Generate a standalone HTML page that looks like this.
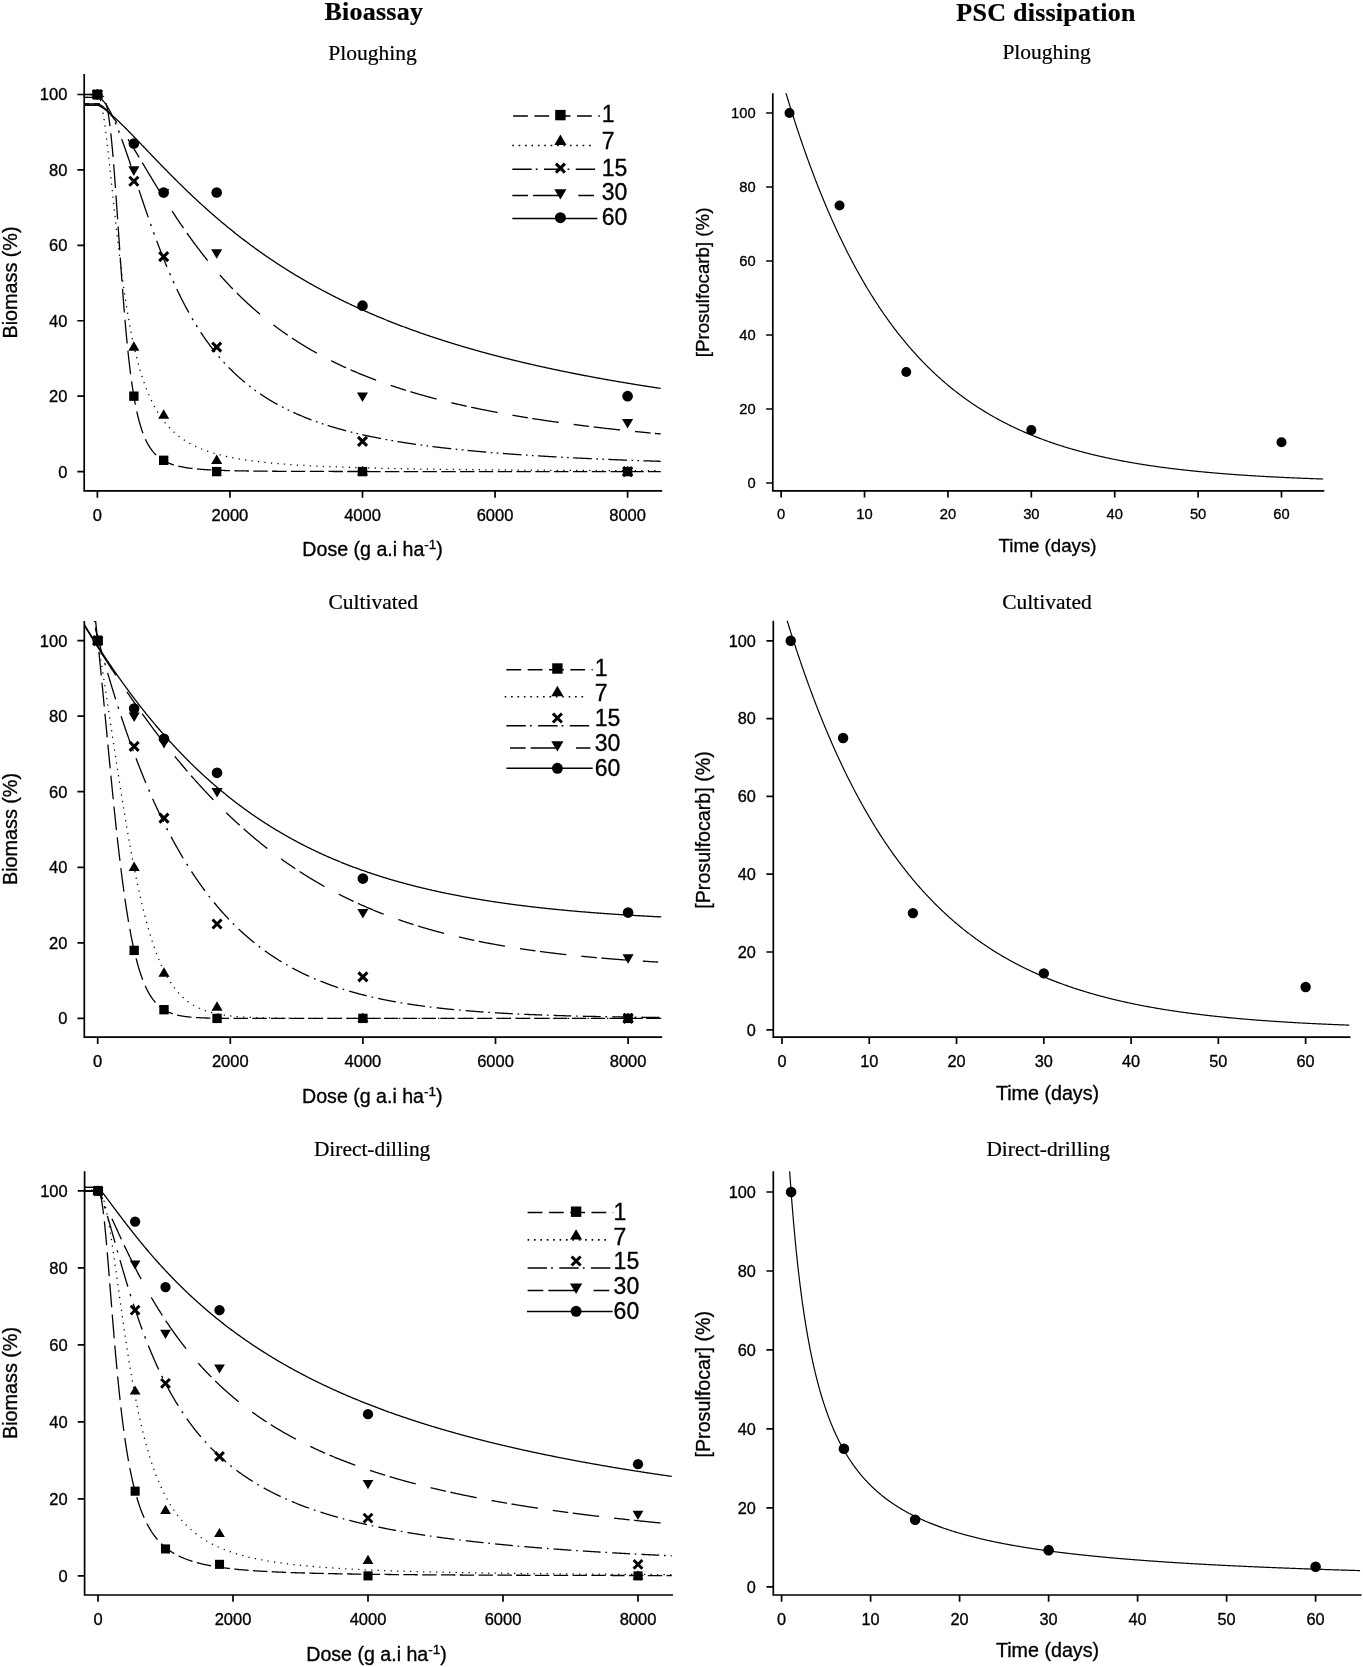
<!DOCTYPE html>
<html><head><meta charset="utf-8"><title>Figure</title>
<style>html,body{margin:0;padding:0;background:#fff}svg{display:block;will-change:transform;opacity:0.999}text{stroke:#000;stroke-width:0.33px;stroke-linejoin:round}text.t{stroke-width:0.22px}</style></head>
<body>
<svg width="1363" height="1667" viewBox="0 0 1363 1667">
<rect width="1363" height="1667" fill="#fff"/>
<text class="t" x="373.80" y="19.90" text-anchor="middle" font-family='"Liberation Serif", serif' font-size="26.00" font-weight="bold" letter-spacing="0.25" fill="#000">Bioassay</text>
<text class="t" x="1046.00" y="20.60" text-anchor="middle" font-family='"Liberation Serif", serif' font-size="26.00" font-weight="bold" letter-spacing="0.25" fill="#000">PSC dissipation</text>
<text class="t" x="372.50" y="59.70" text-anchor="middle" font-family='"Liberation Serif", serif' font-size="21.50" fill="#000">Ploughing</text>
<clipPath id="c1"><rect x="84.20" y="74.00" width="580.00" height="416.90"/></clipPath>
<g clip-path="url(#c1)">
<path d="M84.15 94.50 L84.79 94.50 L85.05 94.50 M89.45 94.50 L89.92 94.50 L90.56 94.50 L91.20 94.50 L91.84 94.50 L92.48 94.50 L93.12 94.50 L93.77 94.50 L94.41 94.50 L95.05 94.50 L95.69 94.50 L96.33 94.50 L96.97 94.50 L97.61 94.50 L98.26 94.50 L98.90 94.52 L99.54 94.56 L100.18 94.66 L100.82 94.84 L101.46 95.12 L102.10 95.54 L102.74 96.14 L103.39 96.95 L103.47 97.09 M105.96 103.08 L106.59 105.47 L107.23 108.33 L107.88 111.65 L108.52 115.46 L109.16 119.77 L109.80 124.60 L109.98 126.07 M110.81 133.28 L111.08 135.82 L111.72 142.19 L112.37 149.06 L113.01 156.39 L113.06 156.98 M113.66 164.24 L114.29 172.31 L114.93 180.80 L115.46 188.05 M115.98 195.34 L116.21 198.62 L116.85 207.83 L117.50 217.16 L117.63 219.18 M118.13 226.46 L118.14 226.58 L118.78 236.01 L119.42 245.40 L119.76 250.31 M120.26 257.60 L120.70 263.92 L121.34 272.96 L121.96 281.43 M122.50 288.71 L122.63 290.42 L123.27 298.80 L123.91 306.91 L124.37 312.50 M124.98 319.77 L125.19 322.28 L125.83 329.53 L126.48 336.47 L127.12 343.12 L127.15 343.49 M127.89 350.72 L128.40 355.51 L129.04 361.28 L129.68 366.76 L130.32 371.96 L130.62 374.28 M131.58 381.44 L131.61 381.60 L132.25 386.04 L132.89 390.25 L133.53 394.24 L134.17 398.01 L134.81 401.58 L135.38 404.58 M136.81 411.51 L137.38 414.03 L138.02 416.74 L138.66 419.30 L139.30 421.72 L139.94 424.01 L140.59 426.17 L141.23 428.22 L141.87 430.17 L142.51 432.01 L142.94 433.19 M145.43 439.23 L145.72 439.86 L146.36 441.19 L147.00 442.46 L147.64 443.66 L148.28 444.81 L148.92 445.89 L149.56 446.93 L150.21 447.91 L150.85 448.84 L151.49 449.73 L152.13 450.58 L152.77 451.39 L153.41 452.16 L154.05 452.89 L154.70 453.59 L155.34 454.25 L155.98 454.89 L156.14 455.04 M160.07 458.32 L160.47 458.61 L161.11 459.06 L161.75 459.48 L162.39 459.89 L163.03 460.28 L163.68 460.65 L164.32 461.01 L164.96 461.35 L165.60 461.68 L166.24 462.00 L166.88 462.30 L167.52 462.59 L168.16 462.87 L168.81 463.14 L169.45 463.40 L170.09 463.65 L170.73 463.89 L171.37 464.12 L172.01 464.34 L172.65 464.55 L173.30 464.76 L173.88 464.94 M178.22 466.11 L178.43 466.16 L179.07 466.30 L179.71 466.45 L180.35 466.59 L180.99 466.72 L181.63 466.85 L182.27 466.97 L182.92 467.09 L183.56 467.21 L184.20 467.32 L184.84 467.43 L185.48 467.54 L186.12 467.64 L186.76 467.74 L187.41 467.84 L188.05 467.93 L188.69 468.02 L189.33 468.11 L189.97 468.19 L190.61 468.27 L191.25 468.35 L191.90 468.43 L192.54 468.50 L192.54 468.50 M196.94 468.96 L197.03 468.97 L197.67 469.03 L198.31 469.08 L198.95 469.14 L199.59 469.19 L200.23 469.25 L200.87 469.30 L201.52 469.35 L202.16 469.40 L202.80 469.44 L203.44 469.49 L204.08 469.53 L204.72 469.58 L205.36 469.62 L206.01 469.66 L206.65 469.70 L207.29 469.74 L207.93 469.78 L208.57 469.81 L209.21 469.85 L209.85 469.88 L210.50 469.92 L211.14 469.95 L211.32 469.96 M215.72 470.17 L216.27 470.19 L216.91 470.22 L217.55 470.24 L218.19 470.27 L218.83 470.29 L219.47 470.32 L220.12 470.34 L220.76 470.36 L221.40 470.39 L222.04 470.41 L222.68 470.43 L223.32 470.45 L223.96 470.47 L224.61 470.49 L225.25 470.51 L225.89 470.53 L226.53 470.55 L227.17 470.57 L227.81 470.58 L228.45 470.60 L229.09 470.62 L229.74 470.64 L230.12 470.65 M234.52 470.75 L234.87 470.76 L235.51 470.77 L236.15 470.78 L236.79 470.80 L237.43 470.81 L238.07 470.82 L238.72 470.84 L239.36 470.85 L240.00 470.86 L240.64 470.87 L241.28 470.88 L241.92 470.89 L242.56 470.91 L243.21 470.92 L243.85 470.93 L244.49 470.94 L245.13 470.95 L245.77 470.96 L246.41 470.97 L247.05 470.98 L247.69 470.99 L248.34 471.00 L248.92 471.00 M253.32 471.06 L253.47 471.06 L254.11 471.07 L254.75 471.08 L255.39 471.09 L256.03 471.09 L256.67 471.10 L257.32 471.11 L257.96 471.11 L258.60 471.12 L259.24 471.13 L259.88 471.13 L260.52 471.14 L261.16 471.15 L261.80 471.15 L262.45 471.16 L263.09 471.17 L263.73 471.17 L264.37 471.18 L265.01 471.18 L265.65 471.19 L266.29 471.19 L266.94 471.20 L267.58 471.20 L267.72 471.21 M272.12 471.24 L272.71 471.24 L273.35 471.25 L273.99 471.25 L274.63 471.26 L275.27 471.26 L275.91 471.27 L276.56 471.27 L277.20 471.27 L277.84 471.28 L278.48 471.28 L279.12 471.29 L279.76 471.29 L280.40 471.29 L281.05 471.30 L281.69 471.30 L282.33 471.31 L282.97 471.31 L283.61 471.31 L284.25 471.32 L284.89 471.32 L285.54 471.32 L286.18 471.33 L286.52 471.33 M290.92 471.35 L291.31 471.35 L291.95 471.35 L292.59 471.36 L293.23 471.36 L293.87 471.36 L294.51 471.37 L295.16 471.37 L295.80 471.37 L296.44 471.37 L297.08 471.38 L297.72 471.38 L298.36 471.38 L299.00 471.38 L299.65 471.39 L300.29 471.39 L300.93 471.39 L301.57 471.39 L302.21 471.40 L302.85 471.40 L303.49 471.40 L304.14 471.40 L304.78 471.40 L305.32 471.41 M309.72 471.42 L309.91 471.42 L310.55 471.42 L311.19 471.42 L311.83 471.43 L312.47 471.43 L313.11 471.43 L313.76 471.43 L314.40 471.43 L315.04 471.43 L315.68 471.44 L316.32 471.44 L316.96 471.44 L317.60 471.44 L318.25 471.44 L318.89 471.44 L319.53 471.45 L320.17 471.45 L320.81 471.45 L321.45 471.45 L322.09 471.45 L322.74 471.45 L323.38 471.46 L324.02 471.46 L324.12 471.46 M328.52 471.47 L329.15 471.47 L329.79 471.47 L330.43 471.47 L331.07 471.47 L331.71 471.47 L332.36 471.47 L333.00 471.48 L333.64 471.48 L334.28 471.48 L334.92 471.48 L335.56 471.48 L336.20 471.48 L336.85 471.48 L337.49 471.48 L338.13 471.48 L338.77 471.49 L339.41 471.49 L340.05 471.49 L340.69 471.49 L341.33 471.49 L341.98 471.49 L342.62 471.49 L342.92 471.49 M347.32 471.50 L347.75 471.50 L348.39 471.50 L349.03 471.50 L349.67 471.50 L350.31 471.50 L350.96 471.50 L351.60 471.50 L352.24 471.51 L352.88 471.51 L353.52 471.51 L354.16 471.51 L354.80 471.51 L355.44 471.51 L356.09 471.51 L356.73 471.51 L357.37 471.51 L358.01 471.51 L358.65 471.51 L359.29 471.51 L359.93 471.52 L360.58 471.52 L361.22 471.52 L361.72 471.52 M366.12 471.52 L366.35 471.52 L366.99 471.52 L367.63 471.52 L368.27 471.52 L368.91 471.52 L369.56 471.53 L370.20 471.53 L370.84 471.53 L371.48 471.53 L372.12 471.53 L372.76 471.53 L373.40 471.53 L374.04 471.53 L374.69 471.53 L375.33 471.53 L375.97 471.53 L376.61 471.53 L377.25 471.53 L377.89 471.53 L378.53 471.53 L379.18 471.53 L379.82 471.53 L380.46 471.54 L380.52 471.54 M384.92 471.54 L384.95 471.54 L385.59 471.54 L386.23 471.54 L386.87 471.54 L387.51 471.54 L388.15 471.54 L388.80 471.54 L389.44 471.54 L390.08 471.54 L390.72 471.54 L391.36 471.54 L392.00 471.54 L392.64 471.54 L393.29 471.54 L393.93 471.54 L394.57 471.55 L395.21 471.55 L395.85 471.55 L396.49 471.55 L397.13 471.55 L397.78 471.55 L398.42 471.55 L399.06 471.55 L399.32 471.55 M403.72 471.55 L404.19 471.55 L404.83 471.55 L405.47 471.55 L406.11 471.55 L406.75 471.55 L407.40 471.55 L408.04 471.55 L408.68 471.55 L409.32 471.55 L409.96 471.55 L410.60 471.55 L411.24 471.56 L411.89 471.56 L412.53 471.56 L413.17 471.56 L413.81 471.56 L414.45 471.56 L415.09 471.56 L415.73 471.56 L416.38 471.56 L417.02 471.56 L417.66 471.56 L418.12 471.56 M422.52 471.56 L422.79 471.56 L423.43 471.56 L424.07 471.56 L424.71 471.56 L425.35 471.56 L426.00 471.56 L426.64 471.56 L427.28 471.56 L427.92 471.56 L428.56 471.56 L429.20 471.56 L429.84 471.56 L430.49 471.56 L431.13 471.56 L431.77 471.56 L432.41 471.56 L433.05 471.56 L433.69 471.56 L434.33 471.57 L434.97 471.57 L435.62 471.57 L436.26 471.57 L436.90 471.57 L436.92 471.57 M441.32 471.57 L441.39 471.57 L442.03 471.57 L442.67 471.57 L443.31 471.57 L443.95 471.57 L444.60 471.57 L445.24 471.57 L445.88 471.57 L446.52 471.57 L447.16 471.57 L447.80 471.57 L448.44 471.57 L449.09 471.57 L449.73 471.57 L450.37 471.57 L451.01 471.57 L451.65 471.57 L452.29 471.57 L452.93 471.57 L453.57 471.57 L454.22 471.57 L454.86 471.57 L455.50 471.57 L455.72 471.57 M460.12 471.57 L460.63 471.57 L461.27 471.57 L461.91 471.57 L462.55 471.57 L463.20 471.57 L463.84 471.57 L464.48 471.57 L465.12 471.57 L465.76 471.57 L466.40 471.57 L467.04 471.57 L467.68 471.58 L468.33 471.58 L468.97 471.58 L469.61 471.58 L470.25 471.58 L470.89 471.58 L471.53 471.58 L472.17 471.58 L472.82 471.58 L473.46 471.58 L474.10 471.58 L474.52 471.58 M478.92 471.58 L479.23 471.58 L479.87 471.58 L480.51 471.58 L481.15 471.58 L481.79 471.58 L482.44 471.58 L483.08 471.58 L483.72 471.58 L484.36 471.58 L485.00 471.58 L485.64 471.58 L486.28 471.58 L486.93 471.58 L487.57 471.58 L488.21 471.58 L488.85 471.58 L489.49 471.58 L490.13 471.58 L490.77 471.58 L491.42 471.58 L492.06 471.58 L492.70 471.58 L493.32 471.58 M497.72 471.58 L497.83 471.58 L498.47 471.58 L499.11 471.58 L499.75 471.58 L500.39 471.58 L501.04 471.58 L501.68 471.58 L502.32 471.58 L502.96 471.58 L503.60 471.58 L504.24 471.58 L504.88 471.58 L505.53 471.58 L506.17 471.58 L506.81 471.58 L507.45 471.58 L508.09 471.58 L508.73 471.58 L509.37 471.58 L510.02 471.58 L510.66 471.58 L511.30 471.58 L511.94 471.58 L512.12 471.58 M516.52 471.58 L517.07 471.58 L517.71 471.58 L518.35 471.58 L518.99 471.58 L519.64 471.58 L520.28 471.58 L520.92 471.58 L521.56 471.58 L522.20 471.58 L522.84 471.58 L523.48 471.58 L524.13 471.58 L524.77 471.58 L525.41 471.59 L526.05 471.59 L526.69 471.59 L527.33 471.59 L527.97 471.59 L528.62 471.59 L529.26 471.59 L529.90 471.59 L530.54 471.59 L530.92 471.59 M535.32 471.59 L535.67 471.59 L536.31 471.59 L536.95 471.59 L537.59 471.59 L538.24 471.59 L538.88 471.59 L539.52 471.59 L540.16 471.59 L540.80 471.59 L541.44 471.59 L542.08 471.59 L542.73 471.59 L543.37 471.59 L544.01 471.59 L544.65 471.59 L545.29 471.59 L545.93 471.59 L546.57 471.59 L547.21 471.59 L547.86 471.59 L548.50 471.59 L549.14 471.59 L549.72 471.59 M554.12 471.59 L554.27 471.59 L554.91 471.59 L555.55 471.59 L556.19 471.59 L556.84 471.59 L557.48 471.59 L558.12 471.59 L558.76 471.59 L559.40 471.59 L560.04 471.59 L560.68 471.59 L561.33 471.59 L561.97 471.59 L562.61 471.59 L563.25 471.59 L563.89 471.59 L564.53 471.59 L565.17 471.59 L565.81 471.59 L566.46 471.59 L567.10 471.59 L567.74 471.59 L568.38 471.59 L568.52 471.59 M572.92 471.59 L573.51 471.59 L574.15 471.59 L574.79 471.59 L575.44 471.59 L576.08 471.59 L576.72 471.59 L577.36 471.59 L578.00 471.59 L578.64 471.59 L579.28 471.59 L579.92 471.59 L580.57 471.59 L581.21 471.59 L581.85 471.59 L582.49 471.59 L583.13 471.59 L583.77 471.59 L584.41 471.59 L585.06 471.59 L585.70 471.59 L586.34 471.59 L586.98 471.59 L587.32 471.59 M591.72 471.59 L592.11 471.59 L592.75 471.59 L593.39 471.59 L594.03 471.59 L594.68 471.59 L595.32 471.59 L595.96 471.59 L596.60 471.59 L597.24 471.59 L597.88 471.59 L598.52 471.59 L599.17 471.59 L599.81 471.59 L600.45 471.59 L601.09 471.59 L601.73 471.59 L602.37 471.59 L603.01 471.59 L603.66 471.59 L604.30 471.59 L604.94 471.59 L605.58 471.59 L606.12 471.59 M610.52 471.59 L610.71 471.59 L611.35 471.59 L611.99 471.59 L612.63 471.59 L613.28 471.59 L613.92 471.59 L614.56 471.59 L615.20 471.59 L615.84 471.59 L616.48 471.59 L617.12 471.59 L617.77 471.59 L618.41 471.59 L619.05 471.59 L619.69 471.59 L620.33 471.59 L620.97 471.59 L621.61 471.59 L622.26 471.59 L622.90 471.59 L623.54 471.59 L624.18 471.59 L624.82 471.59 L624.92 471.59 M629.32 471.59 L629.95 471.59 L630.59 471.59 L631.23 471.59 L631.88 471.59 L632.52 471.59 L633.16 471.59 L633.80 471.59 L634.44 471.59 L635.08 471.59 L635.72 471.59 L636.37 471.59 L637.01 471.59 L637.65 471.59 L638.29 471.59 L638.93 471.59 L639.57 471.59 L640.21 471.59 L640.86 471.59 L641.50 471.59 L642.14 471.59 L642.78 471.59 L643.42 471.59 L643.72 471.59 M648.12 471.59 L648.55 471.59 L649.19 471.59 L649.83 471.59 L650.48 471.59 L651.12 471.59 L651.76 471.59 L652.40 471.59 L653.04 471.59 L653.68 471.59 L654.32 471.59 L654.97 471.59 L655.61 471.59 L656.25 471.59 L656.89 471.59 L657.53 471.59 L658.17 471.59 L658.81 471.59 L659.45 471.59 L660.10 471.59 L660.74 471.59" stroke="#000" stroke-width="1.30" fill="none" stroke-linejoin="round"/>
<path d="M84.20 94.50 H100.05" stroke="#000" stroke-width="1.3" fill="none"/>
<path d="M84.15 94.59 L84.79 94.59 L85.40 94.59 M90.65 94.59 L91.20 94.59 L91.84 94.59 L91.90 94.59 M97.14 94.60 L97.61 94.62 L98.26 95.06 L98.26 95.07 M100.33 99.85 L100.66 101.06 M101.83 106.18 L102.08 107.40 M102.99 112.57 L103.20 113.80 M104.00 118.99 L104.03 119.17 L104.18 120.23 M104.90 125.43 L105.07 126.67 M105.74 131.87 L105.90 133.11 M106.54 138.32 L106.59 138.76 L106.69 139.57 M107.30 144.78 L107.44 146.02 M108.04 151.24 L108.18 152.48 M108.76 157.70 L108.89 158.94 M109.46 164.16 L109.59 165.40 M110.16 170.62 L110.29 171.87 M110.84 177.09 L110.98 178.33 M111.53 183.55 L111.66 184.79 M112.21 190.01 L112.34 191.26 M112.90 196.48 L113.01 197.52 L113.03 197.72 M113.58 202.94 L113.65 203.55 L113.72 204.18 M114.28 209.40 L114.29 209.53 L114.41 210.65 M114.97 215.87 L115.11 217.11 M115.68 222.33 L115.82 223.57 M116.40 228.79 L116.54 230.03 M117.13 235.25 L117.27 236.49 M117.87 241.70 L118.01 242.95 M118.63 248.16 L118.77 249.40 M119.40 254.61 L119.42 254.78 L119.55 255.85 M120.20 261.07 L120.35 262.31 M121.01 267.51 L121.17 268.75 M121.85 273.96 L121.99 274.98 L122.01 275.20 M122.72 280.40 L122.89 281.64 M123.61 286.84 L123.79 288.08 M124.54 293.27 L124.55 293.36 L124.72 294.51 M125.50 299.70 L125.69 300.94 M126.51 306.12 L126.70 307.36 M127.55 312.54 L127.76 313.77 M128.65 318.95 L128.86 320.18 M129.79 325.34 L130.02 326.57 M131.00 331.73 L131.24 332.96 M132.28 338.10 L132.53 339.33 M133.63 344.46 L133.89 345.68 M135.06 350.80 L135.34 352.02 M136.58 357.12 L136.74 357.74 L136.89 358.33 M138.22 363.41 L138.54 364.62 M139.97 369.67 L140.32 370.87 M141.85 375.89 L141.87 375.94 L142.24 377.08 M143.90 382.06 L144.31 383.24 M146.12 388.17 L146.36 388.80 L146.57 389.34 M148.54 394.20 L148.92 395.10 L149.03 395.35 M151.19 400.14 L151.49 400.76 L151.73 401.26 M154.11 405.95 L154.70 407.04 L154.70 407.05 M157.31 411.60 L157.90 412.57 L157.96 412.67 M160.84 417.06 L161.11 417.45 L161.56 418.08 M164.71 422.27 L164.96 422.58 L165.50 423.25 M168.95 427.20 L169.45 427.73 L169.81 428.11 M173.56 431.78 L173.94 432.13 L174.49 432.62 M178.52 435.99 L179.07 436.41 L179.51 436.75 M183.79 439.78 L184.20 440.05 L184.84 440.47 M189.34 443.17 L189.97 443.52 L190.43 443.77 M195.11 446.16 L195.74 446.46 L196.24 446.69 M201.05 448.78 L201.52 448.97 L202.16 449.22 L202.21 449.24 M207.14 451.07 L207.29 451.12 L207.93 451.34 L208.32 451.47 M213.32 453.06 L213.70 453.18 L214.34 453.36 L214.52 453.42 M219.59 454.80 L220.12 454.94 L220.76 455.10 L220.80 455.11 M225.90 456.32 L226.53 456.46 L227.12 456.59 M232.27 457.66 L232.30 457.66 L232.94 457.79 L233.49 457.89 M238.66 458.83 L238.72 458.84 L239.36 458.95 L239.89 459.04 M245.08 459.86 L245.13 459.87 L245.77 459.97 L246.31 460.05 M251.51 460.78 L251.54 460.78 L252.18 460.87 L252.75 460.94 M257.96 461.60 L258.60 461.67 L259.20 461.74 M264.42 462.32 L265.01 462.39 L265.65 462.45 L265.66 462.45 M270.89 462.98 L271.43 463.03 L272.07 463.09 L272.13 463.09 M277.36 463.56 L277.84 463.60 L278.48 463.66 L278.61 463.67 M283.84 464.09 L284.25 464.12 L284.89 464.17 L285.08 464.19 M290.32 464.57 L290.67 464.59 L291.31 464.64 L291.57 464.66 M296.81 465.00 L297.08 465.02 L297.72 465.06 L298.05 465.08 M303.29 465.40 L303.49 465.41 L304.14 465.45 L304.54 465.47 M309.78 465.76 L309.91 465.77 L310.55 465.80 L311.03 465.83 M316.28 466.09 L316.32 466.09 L316.96 466.13 L317.52 466.15 M322.77 466.40 L323.38 466.42 L324.02 466.45 M329.26 466.67 L329.79 466.70 L330.43 466.72 L330.51 466.73 M335.76 466.93 L336.20 466.95 L336.85 466.97 L337.01 466.98 M342.25 467.17 L342.62 467.18 L343.26 467.20 L343.50 467.21 M348.75 467.39 L349.03 467.40 L349.67 467.42 L350.00 467.43 M355.25 467.59 L355.44 467.60 L356.09 467.62 L356.50 467.63 M361.74 467.78 L361.86 467.79 L362.50 467.80 L362.99 467.82 M368.24 467.96 L368.27 467.96 L368.91 467.98 L369.49 467.99 M374.74 468.12 L375.33 468.14 L375.97 468.15 L375.99 468.15 M381.24 468.28 L381.74 468.29 L382.38 468.30 L382.49 468.30 M387.74 468.42 L388.15 468.43 L388.80 468.44 L388.99 468.45 M394.23 468.55 L394.57 468.56 L395.21 468.57 L395.48 468.58 M400.73 468.68 L400.98 468.68 L401.62 468.70 L401.98 468.70 M407.23 468.80 L407.40 468.80 L408.04 468.81 L408.48 468.82 M413.73 468.91 L413.81 468.91 L414.45 468.92 L414.98 468.93 M420.23 469.01 L420.86 469.02 L421.48 469.03 M426.73 469.11 L427.28 469.12 L427.92 469.13 L427.98 469.13 M433.23 469.21 L433.69 469.21 L434.33 469.22 L434.48 469.22 M439.73 469.29 L440.11 469.30 L440.75 469.31 L440.98 469.31 M446.23 469.38 L446.52 469.38 L447.16 469.39 L447.48 469.39 M452.73 469.46 L452.93 469.46 L453.57 469.47 L453.98 469.47 M459.23 469.53 L459.35 469.53 L459.99 469.54 L460.48 469.54 M465.73 469.60 L465.76 469.60 L466.40 469.61 L466.98 469.61 M472.23 469.67 L472.82 469.67 L473.46 469.68 L473.48 469.68 M478.73 469.73 L479.23 469.74 L479.87 469.74 L479.98 469.74 M485.23 469.79 L485.64 469.80 L486.28 469.80 L486.47 469.80 M491.72 469.85 L492.06 469.85 L492.70 469.86 L492.97 469.86 M498.22 469.91 L498.47 469.91 L499.11 469.91 L499.47 469.92 M504.72 469.96 L504.88 469.96 L505.53 469.96 L505.97 469.97 M511.22 470.01 L511.30 470.01 L511.94 470.01 L512.47 470.02 M517.72 470.06 L518.35 470.06 L518.97 470.07 M524.22 470.10 L524.77 470.11 L525.41 470.11 L525.47 470.11 M530.72 470.15 L531.18 470.15 L531.82 470.15 L531.97 470.15 M537.22 470.19 L537.59 470.19 L538.24 470.19 L538.47 470.20 M543.72 470.23 L544.01 470.23 L544.65 470.23 L544.97 470.24 M550.22 470.27 L550.42 470.27 L551.06 470.27 L551.47 470.27 M556.72 470.30 L556.84 470.30 L557.48 470.31 L557.97 470.31 M563.22 470.34 L563.25 470.34 L563.89 470.34 L564.47 470.34 M569.72 470.37 L570.30 470.37 L570.95 470.38 L570.97 470.38 M576.22 470.40 L576.72 470.41 L577.36 470.41 L577.47 470.41 M582.72 470.44 L583.13 470.44 L583.77 470.44 L583.97 470.44 M589.22 470.47 L589.55 470.47 L590.19 470.47 L590.47 470.47 M595.72 470.49 L595.96 470.50 L596.60 470.50 L596.97 470.50 M602.22 470.52 L602.37 470.52 L603.01 470.53 L603.47 470.53 M608.72 470.55 L608.79 470.55 L609.43 470.55 L609.97 470.55 M615.22 470.57 L615.84 470.58 L616.47 470.58 M621.72 470.60 L622.26 470.60 L622.90 470.60 L622.97 470.60 M628.22 470.62 L628.67 470.62 L629.31 470.63 L629.47 470.63 M634.72 470.65 L635.08 470.65 L635.72 470.65 L635.97 470.65 M641.22 470.67 L641.50 470.67 L642.14 470.67 L642.47 470.67 M647.72 470.69 L647.91 470.69 L648.55 470.69 L648.97 470.69 M654.22 470.71 L654.32 470.71 L654.97 470.71 L655.47 470.71 M660.72 470.73 L660.74 470.73" stroke="#000" stroke-width="1.25" fill="none" stroke-linejoin="round"/>
<path d="M86.15 97.40 L86.71 97.40 L87.35 97.40 L87.75 97.40 M92.05 97.40 L92.48 97.40 L93.12 97.40 L93.65 97.40 M98.04 97.48 L98.26 97.52 L98.90 97.72 L99.54 98.00 L100.18 98.36 L100.82 98.79 L101.46 99.28 L102.10 99.85 L102.74 100.47 L103.39 101.15 L104.03 101.90 L104.67 102.70 L105.31 103.55 L105.95 104.46 L106.59 105.41 L107.23 106.42 L107.88 107.47 L108.52 108.57 L109.16 109.72 L109.80 110.91 L110.44 112.14 L111.08 113.41 L111.72 114.71 L112.37 116.06 L112.45 116.25 M115.19 122.41 L115.57 123.30 L116.11 124.59 M118.49 130.56 L118.78 131.29 L119.36 132.80 M121.68 139.03 L121.99 139.86 L122.63 141.63 L123.27 143.42 L123.91 145.22 L124.55 147.04 L125.19 148.87 L125.83 150.72 L126.48 152.58 L127.12 154.45 L127.76 156.32 L128.40 158.21 L129.04 160.11 L129.68 162.01 L130.32 163.92 L130.97 165.84 L131.03 166.02 M133.26 172.73 L133.53 173.55 L134.03 175.06 M136.11 181.33 L136.74 183.23 L136.88 183.67 M139.01 190.09 L139.30 190.96 L139.94 192.89 L140.59 194.81 L141.23 196.73 L141.87 198.64 L142.51 200.55 L143.15 202.46 L143.79 204.36 L144.43 206.25 L145.08 208.14 L145.72 210.02 L146.36 211.89 L147.00 213.76 L147.64 215.62 L148.20 217.23 M150.52 223.85 L150.85 224.78 L151.33 226.15 M153.54 232.30 L154.05 233.71 L154.37 234.58 M156.68 240.82 L157.26 242.39 L157.90 244.09 L158.54 245.78 L159.19 247.46 L159.83 249.13 L160.47 250.79 L161.11 252.44 L161.75 254.08 L162.39 255.70 L163.03 257.31 L163.68 258.91 L164.32 260.50 L164.96 262.08 L165.60 263.65 L166.24 265.20 L166.88 266.74 L166.94 266.88 M169.59 273.14 L170.09 274.28 L170.53 275.30 M173.09 281.06 L173.30 281.52 L173.94 282.94 L174.05 283.19 M176.74 288.99 L177.14 289.83 L177.79 291.18 L178.43 292.51 L179.07 293.83 L179.71 295.14 L180.35 296.44 L180.99 297.73 L181.63 299.00 L182.27 300.27 L182.92 301.53 L183.56 302.77 L184.20 304.00 L184.84 305.23 L185.48 306.44 L186.12 307.64 L186.76 308.83 L187.41 310.01 L188.05 311.18 L188.69 312.34 L188.88 312.68 M192.05 318.24 L192.54 319.08 L193.17 320.15 M196.22 325.20 L196.38 325.47 L197.03 326.50 L197.37 327.05 M200.59 332.06 L200.87 332.50 L201.52 333.47 L202.16 334.43 L202.80 335.38 L203.44 336.32 L204.08 337.25 L204.72 338.18 L205.36 339.10 L206.01 340.01 L206.65 340.91 L207.29 341.80 L207.93 342.68 L208.57 343.56 L209.21 344.43 L209.85 345.29 L210.50 346.14 L211.14 346.99 L211.78 347.83 L212.42 348.66 L213.06 349.48 L213.70 350.29 L214.34 351.10 L214.98 351.90 L214.99 351.91 M218.71 356.42 L218.83 356.56 L219.47 357.31 L220.02 357.95 M223.58 361.97 L223.96 362.40 L224.61 363.10 L224.92 363.44 M228.63 367.36 L229.09 367.83 L229.74 368.49 L230.38 369.13 L231.02 369.77 L231.66 370.41 L232.30 371.04 L232.94 371.67 L233.58 372.29 L234.23 372.90 L234.87 373.51 L235.51 374.11 L236.15 374.71 L236.79 375.30 L237.43 375.89 L238.07 376.48 L238.72 377.05 L239.36 377.63 L240.00 378.20 L240.64 378.76 L241.28 379.32 L241.92 379.87 L242.56 380.42 L243.21 380.97 L243.85 381.51 L244.49 382.04 L244.99 382.46 M249.13 385.79 L249.62 386.17 L250.26 386.67 L250.58 386.91 M254.50 389.85 L254.75 390.03 L255.39 390.50 L255.97 390.91 M260.03 393.75 L260.52 394.08 L261.16 394.52 L261.80 394.94 L262.45 395.37 L263.09 395.79 L263.73 396.21 L264.37 396.63 L265.01 397.04 L265.65 397.45 L266.29 397.85 L266.94 398.25 L267.58 398.65 L268.22 399.05 L268.86 399.44 L269.50 399.83 L270.14 400.22 L270.78 400.60 L271.43 400.98 L272.07 401.36 L272.71 401.73 L273.35 402.11 L273.99 402.48 L274.63 402.84 L275.27 403.20 L275.91 403.56 L276.56 403.92 L277.20 404.28 L277.58 404.49 M281.96 406.83 L282.33 407.02 L282.97 407.35 L283.49 407.62 M287.61 409.68 L288.10 409.92 L288.74 410.23 L289.14 410.42 M293.38 412.40 L293.87 412.63 L294.51 412.92 L295.16 413.21 L295.80 413.49 L296.44 413.78 L297.08 414.06 L297.72 414.34 L298.36 414.62 L299.00 414.89 L299.65 415.17 L300.29 415.44 L300.93 415.71 L301.57 415.98 L302.21 416.24 L302.85 416.51 L303.49 416.77 L304.14 417.03 L304.78 417.29 L305.42 417.54 L306.06 417.80 L306.70 418.05 L307.34 418.30 L307.98 418.55 L308.62 418.80 L309.27 419.05 L309.91 419.29 L310.55 419.54 L311.19 419.78 L311.53 419.90 M316.02 421.54 L316.32 421.65 L316.96 421.88 L317.59 422.10 M321.80 423.54 L322.09 423.64 L322.74 423.85 L323.37 424.06 M327.69 425.45 L327.87 425.51 L328.51 425.71 L329.15 425.91 L329.79 426.11 L330.43 426.31 L331.07 426.51 L331.71 426.70 L332.36 426.89 L333.00 427.09 L333.64 427.28 L334.28 427.47 L334.92 427.66 L335.56 427.84 L336.20 428.03 L336.85 428.21 L337.49 428.40 L338.13 428.58 L338.77 428.76 L339.41 428.94 L340.05 429.12 L340.69 429.30 L341.33 429.48 L341.98 429.65 L342.62 429.83 L343.26 430.00 L343.90 430.17 L344.54 430.35 L345.18 430.52 L345.82 430.69 L346.11 430.76 M350.66 431.93 L350.96 432.00 L351.60 432.17 L352.24 432.32 L352.24 432.33 M356.50 433.36 L356.73 433.41 L357.37 433.57 L358.01 433.72 L358.08 433.73 M362.44 434.73 L362.50 434.75 L363.14 434.89 L363.78 435.03 L364.42 435.18 L365.07 435.32 L365.71 435.46 L366.35 435.60 L366.99 435.74 L367.63 435.88 L368.27 436.01 L368.91 436.15 L369.56 436.29 L370.20 436.42 L370.84 436.55 L371.48 436.69 L372.12 436.82 L372.76 436.95 L373.40 437.08 L374.04 437.21 L374.69 437.34 L375.33 437.47 L375.97 437.60 L376.61 437.73 L377.25 437.85 L377.89 437.98 L378.53 438.11 L379.18 438.23 L379.82 438.35 L380.46 438.48 L381.00 438.58 M385.57 439.43 L385.59 439.44 L386.23 439.56 L386.87 439.67 L387.16 439.72 M391.43 440.48 L392.00 440.58 L392.64 440.69 L393.03 440.76 M397.40 441.50 L397.78 441.56 L398.42 441.66 L399.06 441.77 L399.70 441.87 L400.34 441.98 L400.98 442.08 L401.62 442.18 L402.26 442.29 L402.91 442.39 L403.55 442.49 L404.19 442.59 L404.83 442.69 L405.47 442.79 L406.11 442.89 L406.75 442.99 L407.40 443.09 L408.04 443.18 L408.68 443.28 L409.32 443.38 L409.96 443.47 L410.60 443.57 L411.24 443.66 L411.89 443.76 L412.53 443.85 L413.17 443.95 L413.81 444.04 L414.45 444.13 L415.09 444.23 L415.73 444.32 L416.02 444.36 M420.61 445.00 L420.86 445.03 L421.51 445.12 L422.15 445.21 L422.20 445.22 M426.49 445.79 L426.64 445.81 L427.28 445.89 L427.92 445.97 L428.08 446.00 M432.47 446.55 L433.05 446.63 L433.69 446.71 L434.33 446.79 L434.97 446.87 L435.62 446.94 L436.26 447.02 L436.90 447.10 L437.54 447.18 L438.18 447.25 L438.82 447.33 L439.46 447.41 L440.11 447.48 L440.75 447.56 L441.39 447.63 L442.03 447.71 L442.67 447.78 L443.31 447.86 L443.95 447.93 L444.60 448.01 L445.24 448.08 L445.88 448.15 L446.52 448.22 L447.16 448.30 L447.80 448.37 L448.44 448.44 L449.09 448.51 L449.73 448.58 L450.37 448.65 L451.01 448.72 L451.13 448.73 M455.72 449.23 L456.14 449.27 L456.78 449.34 L457.31 449.39 M461.60 449.83 L461.91 449.87 L462.55 449.93 L463.20 449.99 L463.20 450.00 M467.59 450.43 L467.68 450.44 L468.33 450.50 L468.97 450.56 L469.61 450.62 L470.25 450.68 L470.89 450.74 L471.53 450.80 L472.17 450.86 L472.82 450.92 L473.46 450.98 L474.10 451.04 L474.74 451.10 L475.38 451.16 L476.02 451.22 L476.66 451.28 L477.31 451.34 L477.95 451.40 L478.59 451.45 L479.23 451.51 L479.87 451.57 L480.51 451.62 L481.15 451.68 L481.79 451.74 L482.44 451.79 L483.08 451.85 L483.72 451.91 L484.36 451.96 L485.00 452.02 L485.64 452.07 L486.27 452.12 M490.86 452.51 L491.42 452.56 L492.06 452.61 L492.46 452.64 M496.75 452.99 L497.19 453.02 L497.83 453.07 L498.35 453.11 M502.75 453.46 L502.96 453.47 L503.60 453.52 L504.24 453.57 L504.88 453.62 L505.53 453.67 L506.17 453.71 L506.81 453.76 L507.45 453.81 L508.09 453.86 L508.73 453.90 L509.37 453.95 L510.02 454.00 L510.66 454.05 L511.30 454.09 L511.94 454.14 L512.58 454.18 L513.22 454.23 L513.86 454.28 L514.50 454.32 L515.15 454.37 L515.79 454.41 L516.43 454.46 L517.07 454.50 L517.71 454.55 L518.35 454.59 L518.99 454.64 L519.64 454.68 L520.28 454.72 L520.92 454.77 L521.43 454.80 M526.03 455.11 L526.05 455.11 L526.69 455.15 L527.33 455.20 L527.62 455.22 M531.92 455.49 L532.46 455.53 L533.10 455.57 L533.52 455.59 M537.92 455.87 L538.24 455.89 L538.88 455.93 L539.52 455.97 L540.16 456.01 L540.80 456.04 L541.44 456.08 L542.08 456.12 L542.73 456.16 L543.37 456.20 L544.01 456.24 L544.65 456.27 L545.29 456.31 L545.93 456.35 L546.57 456.39 L547.21 456.42 L547.86 456.46 L548.50 456.50 L549.14 456.54 L549.78 456.57 L550.42 456.61 L551.06 456.65 L551.70 456.68 L552.35 456.72 L552.99 456.75 L553.63 456.79 L554.27 456.83 L554.91 456.86 L555.55 456.90 L556.19 456.93 L556.61 456.96 M561.20 457.20 L561.33 457.21 L561.97 457.25 L562.61 457.28 L562.80 457.29 M567.10 457.52 L567.74 457.55 L568.38 457.58 L568.70 457.60 M573.10 457.82 L573.51 457.84 L574.15 457.87 L574.79 457.91 L575.44 457.94 L576.08 457.97 L576.72 458.00 L577.36 458.03 L578.00 458.06 L578.64 458.09 L579.28 458.13 L579.92 458.16 L580.57 458.19 L581.21 458.22 L581.85 458.25 L582.49 458.28 L583.13 458.31 L583.77 458.34 L584.41 458.37 L585.06 458.40 L585.70 458.43 L586.34 458.46 L586.98 458.49 L587.62 458.52 L588.26 458.55 L588.90 458.58 L589.55 458.61 L590.19 458.64 L590.83 458.67 L591.47 458.70 L591.79 458.71 M596.39 458.92 L596.60 458.93 L597.24 458.95 L597.88 458.98 L597.99 458.99 M602.29 459.17 L602.37 459.18 L603.01 459.20 L603.66 459.23 L603.89 459.24 M608.28 459.42 L608.79 459.45 L609.43 459.47 L610.07 459.50 L610.71 459.52 L611.35 459.55 L611.99 459.58 L612.63 459.60 L613.28 459.63 L613.92 459.65 L614.56 459.68 L615.20 459.71 L615.84 459.73 L616.48 459.76 L617.12 459.78 L617.77 459.81 L618.41 459.83 L619.05 459.86 L619.69 459.88 L620.33 459.91 L620.97 459.93 L621.61 459.96 L622.26 459.98 L622.90 460.01 L623.54 460.03 L624.18 460.06 L624.82 460.08 L625.46 460.10 L626.10 460.13 L626.74 460.15 L626.98 460.16 M631.58 460.33 L631.88 460.34 L632.52 460.37 L633.16 460.39 L633.18 460.39 M637.48 460.55 L637.65 460.55 L638.29 460.58 L638.93 460.60 L639.08 460.60 M643.47 460.76 L644.06 460.78 L644.70 460.80 L645.34 460.82 L645.99 460.84 L646.63 460.87 L647.27 460.89 L647.91 460.91 L648.55 460.93 L649.19 460.95 L649.83 460.97 L650.48 461.00 L651.12 461.02 L651.76 461.04 L652.40 461.06 L653.04 461.08 L653.68 461.10 L654.32 461.12 L654.97 461.14 L655.61 461.17 L656.25 461.19 L656.89 461.21 L657.53 461.23 L658.17 461.25 L658.81 461.27 L659.45 461.29 L660.10 461.31 L660.74 461.33" stroke="#000" stroke-width="1.30" fill="none" stroke-linejoin="round"/>
<path d="M84.20 97.40 H100.05" stroke="#000" stroke-width="1.3" fill="none"/>
<path d="M84.15 103.78 L84.79 103.78 L85.43 103.78 L86.07 103.78 L86.71 103.78 L87.35 103.78 L87.99 103.78 L88.63 103.78 L89.15 103.78 M93.65 103.78 L93.77 103.78 L94.41 103.78 L95.05 103.78 L95.69 103.78 L96.33 103.78 L96.97 103.78 L97.61 103.81 L98.26 103.96 L98.90 104.19 L99.54 104.48 L100.18 104.82 L100.82 105.20 L101.46 105.62 L102.10 106.08 L102.74 106.56 L103.39 107.08 L104.03 107.62 L104.67 108.19 L105.31 108.78 L105.95 109.40 L106.59 110.04 L107.23 110.70 L107.88 111.38 L108.52 112.08 L109.16 112.79 L109.80 113.53 L110.44 114.28 L111.08 115.04 L111.72 115.83 L112.37 116.62 L113.01 117.43 L113.65 118.26 L114.29 119.09 L114.93 119.94 L115.57 120.80 L116.21 121.68 L116.85 122.56 L116.86 122.57 M128.01 139.29 L128.40 139.90 L129.04 140.92 L129.68 141.95 L130.32 142.98 L130.97 144.01 L131.61 145.05 L132.25 146.09 L132.89 147.13 L133.53 148.18 L134.17 149.23 L134.81 150.29 L135.45 151.34 L136.10 152.40 L136.74 153.46 L137.38 154.52 L138.02 155.58 L138.66 156.64 L139.09 157.36 M142.27 162.66 L142.51 163.05 L143.15 164.12 L143.79 165.19 L144.43 166.26 L145.08 167.33 L145.72 168.40 L146.36 169.47 L147.00 170.54 L147.64 171.61 L148.28 172.68 L148.92 173.75 L149.56 174.81 L150.21 175.88 L150.85 176.94 L151.49 178.01 L152.13 179.07 L152.77 180.13 L153.41 181.19 L154.05 182.25 L154.70 183.31 L155.34 184.36 L155.98 185.41 L156.62 186.47 L157.26 187.52 L157.90 188.56 L158.54 189.61 L159.19 190.65 L159.83 191.69 L160.47 192.73 L161.09 193.75 M171.98 210.94 L172.01 210.99 L172.65 211.98 L173.30 212.96 L173.94 213.94 L174.58 214.92 L175.22 215.89 L175.86 216.86 L176.50 217.83 L177.14 218.79 L177.79 219.75 L178.43 220.71 L179.07 221.66 L179.71 222.61 L180.35 223.56 L180.99 224.50 L181.63 225.44 L182.27 226.38 L182.92 227.31 L183.52 228.19 M186.93 233.08 L187.41 233.75 L188.05 234.65 L188.69 235.55 L189.33 236.45 L189.97 237.34 L190.61 238.23 L191.25 239.12 L191.90 240.00 L192.54 240.88 L193.18 241.76 L193.82 242.63 L194.46 243.50 L195.10 244.36 L195.74 245.22 L196.38 246.08 L197.03 246.93 L197.67 247.78 L198.31 248.63 L198.95 249.47 L199.59 250.31 L200.23 251.15 L200.87 251.98 L201.52 252.81 L202.16 253.63 L202.80 254.45 L203.44 255.27 L204.08 256.08 L204.72 256.89 L205.36 257.70 L206.01 258.50 L206.65 259.30 L207.29 260.10 L207.67 260.57 M219.90 275.03 L220.12 275.27 L220.76 275.99 L221.40 276.71 L222.04 277.43 L222.68 278.14 L223.32 278.85 L223.96 279.56 L224.61 280.26 L225.25 280.96 L225.89 281.65 L226.53 282.34 L227.17 283.03 L227.81 283.72 L228.45 284.40 L229.09 285.08 L229.74 285.76 L230.38 286.43 L231.02 287.10 L231.66 287.77 L232.30 288.43 L232.92 289.06 M236.76 292.95 L236.79 292.98 L237.43 293.62 L238.07 294.26 L238.72 294.89 L239.36 295.52 L240.00 296.14 L240.64 296.77 L241.28 297.39 L241.92 298.00 L242.56 298.62 L243.21 299.23 L243.85 299.84 L244.49 300.44 L245.13 301.05 L245.77 301.64 L246.41 302.24 L247.05 302.84 L247.69 303.43 L248.34 304.01 L248.98 304.60 L249.62 305.18 L250.26 305.76 L250.90 306.34 L251.54 306.91 L252.18 307.48 L252.83 308.05 L253.47 308.62 L254.11 309.18 L254.75 309.74 L255.39 310.30 L256.03 310.85 L256.67 311.41 L257.32 311.96 L257.96 312.50 L258.60 313.05 L259.24 313.59 L259.88 314.13 L259.98 314.22 M273.51 325.00 L273.99 325.36 L274.63 325.85 L275.27 326.33 L275.91 326.81 L276.56 327.28 L277.20 327.76 L277.84 328.23 L278.48 328.70 L279.12 329.16 L279.76 329.63 L280.40 330.09 L281.05 330.55 L281.69 331.01 L282.33 331.47 L282.97 331.92 L283.61 332.37 L284.25 332.82 L284.89 333.27 L285.54 333.72 L286.18 334.16 L286.82 334.60 L287.46 335.04 L287.74 335.24 M291.92 338.04 L291.95 338.06 L292.59 338.49 L293.23 338.91 L293.87 339.33 L294.51 339.74 L295.16 340.16 L295.80 340.57 L296.44 340.98 L297.08 341.39 L297.72 341.80 L298.36 342.21 L299.00 342.61 L299.65 343.01 L300.29 343.42 L300.93 343.81 L301.57 344.21 L302.21 344.61 L302.85 345.00 L303.49 345.39 L304.14 345.78 L304.78 346.17 L305.42 346.55 L306.06 346.94 L306.70 347.32 L307.34 347.70 L307.98 348.08 L308.62 348.46 L309.27 348.83 L309.91 349.21 L310.55 349.58 L311.19 349.95 L311.83 350.32 L312.47 350.69 L313.11 351.05 L313.76 351.41 L314.40 351.78 L315.04 352.14 L315.68 352.50 L316.32 352.85 L316.82 353.13 M331.12 360.67 L331.71 360.97 L332.36 361.29 L333.00 361.61 L333.64 361.92 L334.28 362.24 L334.92 362.55 L335.56 362.87 L336.20 363.18 L336.85 363.49 L337.49 363.80 L338.13 364.10 L338.77 364.41 L339.41 364.71 L340.05 365.02 L340.69 365.32 L341.33 365.62 L341.98 365.92 L342.62 366.22 L343.26 366.52 L343.90 366.81 L344.54 367.11 L345.18 367.40 L345.82 367.69 L346.02 367.78 M350.37 369.72 L350.96 369.98 L351.60 370.26 L352.24 370.54 L352.88 370.82 L353.52 371.10 L354.16 371.37 L354.80 371.65 L355.44 371.92 L356.09 372.20 L356.73 372.47 L357.37 372.74 L358.01 373.01 L358.65 373.28 L359.29 373.54 L359.93 373.81 L360.58 374.07 L361.22 374.34 L361.86 374.60 L362.50 374.86 L363.14 375.12 L363.78 375.38 L364.42 375.64 L365.07 375.90 L365.71 376.15 L366.35 376.41 L366.99 376.66 L367.63 376.92 L368.27 377.17 L368.91 377.42 L369.56 377.67 L370.20 377.92 L370.84 378.17 L371.48 378.41 L372.12 378.66 L372.76 378.90 L373.40 379.15 L374.04 379.39 L374.69 379.63 L375.33 379.87 L375.97 380.11 L376.11 380.17 M390.78 385.40 L391.36 385.59 L392.00 385.81 L392.64 386.03 L393.29 386.24 L393.93 386.46 L394.57 386.67 L395.21 386.88 L395.85 387.09 L396.49 387.31 L397.13 387.52 L397.78 387.73 L398.42 387.94 L399.06 388.14 L399.70 388.35 L400.34 388.56 L400.98 388.76 L401.62 388.97 L402.26 389.17 L402.91 389.37 L403.55 389.58 L404.19 389.78 L404.83 389.98 L405.47 390.18 L406.00 390.34 M410.42 391.70 L410.60 391.75 L411.24 391.95 L411.89 392.14 L412.53 392.33 L413.17 392.52 L413.81 392.71 L414.45 392.90 L415.09 393.09 L415.73 393.28 L416.38 393.47 L417.02 393.65 L417.66 393.84 L418.30 394.03 L418.94 394.21 L419.58 394.40 L420.22 394.58 L420.86 394.76 L421.51 394.94 L422.15 395.12 L422.79 395.31 L423.43 395.49 L424.07 395.66 L424.71 395.84 L425.35 396.02 L426.00 396.20 L426.64 396.38 L427.28 396.55 L427.92 396.73 L428.56 396.90 L429.20 397.08 L429.84 397.25 L430.49 397.42 L431.13 397.59 L431.77 397.77 L432.41 397.94 L433.05 398.11 L433.69 398.28 L434.33 398.45 L434.97 398.62 L435.62 398.78 L436.26 398.95 L436.55 399.03 M451.39 402.73 L451.65 402.79 L452.29 402.94 L452.93 403.10 L453.57 403.25 L454.22 403.40 L454.86 403.55 L455.50 403.70 L456.14 403.85 L456.78 404.00 L457.42 404.15 L458.06 404.30 L458.71 404.44 L459.35 404.59 L459.99 404.74 L460.63 404.88 L461.27 405.03 L461.91 405.18 L462.55 405.32 L463.20 405.46 L463.84 405.61 L464.48 405.75 L465.12 405.89 L465.76 406.04 L466.40 406.18 L466.74 406.25 M471.20 407.22 L471.53 407.29 L472.17 407.43 L472.82 407.57 L473.46 407.71 L474.10 407.84 L474.74 407.98 L475.38 408.11 L476.02 408.25 L476.66 408.38 L477.31 408.51 L477.95 408.65 L478.59 408.78 L479.23 408.91 L479.87 409.05 L480.51 409.18 L481.15 409.31 L481.79 409.44 L482.44 409.57 L483.08 409.70 L483.72 409.83 L484.36 409.96 L485.00 410.09 L485.64 410.21 L486.28 410.34 L486.93 410.47 L487.57 410.59 L488.21 410.72 L488.85 410.85 L489.49 410.97 L490.13 411.10 L490.77 411.22 L491.42 411.35 L492.06 411.47 L492.70 411.59 L493.34 411.72 L493.98 411.84 L494.62 411.96 L495.26 412.08 L495.91 412.21 L496.55 412.33 L497.19 412.45 L497.51 412.51 M512.43 415.20 L512.58 415.23 L513.22 415.34 L513.86 415.45 L514.50 415.56 L515.15 415.67 L515.79 415.78 L516.43 415.89 L517.07 416.00 L517.71 416.11 L518.35 416.22 L518.99 416.33 L519.64 416.44 L520.28 416.55 L520.92 416.65 L521.56 416.76 L522.20 416.87 L522.84 416.97 L523.48 417.08 L524.13 417.18 L524.77 417.29 L525.41 417.39 L526.05 417.50 L526.69 417.60 L527.33 417.71 L527.85 417.79 M532.33 418.51 L532.46 418.53 L533.10 418.63 L533.75 418.73 L534.39 418.83 L535.03 418.93 L535.67 419.03 L536.31 419.13 L536.95 419.23 L537.59 419.33 L538.24 419.43 L538.88 419.53 L539.52 419.62 L540.16 419.72 L540.80 419.82 L541.44 419.92 L542.08 420.01 L542.73 420.11 L543.37 420.21 L544.01 420.30 L544.65 420.40 L545.29 420.49 L545.93 420.59 L546.57 420.68 L547.21 420.78 L547.86 420.87 L548.50 420.97 L549.14 421.06 L549.78 421.15 L550.42 421.25 L551.06 421.34 L551.70 421.43 L552.35 421.53 L552.99 421.62 L553.63 421.71 L554.27 421.80 L554.91 421.89 L555.55 421.98 L556.19 422.07 L556.84 422.17 L557.48 422.26 L558.12 422.35 L558.72 422.43 M573.67 424.45 L574.15 424.51 L574.79 424.60 L575.44 424.68 L576.08 424.76 L576.72 424.85 L577.36 424.93 L578.00 425.01 L578.64 425.09 L579.28 425.17 L579.92 425.26 L580.57 425.34 L581.21 425.42 L581.85 425.50 L582.49 425.58 L583.13 425.66 L583.77 425.74 L584.41 425.82 L585.06 425.90 L585.70 425.98 L586.34 426.06 L586.98 426.14 L587.62 426.22 L588.26 426.30 L588.90 426.37 L589.13 426.40 M593.62 426.94 L594.03 426.99 L594.68 427.07 L595.32 427.15 L595.96 427.22 L596.60 427.30 L597.24 427.37 L597.88 427.45 L598.52 427.52 L599.17 427.60 L599.81 427.67 L600.45 427.75 L601.09 427.82 L601.73 427.90 L602.37 427.97 L603.01 428.05 L603.66 428.12 L604.30 428.19 L604.94 428.27 L605.58 428.34 L606.22 428.41 L606.86 428.48 L607.50 428.56 L608.15 428.63 L608.79 428.70 L609.43 428.77 L610.07 428.84 L610.71 428.92 L611.35 428.99 L611.99 429.06 L612.63 429.13 L613.28 429.20 L613.92 429.27 L614.56 429.34 L615.20 429.41 L615.84 429.48 L616.48 429.55 L617.12 429.62 L617.77 429.69 L618.41 429.76 L619.05 429.83 L619.69 429.90 L620.06 429.94 M635.03 431.49 L635.08 431.49 L635.72 431.56 L636.37 431.62 L637.01 431.69 L637.65 431.75 L638.29 431.81 L638.93 431.88 L639.57 431.94 L640.21 432.00 L640.86 432.07 L641.50 432.13 L642.14 432.19 L642.78 432.26 L643.42 432.32 L644.06 432.38 L644.70 432.44 L645.34 432.51 L645.99 432.57 L646.63 432.63 L647.27 432.69 L647.91 432.75 L648.55 432.81 L649.19 432.87 L649.83 432.93 L650.48 433.00 L650.50 433.00 M654.99 433.42 L655.61 433.48 L656.25 433.53 L656.89 433.59 L657.53 433.65 L658.17 433.71 L658.81 433.77 L659.45 433.83 L660.10 433.89 L660.74 433.95" stroke="#000" stroke-width="1.30" fill="none" stroke-linejoin="round"/>
<path d="M84.20 103.78 H100.05" stroke="#000" stroke-width="1.3" fill="none"/>
<path d="M84.15 105.21 L84.79 105.21 L85.43 105.21 L86.07 105.21 L86.71 105.21 L87.35 105.21 L87.99 105.21 L88.63 105.21 L89.28 105.21 L89.92 105.21 L90.56 105.21 L91.20 105.21 L91.84 105.21 L92.48 105.21 L93.12 105.21 L93.77 105.21 L94.41 105.21 L95.05 105.21 L95.69 105.21 L96.33 105.21 L96.97 105.21 L97.61 105.25 L98.26 105.46 L98.90 105.73 L99.54 106.04 L100.18 106.38 L100.82 106.74 L101.46 107.13 L102.10 107.53 L102.74 107.96 L103.39 108.39 L104.03 108.84 L104.67 109.30 L105.31 109.78 L105.95 110.26 L106.59 110.76 L107.23 111.26 L107.88 111.78 L108.52 112.30 L109.16 112.83 L109.80 113.37 L110.44 113.91 L111.08 114.46 L111.72 115.02 L112.37 115.59 L113.01 116.16 L113.65 116.73 L114.29 117.31 L114.93 117.90 L115.57 118.49 L116.21 119.08 L116.85 119.68 L117.50 120.28 L118.14 120.89 L118.78 121.50 L119.42 122.12 L120.06 122.73 L120.70 123.36 L121.34 123.98 L121.99 124.61 L122.63 125.24 L123.27 125.87 L123.91 126.51 L124.55 127.14 L125.19 127.78 L125.83 128.43 L126.48 129.07 L127.12 129.72 L127.76 130.37 L128.40 131.02 L129.04 131.67 L129.68 132.32 L130.32 132.98 L130.97 133.64 L131.61 134.29 L132.25 134.95 L132.89 135.61 L133.53 136.27 L134.17 136.94 L134.81 137.60 L135.45 138.27 L136.10 138.93 L136.74 139.60 L137.38 140.26 L138.02 140.93 L138.66 141.60 L139.30 142.27 L139.94 142.94 L140.59 143.61 L141.23 144.28 L141.87 144.95 L142.51 145.62 L143.15 146.29 L143.79 146.96 L144.43 147.63 L145.08 148.30 L145.72 148.97 L146.36 149.65 L147.00 150.32 L147.64 150.99 L148.28 151.66 L148.92 152.33 L149.56 153.00 L150.21 153.67 L150.85 154.34 L151.49 155.01 L152.13 155.68 L152.77 156.35 L153.41 157.02 L154.05 157.68 L154.70 158.35 L155.34 159.02 L155.98 159.69 L156.62 160.35 L157.26 161.02 L157.90 161.68 L158.54 162.35 L159.19 163.01 L159.83 163.67 L160.47 164.33 L161.11 165.00 L161.75 165.66 L162.39 166.32 L163.03 166.97 L163.68 167.63 L164.32 168.29 L164.96 168.95 L165.60 169.60 L166.24 170.26 L166.88 170.91 L167.52 171.56 L168.16 172.21 L168.81 172.86 L169.45 173.51 L170.09 174.16 L170.73 174.81 L171.37 175.46 L172.01 176.10 L172.65 176.75 L173.30 177.39 L173.94 178.03 L174.58 178.67 L175.22 179.31 L175.86 179.95 L176.50 180.59 L177.14 181.22 L177.79 181.86 L178.43 182.49 L179.07 183.13 L179.71 183.76 L180.35 184.39 L180.99 185.02 L181.63 185.65 L182.27 186.27 L182.92 186.90 L183.56 187.52 L184.20 188.14 L184.84 188.77 L185.48 189.39 L186.12 190.00 L186.76 190.62 L187.41 191.24 L188.05 191.85 L188.69 192.47 L189.33 193.08 L189.97 193.69 L190.61 194.30 L191.25 194.91 L191.90 195.51 L192.54 196.12 L193.18 196.72 L193.82 197.33 L194.46 197.93 L195.10 198.53 L195.74 199.12 L196.38 199.72 L197.03 200.32 L197.67 200.91 L198.31 201.50 L198.95 202.10 L199.59 202.69 L200.23 203.27 L200.87 203.86 L201.52 204.45 L202.16 205.03 L202.80 205.61 L203.44 206.19 L204.08 206.77 L204.72 207.35 L205.36 207.93 L206.01 208.50 L206.65 209.08 L207.29 209.65 L207.93 210.22 L208.57 210.79 L209.21 211.36 L209.85 211.93 L210.50 212.49 L211.14 213.06 L211.78 213.62 L212.42 214.18 L213.06 214.74 L213.70 215.30 L214.34 215.85 L214.98 216.41 L215.63 216.96 L216.27 217.51 L216.91 218.06 L217.55 218.61 L218.19 219.16 L218.83 219.71 L219.47 220.25 L220.12 220.80 L220.76 221.34 L221.40 221.88 L222.04 222.42 L222.68 222.96 L223.32 223.49 L223.96 224.03 L224.61 224.56 L225.25 225.09 L225.89 225.62 L226.53 226.15 L227.17 226.68 L227.81 227.20 L228.45 227.73 L229.09 228.25 L229.74 228.77 L230.38 229.29 L231.02 229.81 L231.66 230.33 L232.30 230.84 L232.94 231.36 L233.58 231.87 L234.23 232.38 L234.87 232.89 L235.51 233.40 L236.15 233.91 L236.79 234.41 L237.43 234.92 L238.07 235.42 L238.72 235.92 L239.36 236.42 L240.00 236.92 L240.64 237.42 L241.28 237.91 L241.92 238.41 L242.56 238.90 L243.21 239.39 L243.85 239.88 L244.49 240.37 L245.13 240.86 L245.77 241.34 L246.41 241.83 L247.05 242.31 L247.69 242.79 L248.34 243.27 L248.98 243.75 L249.62 244.23 L250.26 244.71 L250.90 245.18 L251.54 245.66 L252.18 246.13 L252.83 246.60 L253.47 247.07 L254.11 247.54 L254.75 248.00 L255.39 248.47 L256.03 248.93 L256.67 249.39 L257.32 249.86 L257.96 250.32 L258.60 250.77 L259.24 251.23 L259.88 251.69 L260.52 252.14 L261.16 252.60 L261.80 253.05 L262.45 253.50 L263.09 253.95 L263.73 254.40 L264.37 254.84 L265.01 255.29 L265.65 255.73 L266.29 256.18 L266.94 256.62 L267.58 257.06 L268.22 257.50 L268.86 257.93 L269.50 258.37 L270.14 258.81 L270.78 259.24 L271.43 259.67 L272.07 260.10 L272.71 260.53 L273.35 260.96 L273.99 261.39 L274.63 261.82 L275.27 262.24 L275.91 262.67 L276.56 263.09 L277.20 263.51 L277.84 263.93 L278.48 264.35 L279.12 264.77 L279.76 265.18 L280.40 265.60 L281.05 266.01 L281.69 266.43 L282.33 266.84 L282.97 267.25 L283.61 267.66 L284.25 268.07 L284.89 268.47 L285.54 268.88 L286.18 269.28 L286.82 269.69 L287.46 270.09 L288.10 270.49 L288.74 270.89 L289.38 271.29 L290.03 271.69 L290.67 272.08 L291.31 272.48 L291.95 272.87 L292.59 273.26 L293.23 273.66 L293.87 274.05 L294.51 274.44 L295.16 274.82 L295.80 275.21 L296.44 275.60 L297.08 275.98 L297.72 276.36 L298.36 276.75 L299.00 277.13 L299.65 277.51 L300.29 277.89 L300.93 278.27 L301.57 278.64 L302.21 279.02 L302.85 279.39 L303.49 279.77 L304.14 280.14 L304.78 280.51 L305.42 280.88 L306.06 281.25 L306.70 281.62 L307.34 281.99 L307.98 282.35 L308.62 282.72 L309.27 283.08 L309.91 283.45 L310.55 283.81 L311.19 284.17 L311.83 284.53 L312.47 284.89 L313.11 285.25 L313.76 285.60 L314.40 285.96 L315.04 286.31 L315.68 286.67 L316.32 287.02 L316.96 287.37 L317.60 287.72 L318.25 288.07 L318.89 288.42 L319.53 288.77 L320.17 289.11 L320.81 289.46 L321.45 289.80 L322.09 290.15 L322.74 290.49 L323.38 290.83 L324.02 291.17 L324.66 291.51 L325.30 291.85 L325.94 292.19 L326.58 292.52 L327.22 292.86 L327.87 293.19 L328.51 293.53 L329.15 293.86 L329.79 294.19 L330.43 294.52 L331.07 294.85 L331.71 295.18 L332.36 295.51 L333.00 295.84 L333.64 296.16 L334.28 296.49 L334.92 296.81 L335.56 297.14 L336.20 297.46 L336.85 297.78 L337.49 298.10 L338.13 298.42 L338.77 298.74 L339.41 299.06 L340.05 299.38 L340.69 299.69 L341.33 300.01 L341.98 300.32 L342.62 300.63 L343.26 300.95 L343.90 301.26 L344.54 301.57 L345.18 301.88 L345.82 302.19 L346.47 302.50 L347.11 302.80 L347.75 303.11 L348.39 303.42 L349.03 303.72 L349.67 304.02 L350.31 304.33 L350.96 304.63 L351.60 304.93 L352.24 305.23 L352.88 305.53 L353.52 305.83 L354.16 306.13 L354.80 306.42 L355.44 306.72 L356.09 307.01 L356.73 307.31 L357.37 307.60 L358.01 307.90 L358.65 308.19 L359.29 308.48 L359.93 308.77 L360.58 309.06 L361.22 309.35 L361.86 309.64 L362.50 309.92 L363.14 310.21 L363.78 310.49 L364.42 310.78 L365.07 311.06 L365.71 311.35 L366.35 311.63 L366.99 311.91 L367.63 312.19 L368.27 312.47 L368.91 312.75 L369.56 313.03 L370.20 313.31 L370.84 313.58 L371.48 313.86 L372.12 314.14 L372.76 314.41 L373.40 314.68 L374.04 314.96 L374.69 315.23 L375.33 315.50 L375.97 315.77 L376.61 316.04 L377.25 316.31 L377.89 316.58 L378.53 316.85 L379.18 317.12 L379.82 317.38 L380.46 317.65 L381.10 317.91 L381.74 318.18 L382.38 318.44 L383.02 318.70 L383.67 318.97 L384.31 319.23 L384.95 319.49 L385.59 319.75 L386.23 320.01 L386.87 320.27 L387.51 320.52 L388.15 320.78 L388.80 321.04 L389.44 321.29 L390.08 321.55 L390.72 321.80 L391.36 322.06 L392.00 322.31 L392.64 322.56 L393.29 322.81 L393.93 323.06 L394.57 323.32 L395.21 323.56 L395.85 323.81 L396.49 324.06 L397.13 324.31 L397.78 324.56 L398.42 324.80 L399.06 325.05 L399.70 325.29 L400.34 325.54 L400.98 325.78 L401.62 326.02 L402.26 326.27 L402.91 326.51 L403.55 326.75 L404.19 326.99 L404.83 327.23 L405.47 327.47 L406.11 327.71 L406.75 327.95 L407.40 328.18 L408.04 328.42 L408.68 328.66 L409.32 328.89 L409.96 329.13 L410.60 329.36 L411.24 329.59 L411.89 329.83 L412.53 330.06 L413.17 330.29 L413.81 330.52 L414.45 330.75 L415.09 330.98 L415.73 331.21 L416.38 331.44 L417.02 331.67 L417.66 331.89 L418.30 332.12 L418.94 332.35 L419.58 332.57 L420.22 332.80 L420.86 333.02 L421.51 333.25 L422.15 333.47 L422.79 333.69 L423.43 333.91 L424.07 334.14 L424.71 334.36 L425.35 334.58 L426.00 334.80 L426.64 335.02 L427.28 335.24 L427.92 335.45 L428.56 335.67 L429.20 335.89 L429.84 336.10 L430.49 336.32 L431.13 336.54 L431.77 336.75 L432.41 336.96 L433.05 337.18 L433.69 337.39 L434.33 337.60 L434.97 337.82 L435.62 338.03 L436.26 338.24 L436.90 338.45 L437.54 338.66 L438.18 338.87 L438.82 339.08 L439.46 339.29 L440.11 339.49 L440.75 339.70 L441.39 339.91 L442.03 340.11 L442.67 340.32 L443.31 340.52 L443.95 340.73 L444.60 340.93 L445.24 341.14 L445.88 341.34 L446.52 341.54 L447.16 341.74 L447.80 341.94 L448.44 342.15 L449.09 342.35 L449.73 342.55 L450.37 342.75 L451.01 342.94 L451.65 343.14 L452.29 343.34 L452.93 343.54 L453.57 343.73 L454.22 343.93 L454.86 344.13 L455.50 344.32 L456.14 344.52 L456.78 344.71 L457.42 344.91 L458.06 345.10 L458.71 345.29 L459.35 345.49 L459.99 345.68 L460.63 345.87 L461.27 346.06 L461.91 346.25 L462.55 346.44 L463.20 346.63 L463.84 346.82 L464.48 347.01 L465.12 347.20 L465.76 347.38 L466.40 347.57 L467.04 347.76 L467.68 347.95 L468.33 348.13 L468.97 348.32 L469.61 348.50 L470.25 348.69 L470.89 348.87 L471.53 349.05 L472.17 349.24 L472.82 349.42 L473.46 349.60 L474.10 349.78 L474.74 349.97 L475.38 350.15 L476.02 350.33 L476.66 350.51 L477.31 350.69 L477.95 350.87 L478.59 351.05 L479.23 351.22 L479.87 351.40 L480.51 351.58 L481.15 351.76 L481.79 351.93 L482.44 352.11 L483.08 352.28 L483.72 352.46 L484.36 352.63 L485.00 352.81 L485.64 352.98 L486.28 353.16 L486.93 353.33 L487.57 353.50 L488.21 353.68 L488.85 353.85 L489.49 354.02 L490.13 354.19 L490.77 354.36 L491.42 354.53 L492.06 354.70 L492.70 354.87 L493.34 355.04 L493.98 355.21 L494.62 355.38 L495.26 355.55 L495.91 355.71 L496.55 355.88 L497.19 356.05 L497.83 356.21 L498.47 356.38 L499.11 356.54 L499.75 356.71 L500.39 356.87 L501.04 357.04 L501.68 357.20 L502.32 357.37 L502.96 357.53 L503.60 357.69 L504.24 357.85 L504.88 358.02 L505.53 358.18 L506.17 358.34 L506.81 358.50 L507.45 358.66 L508.09 358.82 L508.73 358.98 L509.37 359.14 L510.02 359.30 L510.66 359.46 L511.30 359.62 L511.94 359.77 L512.58 359.93 L513.22 360.09 L513.86 360.25 L514.50 360.40 L515.15 360.56 L515.79 360.71 L516.43 360.87 L517.07 361.02 L517.71 361.18 L518.35 361.33 L518.99 361.49 L519.64 361.64 L520.28 361.79 L520.92 361.95 L521.56 362.10 L522.20 362.25 L522.84 362.40 L523.48 362.55 L524.13 362.71 L524.77 362.86 L525.41 363.01 L526.05 363.16 L526.69 363.31 L527.33 363.46 L527.97 363.61 L528.62 363.75 L529.26 363.90 L529.90 364.05 L530.54 364.20 L531.18 364.35 L531.82 364.49 L532.46 364.64 L533.10 364.79 L533.75 364.93 L534.39 365.08 L535.03 365.22 L535.67 365.37 L536.31 365.51 L536.95 365.66 L537.59 365.80 L538.24 365.94 L538.88 366.09 L539.52 366.23 L540.16 366.37 L540.80 366.52 L541.44 366.66 L542.08 366.80 L542.73 366.94 L543.37 367.08 L544.01 367.22 L544.65 367.36 L545.29 367.50 L545.93 367.64 L546.57 367.78 L547.21 367.92 L547.86 368.06 L548.50 368.20 L549.14 368.34 L549.78 368.48 L550.42 368.61 L551.06 368.75 L551.70 368.89 L552.35 369.02 L552.99 369.16 L553.63 369.30 L554.27 369.43 L554.91 369.57 L555.55 369.70 L556.19 369.84 L556.84 369.97 L557.48 370.11 L558.12 370.24 L558.76 370.38 L559.40 370.51 L560.04 370.64 L560.68 370.78 L561.33 370.91 L561.97 371.04 L562.61 371.17 L563.25 371.30 L563.89 371.44 L564.53 371.57 L565.17 371.70 L565.81 371.83 L566.46 371.96 L567.10 372.09 L567.74 372.22 L568.38 372.35 L569.02 372.48 L569.66 372.61 L570.30 372.73 L570.95 372.86 L571.59 372.99 L572.23 373.12 L572.87 373.25 L573.51 373.37 L574.15 373.50 L574.79 373.63 L575.44 373.75 L576.08 373.88 L576.72 374.01 L577.36 374.13 L578.00 374.26 L578.64 374.38 L579.28 374.51 L579.92 374.63 L580.57 374.75 L581.21 374.88 L581.85 375.00 L582.49 375.13 L583.13 375.25 L583.77 375.37 L584.41 375.49 L585.06 375.62 L585.70 375.74 L586.34 375.86 L586.98 375.98 L587.62 376.10 L588.26 376.22 L588.90 376.35 L589.55 376.47 L590.19 376.59 L590.83 376.71 L591.47 376.83 L592.11 376.95 L592.75 377.07 L593.39 377.18 L594.03 377.30 L594.68 377.42 L595.32 377.54 L595.96 377.66 L596.60 377.78 L597.24 377.89 L597.88 378.01 L598.52 378.13 L599.17 378.24 L599.81 378.36 L600.45 378.48 L601.09 378.59 L601.73 378.71 L602.37 378.82 L603.01 378.94 L603.66 379.06 L604.30 379.17 L604.94 379.28 L605.58 379.40 L606.22 379.51 L606.86 379.63 L607.50 379.74 L608.15 379.85 L608.79 379.97 L609.43 380.08 L610.07 380.19 L610.71 380.31 L611.35 380.42 L611.99 380.53 L612.63 380.64 L613.28 380.75 L613.92 380.86 L614.56 380.98 L615.20 381.09 L615.84 381.20 L616.48 381.31 L617.12 381.42 L617.77 381.53 L618.41 381.64 L619.05 381.75 L619.69 381.86 L620.33 381.97 L620.97 382.07 L621.61 382.18 L622.26 382.29 L622.90 382.40 L623.54 382.51 L624.18 382.62 L624.82 382.72 L625.46 382.83 L626.10 382.94 L626.74 383.04 L627.39 383.15 L628.03 383.26 L628.67 383.36 L629.31 383.47 L629.95 383.58 L630.59 383.68 L631.23 383.79 L631.88 383.89 L632.52 384.00 L633.16 384.10 L633.80 384.21 L634.44 384.31 L635.08 384.41 L635.72 384.52 L636.37 384.62 L637.01 384.73 L637.65 384.83 L638.29 384.93 L638.93 385.03 L639.57 385.14 L640.21 385.24 L640.86 385.34 L641.50 385.44 L642.14 385.55 L642.78 385.65 L643.42 385.75 L644.06 385.85 L644.70 385.95 L645.34 386.05 L645.99 386.15 L646.63 386.25 L647.27 386.35 L647.91 386.45 L648.55 386.55 L649.19 386.65 L649.83 386.75 L650.48 386.85 L651.12 386.95 L651.76 387.05 L652.40 387.15 L653.04 387.25 L653.68 387.34 L654.32 387.44 L654.97 387.54 L655.61 387.64 L656.25 387.74 L656.89 387.83 L657.53 387.93 L658.17 388.03 L658.81 388.12 L659.45 388.22 L660.10 388.32 L660.74 388.41" stroke="#000" stroke-width="1.30" fill="none" stroke-linejoin="round"/>
<path d="M84.20 105.21 H100.05" stroke="#000" stroke-width="1.3" fill="none"/>
</g>
<rect x="92.72" y="89.82" width="9.36" height="9.36"/>
<rect x="129.17" y="391.50" width="9.36" height="9.36"/>
<rect x="159.00" y="455.61" width="9.36" height="9.36"/>
<rect x="212.01" y="466.92" width="9.36" height="9.36"/>
<rect x="357.82" y="466.92" width="9.36" height="9.36"/>
<rect x="622.92" y="466.92" width="9.36" height="9.36"/>
<path d="M97.40 88.68 L102.95 98.14 L91.85 98.14 Z"/>
<path d="M133.85 341.33 L139.40 350.80 L128.30 350.80 Z"/>
<path d="M163.68 409.21 L169.23 418.68 L158.12 418.68 Z"/>
<path d="M216.69 454.46 L222.25 463.93 L211.14 463.93 Z"/>
<path d="M362.50 465.78 L368.05 475.24 L356.95 475.24 Z"/>
<path d="M627.60 465.78 L633.15 475.24 L622.05 475.24 Z"/>
<path d="M92.90 90.00 L101.90 99.00 M92.90 99.00 L101.90 90.00" stroke="#000" stroke-width="3.00" fill="none"/>
<path d="M129.35 176.73 L138.35 185.73 M129.35 185.73 L138.35 176.73" stroke="#000" stroke-width="3.00" fill="none"/>
<path d="M159.18 252.15 L168.18 261.15 M159.18 261.15 L168.18 252.15" stroke="#000" stroke-width="3.00" fill="none"/>
<path d="M212.19 342.66 L221.19 351.66 M212.19 351.66 L221.19 342.66" stroke="#000" stroke-width="3.00" fill="none"/>
<path d="M358.00 436.93 L367.00 445.93 M358.00 445.93 L367.00 436.93" stroke="#000" stroke-width="3.00" fill="none"/>
<path d="M623.10 467.10 L632.10 476.10 M623.10 476.10 L632.10 467.10" stroke="#000" stroke-width="3.00" fill="none"/>
<path d="M97.40 100.32 L102.95 90.86 L91.85 90.86 Z"/>
<path d="M133.85 175.74 L139.40 166.28 L128.30 166.28 Z"/>
<path d="M163.68 198.37 L169.23 188.91 L158.12 188.91 Z"/>
<path d="M216.69 258.71 L222.25 249.24 L211.14 249.24 Z"/>
<path d="M362.50 402.00 L368.05 392.54 L356.95 392.54 Z"/>
<path d="M627.60 428.40 L633.15 418.94 L622.05 418.94 Z"/>
<circle cx="97.40" cy="94.50" r="5.31"/>
<circle cx="133.85" cy="143.52" r="5.31"/>
<circle cx="163.68" cy="192.55" r="5.31"/>
<circle cx="216.69" cy="192.55" r="5.31"/>
<circle cx="362.50" cy="305.68" r="5.31"/>
<circle cx="627.60" cy="396.18" r="5.31"/>
<path d="M84.20 74.85 L84.20 490.90 L661.35 490.90" fill="none" stroke="#000" stroke-width="1.70" stroke-linecap="square" stroke-linejoin="miter"/>
<path d="M84.20 471.60 H77.35 M84.20 396.18 H77.35 M84.20 320.76 H77.35 M84.20 245.34 H77.35 M84.20 169.92 H77.35 M84.20 94.50 H77.35 M97.40 490.90 V497.75 M229.95 490.90 V497.75 M362.50 490.90 V497.75 M495.05 490.90 V497.75 M627.60 490.90 V497.75" stroke="#000" stroke-width="1.70" fill="none"/>
<g font-family='"Liberation Sans", sans-serif' font-size="16.50" fill="#000">
<text x="67.40" y="477.51" text-anchor="end" font-size="16.50">0</text>
<text x="67.40" y="402.09" text-anchor="end" font-size="16.50">20</text>
<text x="67.40" y="326.67" text-anchor="end" font-size="16.50">40</text>
<text x="67.40" y="251.25" text-anchor="end" font-size="16.50">60</text>
<text x="67.40" y="175.83" text-anchor="end" font-size="16.50">80</text>
<text x="67.40" y="100.41" text-anchor="end" font-size="16.50">100</text>
<text x="97.40" y="520.61" text-anchor="middle">0</text>
<text x="229.95" y="520.61" text-anchor="middle">2000</text>
<text x="362.50" y="520.61" text-anchor="middle">4000</text>
<text x="495.05" y="520.61" text-anchor="middle">6000</text>
<text x="627.60" y="520.61" text-anchor="middle">8000</text>
</g>
<path d="M513.10 116.10 L527.90 116.10 M534.40 116.10 L549.20 116.10 M555.70 116.10 L570.50 116.10 M577.00 116.10 L591.80 116.10 M598.30 116.10 L599.80 116.10" stroke="#000" stroke-width="1.50" fill="none"/>
<rect x="555.20" y="109.90" width="10.40" height="10.40"/>
<text x="601.80" y="122.33" font-family='"Liberation Sans", sans-serif' font-size="23.00" fill="#000">1</text>
<path d="M512.30 145.50 L513.90 145.50 M518.70 145.50 L520.30 145.50 M525.10 145.50 L526.70 145.50 M531.50 145.50 L533.10 145.50 M537.90 145.50 L539.50 145.50 M544.30 145.50 L545.90 145.50 M550.70 145.50 L552.30 145.50 M557.10 145.50 L558.70 145.50 M563.50 145.50 L565.10 145.50 M569.90 145.50 L571.50 145.50 M576.30 145.50 L577.90 145.50 M582.70 145.50 L584.30 145.50 M589.10 145.50 L590.70 145.50" stroke="#000" stroke-width="1.60" fill="none"/>
<path d="M560.40 134.50 L566.50 144.90 L554.30 144.90 Z"/>
<text x="601.80" y="149.03" font-family='"Liberation Sans", sans-serif' font-size="23.00" fill="#000">7</text>
<path d="M512.30 169.20 L531.70 169.20 M535.80 169.20 L537.60 169.20 M544.00 169.20 L563.40 169.20 M567.50 169.20 L569.30 169.20 M575.70 169.20 L595.10 169.20" stroke="#000" stroke-width="1.50" fill="none"/>
<path d="M555.90 163.60 L564.90 172.60 M555.90 172.60 L564.90 163.60" stroke="#000" stroke-width="3.00" fill="none"/>
<text x="601.80" y="175.73" font-family='"Liberation Sans", sans-serif' font-size="23.00" fill="#000">15</text>
<path d="M512.30 195.40 L528.00 195.40 M533.00 195.40 L560.00 195.40 M578.30 195.40 L594.00 195.40" stroke="#000" stroke-width="1.50" fill="none"/>
<path d="M560.40 199.60 L566.50 189.20 L554.30 189.20 Z"/>
<text x="601.80" y="200.13" font-family='"Liberation Sans", sans-serif' font-size="23.00" fill="#000">30</text>
<path d="M512.30 218.50 L597.40 218.50" stroke="#000" stroke-width="1.50" fill="none"/>
<circle cx="560.40" cy="217.70" r="5.50"/>
<text x="601.80" y="224.73" font-family='"Liberation Sans", sans-serif' font-size="23.00" fill="#000">60</text>
<text x="372.60" y="556.30" text-anchor="middle" font-family='"Liberation Sans", sans-serif' font-size="19.60" fill="#000">Dose (g a.i ha<tspan dy="-7.5" font-size="13.5">-1</tspan><tspan dy="7.5">)</tspan></text>
<text transform="translate(17.10 282.50) rotate(-90)" text-anchor="middle" font-family='"Liberation Sans", sans-serif' font-size="19.80" fill="#000">Biomass (%)</text>
<text class="t" x="373.20" y="609.40" text-anchor="middle" font-family='"Liberation Serif", serif' font-size="21.50" fill="#000">Cultivated</text>
<clipPath id="c2"><rect x="84.30" y="621.00" width="579.90" height="416.20"/></clipPath>
<g clip-path="url(#c2)">
<path d="M95.58 621.00 L95.99 624.67 L96.63 630.56 L97.27 636.56 L97.91 642.64 L98.12 644.62 M98.87 651.85 L99.20 655.05 L99.84 661.38 L100.48 667.77 L101.12 674.23 L101.25 675.52 M101.96 682.76 L102.41 687.32 L103.05 693.93 L103.69 700.58 L104.25 706.45 M104.95 713.69 L104.97 713.97 L105.61 720.69 L106.25 727.43 L106.90 734.16 L107.20 737.40 M107.90 744.64 L108.18 747.61 L108.82 754.31 L109.46 760.98 L110.10 767.62 L110.17 768.34 M110.88 775.57 L111.39 780.77 L112.03 787.26 L112.67 793.70 L113.23 799.25 M113.97 806.48 L114.60 812.59 L115.24 818.72 L115.88 824.77 L116.46 830.12 M117.25 837.34 L117.80 842.35 L118.45 848.01 L119.09 853.56 L119.73 859.00 L119.96 860.91 M120.83 868.09 L121.01 869.54 L121.65 874.63 L122.30 879.61 L122.94 884.47 L123.58 889.21 L123.90 891.54 M124.91 898.68 L125.50 902.70 L126.14 906.95 L126.79 911.09 L127.43 915.10 L128.07 919.00 L128.56 921.89 M129.80 928.93 L129.99 930.00 L130.64 933.43 L131.28 936.76 L131.92 939.97 L132.56 943.08 L133.20 946.08 L133.84 948.98 L134.45 951.64 M136.11 958.43 L136.41 959.60 L137.05 962.01 L137.69 964.34 L138.34 966.59 L138.98 968.74 L139.62 970.82 L140.26 972.82 L140.90 974.74 L141.54 976.58 L142.19 978.36 L142.70 979.74 M145.20 985.78 L145.39 986.22 L146.03 987.61 L146.68 988.94 L147.32 990.22 L147.96 991.44 L148.60 992.62 L149.24 993.74 L149.88 994.82 L150.53 995.85 L151.17 996.84 L151.81 997.79 L152.45 998.70 L153.09 999.57 L153.73 1000.40 L154.38 1001.19 L155.02 1001.96 L155.46 1002.45 M159.23 1006.20 L159.51 1006.44 L160.15 1006.98 L160.79 1007.49 L161.43 1007.97 L162.08 1008.44 L162.72 1008.89 L163.36 1009.31 L164.00 1009.72 L164.64 1010.11 L165.28 1010.48 L165.92 1010.84 L166.57 1011.18 L167.21 1011.51 L167.85 1011.82 L168.49 1012.11 L169.13 1012.40 L169.77 1012.67 L170.42 1012.93 L171.06 1013.17 L171.70 1013.41 L172.34 1013.64 L172.84 1013.80 M177.18 1015.04 L177.47 1015.11 L178.12 1015.26 L178.76 1015.40 L179.40 1015.54 L180.04 1015.67 L180.68 1015.79 L181.32 1015.91 L181.97 1016.02 L182.61 1016.13 L183.25 1016.23 L183.89 1016.33 L184.53 1016.43 L185.17 1016.52 L185.81 1016.60 L186.46 1016.68 L187.10 1016.76 L187.74 1016.84 L188.38 1016.91 L189.02 1016.97 L189.66 1017.04 L190.31 1017.10 L190.95 1017.16 L191.51 1017.21 M195.91 1017.54 L196.08 1017.55 L196.72 1017.58 L197.36 1017.62 L198.01 1017.66 L198.65 1017.69 L199.29 1017.72 L199.93 1017.75 L200.57 1017.78 L201.21 1017.81 L201.86 1017.84 L202.50 1017.86 L203.14 1017.89 L203.78 1017.91 L204.42 1017.93 L205.06 1017.96 L205.70 1017.98 L206.35 1017.99 L206.99 1018.01 L207.63 1018.03 L208.27 1018.05 L208.91 1018.06 L209.55 1018.08 L210.20 1018.09 L210.30 1018.10 M214.70 1018.18 L215.33 1018.19 L215.97 1018.20 L216.61 1018.21 L217.25 1018.22 L217.90 1018.22 L218.54 1018.23 L219.18 1018.24 L219.82 1018.25 L220.46 1018.25 L221.10 1018.26 L221.75 1018.27 L222.39 1018.27 L223.03 1018.28 L223.67 1018.28 L224.31 1018.29 L224.95 1018.30 L225.59 1018.30 L226.24 1018.30 L226.88 1018.31 L227.52 1018.31 L228.16 1018.32 L228.80 1018.32 L229.10 1018.32 M233.50 1018.34 L233.94 1018.35 L234.58 1018.35 L235.22 1018.35 L235.86 1018.35 L236.50 1018.35 L237.14 1018.36 L237.79 1018.36 L238.43 1018.36 L239.07 1018.36 L239.71 1018.36 L240.35 1018.37 L240.99 1018.37 L241.64 1018.37 L242.28 1018.37 L242.92 1018.37 L243.56 1018.37 L244.20 1018.37 L244.84 1018.38 L245.48 1018.38 L246.13 1018.38 L246.77 1018.38 L247.41 1018.38 L247.90 1018.38 M252.30 1018.39 L252.54 1018.39 L253.18 1018.39 L253.83 1018.39 L254.47 1018.39 L255.11 1018.39 L255.75 1018.39 L256.39 1018.39 L257.03 1018.39 L257.68 1018.39 L258.32 1018.39 L258.96 1018.39 L259.60 1018.39 L260.24 1018.39 L260.88 1018.39 L261.53 1018.39 L262.17 1018.39 L262.81 1018.39 L263.45 1018.39 L264.09 1018.39 L264.73 1018.39 L265.37 1018.39 L266.02 1018.39 L266.66 1018.39 L266.70 1018.39 M271.10 1018.40 L271.15 1018.40 L271.79 1018.40 L272.43 1018.40 L273.07 1018.40 L273.72 1018.40 L274.36 1018.40 L275.00 1018.40 L275.64 1018.40 L276.28 1018.40 L276.92 1018.40 L277.57 1018.40 L278.21 1018.40 L278.85 1018.40 L279.49 1018.40 L280.13 1018.40 L280.77 1018.40 L281.42 1018.40 L282.06 1018.40 L282.70 1018.40 L283.34 1018.40 L283.98 1018.40 L284.62 1018.40 L285.26 1018.40 L285.50 1018.40 M289.90 1018.40 L290.40 1018.40 L291.04 1018.40 L291.68 1018.40 L292.32 1018.40 L292.96 1018.40 L293.61 1018.40 L294.25 1018.40 L294.89 1018.40 L295.53 1018.40 L296.17 1018.40 L296.81 1018.40 L297.46 1018.40 L298.10 1018.40 L298.74 1018.40 L299.38 1018.40 L300.02 1018.40 L300.66 1018.40 L301.31 1018.40 L301.95 1018.40 L302.59 1018.40 L303.23 1018.40 L303.87 1018.40 L304.30 1018.40 M308.70 1018.40 L309.00 1018.40 L309.65 1018.40 L310.29 1018.40 L310.93 1018.40 L311.57 1018.40 L312.21 1018.40 L312.85 1018.40 L313.50 1018.40 L314.14 1018.40 L314.78 1018.40 L315.42 1018.40 L316.06 1018.40 L316.70 1018.40 L317.35 1018.40 L317.99 1018.40 L318.63 1018.40 L319.27 1018.40 L319.91 1018.40 L320.55 1018.40 L321.20 1018.40 L321.84 1018.40 L322.48 1018.40 L323.10 1018.40 M327.50 1018.40 L327.61 1018.40 L328.25 1018.40 L328.89 1018.40 L329.54 1018.40 L330.18 1018.40 L330.82 1018.40 L331.46 1018.40 L332.10 1018.40 L332.74 1018.40 L333.39 1018.40 L334.03 1018.40 L334.67 1018.40 L335.31 1018.40 L335.95 1018.40 L336.59 1018.40 L337.24 1018.40 L337.88 1018.40 L338.52 1018.40 L339.16 1018.40 L339.80 1018.40 L340.44 1018.40 L341.09 1018.40 L341.73 1018.40 L341.90 1018.40 M346.30 1018.40 L346.86 1018.40 L347.50 1018.40 L348.14 1018.40 L348.78 1018.40 L349.43 1018.40 L350.07 1018.40 L350.71 1018.40 L351.35 1018.40 L351.99 1018.40 L352.63 1018.40 L353.28 1018.40 L353.92 1018.40 L354.56 1018.40 L355.20 1018.40 L355.84 1018.40 L356.48 1018.40 L357.13 1018.40 L357.77 1018.40 L358.41 1018.40 L359.05 1018.40 L359.69 1018.40 L360.33 1018.40 L360.70 1018.40 M365.10 1018.40 L365.47 1018.40 L366.11 1018.40 L366.75 1018.40 L367.39 1018.40 L368.03 1018.40 L368.67 1018.40 L369.32 1018.40 L369.96 1018.40 L370.60 1018.40 L371.24 1018.40 L371.88 1018.40 L372.52 1018.40 L373.17 1018.40 L373.81 1018.40 L374.45 1018.40 L375.09 1018.40 L375.73 1018.40 L376.37 1018.40 L377.02 1018.40 L377.66 1018.40 L378.30 1018.40 L378.94 1018.40 L379.50 1018.40 M383.90 1018.40 L384.07 1018.40 L384.71 1018.40 L385.36 1018.40 L386.00 1018.40 L386.64 1018.40 L387.28 1018.40 L387.92 1018.40 L388.56 1018.40 L389.21 1018.40 L389.85 1018.40 L390.49 1018.40 L391.13 1018.40 L391.77 1018.40 L392.41 1018.40 L393.06 1018.40 L393.70 1018.40 L394.34 1018.40 L394.98 1018.40 L395.62 1018.40 L396.26 1018.40 L396.91 1018.40 L397.55 1018.40 L398.19 1018.40 L398.30 1018.40 M402.70 1018.40 L403.32 1018.40 L403.96 1018.40 L404.60 1018.40 L405.25 1018.40 L405.89 1018.40 L406.53 1018.40 L407.17 1018.40 L407.81 1018.40 L408.45 1018.40 L409.10 1018.40 L409.74 1018.40 L410.38 1018.40 L411.02 1018.40 L411.66 1018.40 L412.30 1018.40 L412.95 1018.40 L413.59 1018.40 L414.23 1018.40 L414.87 1018.40 L415.51 1018.40 L416.15 1018.40 L416.80 1018.40 L417.10 1018.40 M421.50 1018.40 L421.93 1018.40 L422.57 1018.40 L423.21 1018.40 L423.85 1018.40 L424.49 1018.40 L425.14 1018.40 L425.78 1018.40 L426.42 1018.40 L427.06 1018.40 L427.70 1018.40 L428.34 1018.40 L428.99 1018.40 L429.63 1018.40 L430.27 1018.40 L430.91 1018.40 L431.55 1018.40 L432.19 1018.40 L432.84 1018.40 L433.48 1018.40 L434.12 1018.40 L434.76 1018.40 L435.40 1018.40 L435.90 1018.40 M440.30 1018.40 L440.54 1018.40 L441.18 1018.40 L441.82 1018.40 L442.46 1018.40 L443.10 1018.40 L443.74 1018.40 L444.38 1018.40 L445.03 1018.40 L445.67 1018.40 L446.31 1018.40 L446.95 1018.40 L447.59 1018.40 L448.23 1018.40 L448.88 1018.40 L449.52 1018.40 L450.16 1018.40 L450.80 1018.40 L451.44 1018.40 L452.08 1018.40 L452.73 1018.40 L453.37 1018.40 L454.01 1018.40 L454.65 1018.40 L454.70 1018.40 M459.10 1018.40 L459.14 1018.40 L459.78 1018.40 L460.43 1018.40 L461.07 1018.40 L461.71 1018.40 L462.35 1018.40 L462.99 1018.40 L463.63 1018.40 L464.27 1018.40 L464.92 1018.40 L465.56 1018.40 L466.20 1018.40 L466.84 1018.40 L467.48 1018.40 L468.12 1018.40 L468.77 1018.40 L469.41 1018.40 L470.05 1018.40 L470.69 1018.40 L471.33 1018.40 L471.97 1018.40 L472.62 1018.40 L473.26 1018.40 L473.50 1018.40 M477.90 1018.40 L478.39 1018.40 L479.03 1018.40 L479.67 1018.40 L480.32 1018.40 L480.96 1018.40 L481.60 1018.40 L482.24 1018.40 L482.88 1018.40 L483.52 1018.40 L484.16 1018.40 L484.81 1018.40 L485.45 1018.40 L486.09 1018.40 L486.73 1018.40 L487.37 1018.40 L488.01 1018.40 L488.66 1018.40 L489.30 1018.40 L489.94 1018.40 L490.58 1018.40 L491.22 1018.40 L491.86 1018.40 L492.30 1018.40 M496.70 1018.40 L497.00 1018.40 L497.64 1018.40 L498.28 1018.40 L498.92 1018.40 L499.56 1018.40 L500.21 1018.40 L500.85 1018.40 L501.49 1018.40 L502.13 1018.40 L502.77 1018.40 L503.41 1018.40 L504.05 1018.40 L504.70 1018.40 L505.34 1018.40 L505.98 1018.40 L506.62 1018.40 L507.26 1018.40 L507.90 1018.40 L508.55 1018.40 L509.19 1018.40 L509.83 1018.40 L510.47 1018.40 L511.10 1018.40 M515.50 1018.40 L515.60 1018.40 L516.25 1018.40 L516.89 1018.40 L517.53 1018.40 L518.17 1018.40 L518.81 1018.40 L519.45 1018.40 L520.10 1018.40 L520.74 1018.40 L521.38 1018.40 L522.02 1018.40 L522.66 1018.40 L523.30 1018.40 L523.94 1018.40 L524.59 1018.40 L525.23 1018.40 L525.87 1018.40 L526.51 1018.40 L527.15 1018.40 L527.79 1018.40 L528.44 1018.40 L529.08 1018.40 L529.72 1018.40 L529.90 1018.40 M534.30 1018.40 L534.85 1018.40 L535.49 1018.40 L536.14 1018.40 L536.78 1018.40 L537.42 1018.40 L538.06 1018.40 L538.70 1018.40 L539.34 1018.40 L539.99 1018.40 L540.63 1018.40 L541.27 1018.40 L541.91 1018.40 L542.55 1018.40 L543.19 1018.40 L543.83 1018.40 L544.48 1018.40 L545.12 1018.40 L545.76 1018.40 L546.40 1018.40 L547.04 1018.40 L547.68 1018.40 L548.33 1018.40 L548.70 1018.40 M553.10 1018.40 L553.46 1018.40 L554.10 1018.40 L554.74 1018.40 L555.38 1018.40 L556.03 1018.40 L556.67 1018.40 L557.31 1018.40 L557.95 1018.40 L558.59 1018.40 L559.23 1018.40 L559.88 1018.40 L560.52 1018.40 L561.16 1018.40 L561.80 1018.40 L562.44 1018.40 L563.08 1018.40 L563.72 1018.40 L564.37 1018.40 L565.01 1018.40 L565.65 1018.40 L566.29 1018.40 L566.93 1018.40 L567.50 1018.40 M571.90 1018.40 L572.07 1018.40 L572.71 1018.40 L573.35 1018.40 L573.99 1018.40 L574.63 1018.40 L575.27 1018.40 L575.92 1018.40 L576.56 1018.40 L577.20 1018.40 L577.84 1018.40 L578.48 1018.40 L579.12 1018.40 L579.77 1018.40 L580.41 1018.40 L581.05 1018.40 L581.69 1018.40 L582.33 1018.40 L582.97 1018.40 L583.61 1018.40 L584.26 1018.40 L584.90 1018.40 L585.54 1018.40 L586.18 1018.40 L586.30 1018.40 M590.70 1018.40 L591.31 1018.40 L591.96 1018.40 L592.60 1018.40 L593.24 1018.40 L593.88 1018.40 L594.52 1018.40 L595.16 1018.40 L595.81 1018.40 L596.45 1018.40 L597.09 1018.40 L597.73 1018.40 L598.37 1018.40 L599.01 1018.40 L599.66 1018.40 L600.30 1018.40 L600.94 1018.40 L601.58 1018.40 L602.22 1018.40 L602.86 1018.40 L603.50 1018.40 L604.15 1018.40 L604.79 1018.40 L605.10 1018.40 M609.50 1018.40 L609.92 1018.40 L610.56 1018.40 L611.20 1018.40 L611.85 1018.40 L612.49 1018.40 L613.13 1018.40 L613.77 1018.40 L614.41 1018.40 L615.05 1018.40 L615.70 1018.40 L616.34 1018.40 L616.98 1018.40 L617.62 1018.40 L618.26 1018.40 L618.90 1018.40 L619.55 1018.40 L620.19 1018.40 L620.83 1018.40 L621.47 1018.40 L622.11 1018.40 L622.75 1018.40 L623.39 1018.40 L623.90 1018.40 M628.30 1018.40 L628.53 1018.40 L629.17 1018.40 L629.81 1018.40 L630.45 1018.40 L631.09 1018.40 L631.74 1018.40 L632.38 1018.40 L633.02 1018.40 L633.66 1018.40 L634.30 1018.40 L634.94 1018.40 L635.59 1018.40 L636.23 1018.40 L636.87 1018.40 L637.51 1018.40 L638.15 1018.40 L638.79 1018.40 L639.44 1018.40 L640.08 1018.40 L640.72 1018.40 L641.36 1018.40 L642.00 1018.40 L642.64 1018.40 L642.70 1018.40 M647.10 1018.40 L647.13 1018.40 L647.78 1018.40 L648.42 1018.40 L649.06 1018.40 L649.70 1018.40 L650.34 1018.40 L650.98 1018.40 L651.63 1018.40 L652.27 1018.40 L652.91 1018.40 L653.55 1018.40 L654.19 1018.40 L654.83 1018.40 L655.48 1018.40 L656.12 1018.40 L656.76 1018.40 L657.40 1018.40 L658.04 1018.40 L658.68 1018.40 L659.33 1018.40 L659.97 1018.40 L660.61 1018.40 L661.25 1018.40" stroke="#000" stroke-width="1.30" fill="none" stroke-linejoin="round"/>
<path d="M94.41 621.00 L94.62 622.23 M95.50 627.41 L95.71 628.64 M96.59 633.82 L96.63 634.08 L96.79 635.05 M97.65 640.23 L97.85 641.46 M98.70 646.64 L98.90 647.88 M99.74 653.06 L99.84 653.69 L99.93 654.29 M100.76 659.48 L100.96 660.71 M101.77 665.90 L101.97 667.13 M102.78 672.32 L102.97 673.56 M103.77 678.74 L103.96 679.98 M104.76 685.17 L104.95 686.40 M105.74 691.59 L105.93 692.83 M106.72 698.02 L106.90 699.18 L106.91 699.26 M107.69 704.45 L107.88 705.68 M108.66 710.87 L108.82 711.93 L108.85 712.11 M109.63 717.30 L109.81 718.54 M110.59 723.73 L110.75 724.75 L110.78 724.97 M111.56 730.16 L111.74 731.39 M112.52 736.59 L112.67 737.57 L112.71 737.82 M113.49 743.01 L113.68 744.25 M114.46 749.44 L114.60 750.35 L114.65 750.68 M115.43 755.87 L115.62 757.10 M116.41 762.29 L116.52 763.04 L116.60 763.53 M117.39 768.72 L117.58 769.96 M118.38 775.14 L118.45 775.59 L118.57 776.38 M119.37 781.57 L119.56 782.80 M120.37 787.99 L120.57 789.22 M121.39 794.41 L121.58 795.65 M122.41 800.83 L122.61 802.06 M123.45 807.25 L123.58 808.06 L123.65 808.48 M124.49 813.66 L124.70 814.89 M125.56 820.07 L125.76 821.31 M126.64 826.48 L126.79 827.36 L126.85 827.72 M127.74 832.89 L127.95 834.12 M128.85 839.29 L129.07 840.52 M129.99 845.69 L129.99 845.71 L130.21 846.92 M131.15 852.09 L131.28 852.76 L131.38 853.32 M132.34 858.48 L132.56 859.63 L132.58 859.71 M133.56 864.86 L133.80 866.09 M134.81 871.24 L135.06 872.47 M136.10 877.61 L136.35 878.84 M137.42 883.98 L137.68 885.20 M138.79 890.33 L138.98 891.20 L139.05 891.55 M140.20 896.68 L140.26 896.94 L140.48 897.90 M141.67 903.01 L141.96 904.23 M143.19 909.33 L143.47 910.45 L143.49 910.54 M144.78 915.63 L145.10 916.84 M146.44 921.91 L146.68 922.77 L146.77 923.12 M148.19 928.17 L148.54 929.38 M150.03 934.41 L150.40 935.60 M151.98 940.61 L152.36 941.80 M154.05 946.77 L154.38 947.72 L154.46 947.95 M156.25 952.89 L156.30 953.01 L156.70 954.05 M158.63 958.94 L158.87 959.52 L159.10 960.09 M161.19 964.91 L161.43 965.46 L161.71 966.05 M163.97 970.78 L164.00 970.84 L164.54 971.90 M167.01 976.53 L167.21 976.87 L167.63 977.61 M170.36 982.10 L170.42 982.19 L171.04 983.15 M174.05 987.44 L174.27 987.73 L174.81 988.44 M178.14 992.49 L178.76 993.18 L178.98 993.42 M182.67 997.16 L183.25 997.70 L183.59 998.01 M187.63 1001.35 L187.74 1001.43 L188.38 1001.91 L188.64 1002.09 M193.01 1004.99 L193.51 1005.28 L194.09 1005.62 M198.75 1008.03 L199.29 1008.28 L199.89 1008.55 M204.77 1010.49 L205.06 1010.60 L205.70 1010.82 L205.95 1010.90 M210.97 1012.43 L211.48 1012.56 L212.12 1012.73 L212.18 1012.74 M217.30 1013.92 L217.90 1014.04 L218.52 1014.16 M223.70 1015.05 L224.31 1015.14 L224.93 1015.23 M230.14 1015.90 L230.73 1015.97 L231.37 1016.04 L231.38 1016.04 M236.61 1016.54 L237.14 1016.58 L237.79 1016.64 L237.86 1016.64 M243.09 1017.02 L243.56 1017.04 L244.20 1017.08 L244.34 1017.09 M249.58 1017.37 L249.98 1017.39 L250.62 1017.42 L250.83 1017.43 M256.08 1017.63 L256.39 1017.65 L257.03 1017.67 L257.33 1017.68 M262.57 1017.83 L262.81 1017.84 L263.45 1017.85 L263.82 1017.86 M269.07 1017.98 L269.22 1017.98 L269.87 1017.99 L270.32 1018.00 M275.57 1018.09 L275.64 1018.09 L276.28 1018.10 L276.82 1018.10 M282.07 1018.17 L282.70 1018.17 L283.32 1018.18 M288.57 1018.23 L289.11 1018.23 L289.76 1018.24 L289.82 1018.24 M295.07 1018.27 L295.53 1018.27 L296.17 1018.28 L296.32 1018.28 M301.57 1018.30 L301.95 1018.31 L302.59 1018.31 L302.82 1018.31 M308.07 1018.33 L308.36 1018.33 L309.00 1018.33 L309.32 1018.33 M314.57 1018.35 L314.78 1018.35 L315.42 1018.35 L315.82 1018.35 M321.07 1018.36 L321.20 1018.36 L321.84 1018.36 L322.32 1018.36 M327.57 1018.37 L327.61 1018.37 L328.25 1018.37 L328.82 1018.37 M334.07 1018.38 L334.67 1018.38 L335.31 1018.38 L335.32 1018.38 M340.57 1018.38 L341.09 1018.38 L341.73 1018.38 L341.82 1018.38 M347.07 1018.39 L347.50 1018.39 L348.14 1018.39 L348.32 1018.39 M353.57 1018.39 L353.92 1018.39 L354.56 1018.39 L354.82 1018.39 M360.07 1018.39 L360.33 1018.39 L360.98 1018.39 L361.32 1018.39 M366.57 1018.40 L366.75 1018.40 L367.39 1018.40 L367.82 1018.40 M373.07 1018.40 L373.17 1018.40 L373.81 1018.40 L374.32 1018.40 M379.57 1018.40 L379.58 1018.40 L380.22 1018.40 L380.82 1018.40 M386.07 1018.40 L386.64 1018.40 L387.28 1018.40 L387.32 1018.40 M392.57 1018.40 L393.06 1018.40 L393.70 1018.40 L393.82 1018.40 M399.07 1018.40 L399.47 1018.40 L400.11 1018.40 L400.32 1018.40 M405.57 1018.40 L405.89 1018.40 L406.53 1018.40 L406.82 1018.40 M412.07 1018.40 L412.30 1018.40 L412.95 1018.40 L413.32 1018.40 M418.57 1018.40 L418.72 1018.40 L419.36 1018.40 L419.82 1018.40 M425.07 1018.40 L425.14 1018.40 L425.78 1018.40 L426.32 1018.40 M431.57 1018.40 L432.19 1018.40 L432.82 1018.40 M438.07 1018.40 L438.61 1018.40 L439.25 1018.40 L439.32 1018.40 M444.57 1018.40 L445.03 1018.40 L445.67 1018.40 L445.82 1018.40 M451.07 1018.40 L451.44 1018.40 L452.08 1018.40 L452.32 1018.40 M457.57 1018.40 L457.86 1018.40 L458.50 1018.40 L458.82 1018.40 M464.07 1018.40 L464.27 1018.40 L464.92 1018.40 L465.32 1018.40 M470.57 1018.40 L470.69 1018.40 L471.33 1018.40 L471.82 1018.40 M477.07 1018.40 L477.11 1018.40 L477.75 1018.40 L478.32 1018.40 M483.57 1018.40 L484.16 1018.40 L484.81 1018.40 L484.82 1018.40 M490.07 1018.40 L490.58 1018.40 L491.22 1018.40 L491.32 1018.40 M496.57 1018.40 L497.00 1018.40 L497.64 1018.40 L497.82 1018.40 M503.07 1018.40 L503.41 1018.40 L504.05 1018.40 L504.32 1018.40 M509.57 1018.40 L509.83 1018.40 L510.47 1018.40 L510.82 1018.40 M516.07 1018.40 L516.25 1018.40 L516.89 1018.40 L517.32 1018.40 M522.57 1018.40 L522.66 1018.40 L523.30 1018.40 L523.82 1018.40 M529.07 1018.40 L529.08 1018.40 L529.72 1018.40 L530.32 1018.40 M535.57 1018.40 L536.14 1018.40 L536.78 1018.40 L536.82 1018.40 M542.07 1018.40 L542.55 1018.40 L543.19 1018.40 L543.32 1018.40 M548.57 1018.40 L548.97 1018.40 L549.61 1018.40 L549.82 1018.40 M555.07 1018.40 L555.38 1018.40 L556.03 1018.40 L556.32 1018.40 M561.57 1018.40 L561.80 1018.40 L562.44 1018.40 L562.82 1018.40 M568.07 1018.40 L568.22 1018.40 L568.86 1018.40 L569.32 1018.40 M574.57 1018.40 L574.63 1018.40 L575.27 1018.40 L575.82 1018.40 M581.07 1018.40 L581.69 1018.40 L582.32 1018.40 M587.57 1018.40 L588.11 1018.40 L588.75 1018.40 L588.82 1018.40 M594.07 1018.40 L594.52 1018.40 L595.16 1018.40 L595.32 1018.40 M600.57 1018.40 L600.94 1018.40 L601.58 1018.40 L601.82 1018.40 M607.07 1018.40 L607.35 1018.40 L608.00 1018.40 L608.32 1018.40 M613.57 1018.40 L613.77 1018.40 L614.41 1018.40 L614.82 1018.40 M620.07 1018.40 L620.19 1018.40 L620.83 1018.40 L621.32 1018.40 M626.57 1018.40 L626.60 1018.40 L627.24 1018.40 L627.82 1018.40 M633.07 1018.40 L633.66 1018.40 L634.30 1018.40 L634.32 1018.40 M639.57 1018.40 L640.08 1018.40 L640.72 1018.40 L640.82 1018.40 M646.07 1018.40 L646.49 1018.40 L647.13 1018.40 L647.32 1018.40 M652.57 1018.40 L652.91 1018.40 L653.55 1018.40 L653.82 1018.40 M659.07 1018.40 L659.33 1018.40 L659.97 1018.40 L660.32 1018.40" stroke="#000" stroke-width="1.25" fill="none" stroke-linejoin="round"/>
<path d="M95.36 628.64 L95.99 631.03 L96.63 633.44 L97.27 635.85 L97.91 638.24 L98.56 640.62 L99.20 642.98 L99.84 645.33 L100.48 647.67 L101.12 650.00 L101.76 652.31 L102.41 654.61 L102.70 655.67 M104.75 662.90 L104.97 663.68 L105.44 665.31 M107.66 672.96 L108.18 674.73 L108.82 676.90 L109.46 679.06 L110.10 681.21 L110.75 683.34 L111.39 685.47 L112.03 687.58 L112.67 689.68 L113.31 691.76 L113.95 693.84 L114.60 695.90 L115.24 697.95 L115.70 699.43 M117.95 706.49 L118.45 708.03 L118.71 708.84 M121.15 716.30 L121.65 717.82 L122.30 719.75 L122.94 721.66 L123.58 723.56 L124.22 725.45 L124.86 727.33 L125.50 729.20 L126.14 731.05 L126.79 732.90 L127.43 734.74 L128.07 736.56 L128.71 738.37 L129.35 740.18 L129.99 741.97 L130.02 742.03 M132.50 748.87 L132.56 749.03 L133.20 750.77 L133.34 751.14 M136.04 758.35 L136.41 759.31 L137.05 760.99 L137.69 762.66 L138.34 764.32 L138.98 765.97 L139.62 767.60 L140.26 769.23 L140.90 770.85 L141.54 772.46 L142.19 774.06 L142.83 775.65 L143.47 777.23 L144.11 778.80 L144.75 780.36 L145.39 781.91 L145.88 783.07 M148.64 789.62 L149.24 791.02 L149.57 791.78 M152.58 798.65 L153.09 799.80 L153.73 801.23 L154.38 802.65 L155.02 804.07 L155.66 805.47 L156.30 806.87 L156.94 808.26 L157.58 809.64 L158.23 811.01 L158.87 812.37 L159.51 813.73 L160.15 815.07 L160.79 816.41 L161.43 817.74 L162.08 819.06 L162.72 820.37 L163.36 821.68 L163.53 822.03 M166.61 828.17 L167.21 829.34 L167.65 830.20 M171.00 836.61 L171.06 836.72 L171.70 837.92 L172.34 839.11 L172.98 840.30 L173.62 841.48 L174.27 842.65 L174.91 843.82 L175.55 844.98 L176.19 846.13 L176.83 847.27 L177.47 848.41 L178.12 849.53 L178.76 850.66 L179.40 851.77 L180.04 852.88 L180.68 853.98 L181.32 855.07 L181.97 856.16 L182.61 857.24 L183.19 858.22 M186.61 863.83 L187.10 864.61 L187.74 865.63 L187.77 865.67 M191.49 871.49 L191.59 871.65 L192.23 872.63 L192.87 873.60 L193.51 874.57 L194.16 875.53 L194.80 876.49 L195.44 877.44 L196.08 878.38 L196.72 879.32 L197.36 880.25 L198.01 881.18 L198.65 882.10 L199.29 883.01 L199.93 883.92 L200.57 884.82 L201.21 885.72 L201.86 886.61 L202.50 887.49 L203.14 888.37 L203.78 889.24 L204.42 890.11 L204.97 890.85 M208.74 895.80 L208.91 896.03 L209.55 896.85 L210.01 897.43 M214.09 902.52 L214.69 903.24 L215.33 904.02 L215.97 904.79 L216.61 905.56 L217.25 906.32 L217.90 907.08 L218.54 907.83 L219.18 908.57 L219.82 909.31 L220.46 910.05 L221.10 910.78 L221.75 911.51 L222.39 912.23 L223.03 912.95 L223.67 913.66 L224.31 914.37 L224.95 915.07 L225.59 915.77 L226.24 916.47 L226.88 917.16 L227.52 917.84 L228.16 918.52 L228.80 919.20 L228.81 919.20 M232.89 923.40 L233.29 923.81 L233.94 924.45 L234.26 924.77 M238.67 929.05 L239.07 929.43 L239.71 930.03 L240.35 930.63 L240.99 931.23 L241.64 931.82 L242.28 932.41 L242.92 932.99 L243.56 933.57 L244.20 934.15 L244.84 934.72 L245.48 935.29 L246.13 935.86 L246.77 936.42 L247.41 936.97 L248.05 937.53 L248.69 938.08 L249.33 938.62 L249.98 939.17 L250.62 939.71 L251.26 940.24 L251.90 940.78 L252.54 941.30 L253.18 941.83 L253.83 942.35 L254.43 942.84 M258.77 946.25 L258.96 946.40 L259.60 946.89 L260.22 947.36 M264.88 950.81 L265.37 951.16 L266.02 951.62 L266.66 952.08 L267.30 952.53 L267.94 952.98 L268.58 953.43 L269.22 953.87 L269.87 954.31 L270.51 954.75 L271.15 955.19 L271.79 955.62 L272.43 956.05 L273.07 956.48 L273.72 956.90 L274.36 957.32 L275.00 957.74 L275.64 958.15 L276.28 958.56 L276.92 958.97 L277.57 959.38 L278.21 959.78 L278.85 960.19 L279.49 960.58 L280.13 960.98 L280.77 961.37 L281.42 961.76 L281.42 961.77 M285.95 964.45 L286.55 964.79 L287.19 965.16 L287.46 965.31 M292.30 968.00 L292.32 968.01 L292.96 968.36 L293.61 968.70 L294.25 969.04 L294.89 969.38 L295.53 969.72 L296.17 970.05 L296.81 970.38 L297.46 970.71 L298.10 971.04 L298.74 971.37 L299.38 971.69 L300.02 972.01 L300.66 972.33 L301.31 972.64 L301.95 972.96 L302.59 973.27 L303.23 973.58 L303.87 973.89 L304.51 974.19 L305.15 974.50 L305.80 974.80 L306.44 975.10 L307.08 975.40 L307.72 975.69 L308.36 975.99 L309.00 976.28 L309.36 976.44 M314.00 978.48 L314.14 978.54 L314.78 978.81 L315.42 979.09 L315.55 979.14 M320.50 981.18 L320.55 981.20 L321.20 981.46 L321.84 981.71 L322.48 981.96 L323.12 982.21 L323.76 982.46 L324.40 982.71 L325.04 982.96 L325.69 983.20 L326.33 983.44 L326.97 983.68 L327.61 983.92 L328.25 984.16 L328.89 984.40 L329.54 984.63 L330.18 984.86 L330.82 985.09 L331.46 985.32 L332.10 985.55 L332.74 985.78 L333.39 986.00 L334.03 986.23 L334.67 986.45 L335.31 986.67 L335.95 986.89 L336.59 987.10 L337.24 987.32 L337.88 987.53 L337.89 987.54 M342.60 989.07 L343.01 989.20 L343.65 989.40 L344.17 989.56 M349.19 991.08 L349.43 991.15 L350.07 991.34 L350.71 991.52 L351.35 991.71 L351.99 991.89 L352.63 992.08 L353.28 992.26 L353.92 992.44 L354.56 992.62 L355.20 992.80 L355.84 992.97 L356.48 993.15 L357.13 993.32 L357.77 993.50 L358.41 993.67 L359.05 993.84 L359.69 994.01 L360.33 994.18 L360.98 994.34 L361.62 994.51 L362.26 994.68 L362.90 994.84 L363.54 995.00 L364.18 995.16 L364.82 995.32 L365.47 995.48 L366.11 995.64 L366.75 995.80 L366.76 995.80 M371.51 996.93 L371.88 997.02 L372.52 997.17 L373.10 997.30 M378.15 998.42 L378.30 998.45 L378.94 998.59 L379.58 998.73 L380.22 998.86 L380.87 999.00 L381.51 999.13 L382.15 999.27 L382.79 999.40 L383.43 999.53 L384.07 999.66 L384.71 999.79 L385.36 999.92 L386.00 1000.05 L386.64 1000.17 L387.28 1000.30 L387.92 1000.43 L388.56 1000.55 L389.21 1000.67 L389.85 1000.80 L390.49 1000.92 L391.13 1001.04 L391.77 1001.16 L392.41 1001.28 L393.06 1001.40 L393.70 1001.51 L394.34 1001.63 L394.98 1001.75 L395.62 1001.86 L395.83 1001.90 M400.60 1002.73 L400.76 1002.76 L401.40 1002.86 L402.04 1002.97 L402.20 1003.00 M407.27 1003.82 L407.81 1003.91 L408.45 1004.01 L409.10 1004.11 L409.74 1004.21 L410.38 1004.30 L411.02 1004.40 L411.66 1004.50 L412.30 1004.60 L412.95 1004.69 L413.59 1004.79 L414.23 1004.88 L414.87 1004.97 L415.51 1005.07 L416.15 1005.16 L416.80 1005.25 L417.44 1005.34 L418.08 1005.43 L418.72 1005.52 L419.36 1005.61 L420.00 1005.70 L420.65 1005.79 L421.29 1005.88 L421.93 1005.96 L422.57 1006.05 L423.21 1006.13 L423.85 1006.22 L424.49 1006.30 L425.01 1006.37 M429.79 1006.98 L430.27 1007.04 L430.91 1007.12 L431.39 1007.17 M436.48 1007.78 L436.69 1007.80 L437.33 1007.87 L437.97 1007.95 L438.61 1008.02 L439.25 1008.09 L439.89 1008.16 L440.54 1008.23 L441.18 1008.30 L441.82 1008.37 L442.46 1008.44 L443.10 1008.51 L443.74 1008.58 L444.38 1008.65 L445.03 1008.72 L445.67 1008.78 L446.31 1008.85 L446.95 1008.92 L447.59 1008.98 L448.23 1009.05 L448.88 1009.11 L449.52 1009.18 L450.16 1009.24 L450.80 1009.31 L451.44 1009.37 L452.08 1009.43 L452.73 1009.49 L453.37 1009.56 L454.01 1009.62 L454.24 1009.64 M459.03 1010.08 L459.14 1010.09 L459.78 1010.15 L460.43 1010.21 L460.63 1010.23 M465.72 1010.66 L466.20 1010.70 L466.84 1010.76 L467.48 1010.81 L468.12 1010.86 L468.77 1010.92 L469.41 1010.97 L470.05 1011.02 L470.69 1011.07 L471.33 1011.12 L471.97 1011.17 L472.62 1011.22 L473.26 1011.27 L473.90 1011.32 L474.54 1011.37 L475.18 1011.42 L475.82 1011.47 L476.47 1011.52 L477.11 1011.56 L477.75 1011.61 L478.39 1011.66 L479.03 1011.71 L479.67 1011.75 L480.32 1011.80 L480.96 1011.84 L481.60 1011.89 L482.24 1011.93 L482.88 1011.98 L483.50 1012.02 M488.30 1012.35 L488.66 1012.37 L489.30 1012.41 L489.90 1012.45 M495.00 1012.77 L495.07 1012.77 L495.71 1012.81 L496.36 1012.85 L497.00 1012.89 L497.64 1012.93 L498.28 1012.97 L498.92 1013.01 L499.56 1013.04 L500.21 1013.08 L500.85 1013.12 L501.49 1013.15 L502.13 1013.19 L502.77 1013.23 L503.41 1013.26 L504.05 1013.30 L504.70 1013.33 L505.34 1013.37 L505.98 1013.40 L506.62 1013.44 L507.26 1013.47 L507.90 1013.51 L508.55 1013.54 L509.19 1013.57 L509.83 1013.61 L510.47 1013.64 L511.11 1013.67 L511.75 1013.71 L512.40 1013.74 L512.79 1013.76 M517.58 1013.99 L518.17 1014.02 L518.81 1014.05 L519.18 1014.07 M524.28 1014.30 L524.59 1014.32 L525.23 1014.35 L525.87 1014.37 L526.51 1014.40 L527.15 1014.43 L527.79 1014.46 L528.44 1014.48 L529.08 1014.51 L529.72 1014.54 L530.36 1014.57 L531.00 1014.59 L531.64 1014.62 L532.29 1014.64 L532.93 1014.67 L533.57 1014.70 L534.21 1014.72 L534.85 1014.75 L535.49 1014.77 L536.14 1014.80 L536.78 1014.82 L537.42 1014.85 L538.06 1014.87 L538.70 1014.90 L539.34 1014.92 L539.99 1014.95 L540.63 1014.97 L541.27 1014.99 L541.91 1015.02 L542.08 1015.02 M546.87 1015.20 L547.04 1015.20 L547.68 1015.22 L548.33 1015.25 L548.47 1015.25 M553.57 1015.42 L554.10 1015.44 L554.74 1015.46 L555.38 1015.48 L556.03 1015.50 L556.67 1015.52 L557.31 1015.54 L557.95 1015.56 L558.59 1015.58 L559.23 1015.60 L559.88 1015.62 L560.52 1015.64 L561.16 1015.66 L561.80 1015.67 L562.44 1015.69 L563.08 1015.71 L563.72 1015.73 L564.37 1015.75 L565.01 1015.77 L565.65 1015.79 L566.29 1015.80 L566.93 1015.82 L567.57 1015.84 L568.22 1015.86 L568.86 1015.88 L569.50 1015.89 L570.14 1015.91 L570.78 1015.93 L571.37 1015.94 M576.17 1016.07 L576.56 1016.08 L577.20 1016.09 L577.77 1016.11 M582.87 1016.23 L582.97 1016.24 L583.61 1016.25 L584.26 1016.26 L584.90 1016.28 L585.54 1016.29 L586.18 1016.31 L586.82 1016.32 L587.46 1016.34 L588.11 1016.35 L588.75 1016.37 L589.39 1016.38 L590.03 1016.39 L590.67 1016.41 L591.31 1016.42 L591.96 1016.44 L592.60 1016.45 L593.24 1016.46 L593.88 1016.48 L594.52 1016.49 L595.16 1016.50 L595.81 1016.52 L596.45 1016.53 L597.09 1016.54 L597.73 1016.56 L598.37 1016.57 L599.01 1016.58 L599.66 1016.59 L600.30 1016.61 L600.67 1016.61 M605.47 1016.70 L606.07 1016.72 L606.71 1016.73 L607.07 1016.73 M612.17 1016.82 L612.49 1016.83 L613.13 1016.84 L613.77 1016.85 L614.41 1016.86 L615.05 1016.87 L615.70 1016.88 L616.34 1016.89 L616.98 1016.90 L617.62 1016.91 L618.26 1016.92 L618.90 1016.93 L619.55 1016.95 L620.19 1016.96 L620.83 1016.97 L621.47 1016.98 L622.11 1016.99 L622.75 1016.99 L623.39 1017.00 L624.04 1017.01 L624.68 1017.02 L625.32 1017.03 L625.96 1017.04 L626.60 1017.05 L627.24 1017.06 L627.89 1017.07 L628.53 1017.08 L629.17 1017.09 L629.81 1017.10 L629.97 1017.10 M634.77 1017.17 L634.94 1017.17 L635.59 1017.18 L636.23 1017.19 L636.37 1017.19 M641.47 1017.25 L642.00 1017.26 L642.64 1017.27 L643.28 1017.28 L643.93 1017.28 L644.57 1017.29 L645.21 1017.30 L645.85 1017.31 L646.49 1017.31 L647.13 1017.32 L647.78 1017.33 L648.42 1017.34 L649.06 1017.34 L649.70 1017.35 L650.34 1017.36 L650.98 1017.37 L651.63 1017.37 L652.27 1017.38 L652.91 1017.39 L653.55 1017.39 L654.19 1017.40 L654.83 1017.41 L655.48 1017.42 L656.12 1017.42 L656.76 1017.43 L657.40 1017.44 L658.04 1017.44 L658.68 1017.45 L659.27 1017.46" stroke="#000" stroke-width="1.30" fill="none" stroke-linejoin="round"/>
<path d="M84.44 625.62 L85.08 626.68 L85.72 627.73 L86.36 628.78 L87.01 629.83 L87.65 630.88 L88.29 631.93 L88.93 632.98 L89.57 634.02 L90.21 635.07 L90.86 636.11 L91.50 637.15 L92.14 638.19 L92.78 639.22 L93.23 639.95 M96.47 645.16 L96.63 645.41 L97.27 646.43 L97.91 647.46 L98.56 648.48 L99.20 649.50 L99.84 650.51 L100.48 651.53 L101.12 652.55 L101.76 653.56 L102.41 654.57 L103.05 655.58 L103.69 656.59 L104.33 657.59 L104.97 658.60 L105.61 659.60 L106.25 660.60 L106.90 661.60 L107.54 662.60 L108.18 663.59 L108.82 664.59 L109.46 665.58 L110.10 666.57 L110.75 667.56 L111.39 668.54 L112.03 669.53 L112.67 670.51 L113.31 671.49 L113.95 672.47 L114.60 673.45 L115.24 674.42 L115.83 675.32 M127.01 691.99 L127.43 692.60 L128.07 693.54 L128.71 694.47 L129.35 695.40 L129.99 696.34 L130.64 697.27 L131.28 698.19 L131.92 699.12 L132.56 700.04 L133.20 700.96 L133.84 701.88 L134.49 702.80 L135.13 703.72 L135.77 704.63 L136.41 705.54 L137.05 706.45 L137.69 707.36 L138.34 708.26 L138.75 708.85 M142.20 713.67 L142.83 714.55 L143.47 715.44 L144.11 716.32 L144.75 717.21 L145.39 718.09 L146.03 718.97 L146.68 719.85 L147.32 720.73 L147.96 721.61 L148.60 722.48 L149.24 723.35 L149.88 724.22 L150.53 725.09 L151.17 725.95 L151.81 726.81 L152.45 727.67 L153.09 728.53 L153.73 729.39 L154.38 730.24 L155.02 731.10 L155.66 731.95 L156.30 732.79 L156.94 733.64 L157.58 734.48 L158.23 735.33 L158.87 736.17 L159.51 737.00 L160.15 737.84 L160.79 738.67 L161.43 739.50 L162.08 740.33 L162.72 741.16 L162.85 741.34 M174.83 756.39 L174.91 756.48 L175.55 757.27 L176.19 758.05 L176.83 758.83 L177.47 759.61 L178.12 760.39 L178.76 761.16 L179.40 761.93 L180.04 762.71 L180.68 763.47 L181.32 764.24 L181.97 765.00 L182.61 765.77 L183.25 766.53 L183.89 767.28 L184.53 768.04 L185.17 768.79 L185.81 769.55 L186.46 770.30 L187.10 771.04 L187.43 771.43 M191.13 775.70 L191.59 776.22 L192.23 776.95 L192.87 777.68 L193.51 778.40 L194.16 779.13 L194.80 779.85 L195.44 780.57 L196.08 781.29 L196.72 782.00 L197.36 782.72 L198.01 783.43 L198.65 784.14 L199.29 784.85 L199.93 785.55 L200.57 786.25 L201.21 786.96 L201.86 787.66 L202.50 788.35 L203.14 789.05 L203.78 789.74 L204.42 790.43 L205.06 791.12 L205.70 791.81 L206.35 792.49 L206.99 793.18 L207.63 793.86 L208.27 794.53 L208.91 795.21 L209.55 795.89 L210.20 796.56 L210.84 797.23 L211.48 797.90 L212.12 798.56 L212.76 799.23 L213.33 799.81 M226.20 812.67 L226.24 812.71 L226.88 813.33 L227.52 813.95 L228.16 814.56 L228.80 815.18 L229.44 815.79 L230.09 816.40 L230.73 817.01 L231.37 817.61 L232.01 818.22 L232.65 818.82 L233.29 819.42 L233.94 820.02 L234.58 820.61 L235.22 821.21 L235.86 821.80 L236.50 822.39 L237.14 822.98 L237.79 823.57 L238.43 824.15 L239.07 824.73 L239.71 825.31 L239.71 825.31 M243.68 828.86 L244.20 829.32 L244.84 829.89 L245.48 830.45 L246.13 831.01 L246.77 831.57 L247.41 832.13 L248.05 832.69 L248.69 833.24 L249.33 833.79 L249.98 834.34 L250.62 834.89 L251.26 835.44 L251.90 835.98 L252.54 836.53 L253.18 837.07 L253.83 837.61 L254.47 838.14 L255.11 838.68 L255.75 839.21 L256.39 839.74 L257.03 840.27 L257.68 840.80 L258.32 841.33 L258.96 841.85 L259.60 842.37 L260.24 842.89 L260.88 843.41 L261.53 843.93 L262.17 844.45 L262.81 844.96 L263.45 845.47 L264.09 845.98 L264.73 846.49 L265.37 846.99 L266.02 847.50 L266.66 848.00 L267.30 848.50 L267.39 848.57 M281.07 858.83 L281.42 859.08 L282.06 859.54 L282.70 860.00 L283.34 860.46 L283.98 860.92 L284.62 861.37 L285.26 861.82 L285.91 862.27 L286.55 862.72 L287.19 863.17 L287.83 863.62 L288.47 864.06 L289.11 864.51 L289.76 864.95 L290.40 865.39 L291.04 865.82 L291.68 866.26 L292.32 866.70 L292.96 867.13 L293.61 867.56 L294.25 867.99 L294.89 868.42 L295.38 868.74 M299.57 871.49 L300.02 871.79 L300.66 872.20 L301.31 872.62 L301.95 873.03 L302.59 873.44 L303.23 873.84 L303.87 874.25 L304.51 874.66 L305.15 875.06 L305.80 875.46 L306.44 875.86 L307.08 876.26 L307.72 876.66 L308.36 877.05 L309.00 877.45 L309.65 877.84 L310.29 878.23 L310.93 878.62 L311.57 879.01 L312.21 879.40 L312.85 879.78 L313.50 880.16 L314.14 880.55 L314.78 880.93 L315.42 881.31 L316.06 881.68 L316.70 882.06 L317.35 882.44 L317.99 882.81 L318.63 883.18 L319.27 883.55 L319.91 883.92 L320.55 884.29 L321.20 884.66 L321.84 885.02 L322.48 885.39 L323.12 885.75 L323.76 886.11 L324.40 886.47 L324.48 886.51 M338.77 894.15 L339.16 894.36 L339.80 894.68 L340.44 895.01 L341.09 895.33 L341.73 895.66 L342.37 895.98 L343.01 896.30 L343.65 896.62 L344.29 896.93 L344.93 897.25 L345.58 897.57 L346.22 897.88 L346.86 898.19 L347.50 898.51 L348.14 898.82 L348.78 899.12 L349.43 899.43 L350.07 899.74 L350.71 900.04 L351.35 900.35 L351.99 900.65 L352.63 900.95 L353.28 901.25 L353.64 901.42 M357.98 903.42 L358.41 903.62 L359.05 903.91 L359.69 904.19 L360.33 904.48 L360.98 904.77 L361.62 905.05 L362.26 905.34 L362.90 905.62 L363.54 905.90 L364.18 906.18 L364.82 906.46 L365.47 906.74 L366.11 907.02 L366.75 907.29 L367.39 907.57 L368.03 907.84 L368.67 908.11 L369.32 908.38 L369.96 908.65 L370.60 908.92 L371.24 909.19 L371.88 909.46 L372.52 909.73 L373.17 909.99 L373.81 910.25 L374.45 910.52 L375.09 910.78 L375.73 911.04 L376.37 911.30 L377.02 911.56 L377.66 911.81 L378.30 912.07 L378.94 912.32 L379.58 912.58 L380.22 912.83 L380.87 913.08 L381.51 913.34 L382.15 913.58 L382.79 913.83 L383.43 914.08 L383.68 914.18 M398.33 919.55 L398.83 919.73 L399.47 919.95 L400.11 920.18 L400.76 920.40 L401.40 920.62 L402.04 920.84 L402.68 921.05 L403.32 921.27 L403.96 921.49 L404.60 921.70 L405.25 921.92 L405.89 922.13 L406.53 922.35 L407.17 922.56 L407.81 922.77 L408.45 922.98 L409.10 923.19 L409.74 923.40 L410.38 923.61 L411.02 923.81 L411.66 924.02 L412.30 924.22 L412.95 924.43 L413.52 924.61 M417.95 925.99 L418.08 926.03 L418.72 926.23 L419.36 926.42 L420.00 926.62 L420.65 926.81 L421.29 927.01 L421.93 927.20 L422.57 927.39 L423.21 927.58 L423.85 927.77 L424.49 927.96 L425.14 928.15 L425.78 928.33 L426.42 928.52 L427.06 928.71 L427.70 928.89 L428.34 929.08 L428.99 929.26 L429.63 929.44 L430.27 929.62 L430.91 929.81 L431.55 929.99 L432.19 930.17 L432.84 930.34 L433.48 930.52 L434.12 930.70 L434.76 930.88 L435.40 931.05 L436.04 931.23 L436.69 931.40 L437.33 931.57 L437.97 931.75 L438.61 931.92 L439.25 932.09 L439.89 932.26 L440.54 932.43 L441.18 932.60 L441.82 932.77 L442.46 932.94 L443.10 933.10 L443.74 933.27 L444.08 933.35 M458.92 936.99 L459.14 937.05 L459.78 937.19 L460.43 937.34 L461.07 937.49 L461.71 937.64 L462.35 937.78 L462.99 937.93 L463.63 938.07 L464.27 938.22 L464.92 938.36 L465.56 938.51 L466.20 938.65 L466.84 938.79 L467.48 938.93 L468.12 939.07 L468.77 939.21 L469.41 939.35 L470.05 939.49 L470.69 939.63 L471.33 939.77 L471.97 939.90 L472.62 940.04 L473.26 940.18 L473.90 940.31 L474.28 940.39 M478.75 941.31 L479.03 941.37 L479.67 941.50 L480.32 941.63 L480.96 941.76 L481.60 941.89 L482.24 942.02 L482.88 942.14 L483.52 942.27 L484.16 942.40 L484.81 942.52 L485.45 942.65 L486.09 942.77 L486.73 942.89 L487.37 943.02 L488.01 943.14 L488.66 943.26 L489.30 943.38 L489.94 943.50 L490.58 943.63 L491.22 943.75 L491.86 943.86 L492.51 943.98 L493.15 944.10 L493.79 944.22 L494.43 944.34 L495.07 944.45 L495.71 944.57 L496.36 944.69 L497.00 944.80 L497.64 944.92 L498.28 945.03 L498.92 945.14 L499.56 945.26 L500.21 945.37 L500.85 945.48 L501.49 945.59 L502.13 945.71 L502.77 945.82 L503.41 945.93 L504.05 946.04 L504.70 946.15 L505.08 946.21 M520.01 948.61 L520.10 948.63 L520.74 948.72 L521.38 948.82 L522.02 948.92 L522.66 949.02 L523.30 949.11 L523.94 949.21 L524.59 949.30 L525.23 949.40 L525.87 949.49 L526.51 949.58 L527.15 949.68 L527.79 949.77 L528.44 949.86 L529.08 949.96 L529.72 950.05 L530.36 950.14 L531.00 950.23 L531.64 950.32 L532.29 950.41 L532.93 950.50 L533.57 950.59 L534.21 950.68 L534.85 950.77 L535.46 950.85 M539.94 951.46 L539.99 951.46 L540.63 951.55 L541.27 951.63 L541.91 951.72 L542.55 951.80 L543.19 951.88 L543.83 951.97 L544.48 952.05 L545.12 952.13 L545.76 952.21 L546.40 952.29 L547.04 952.38 L547.68 952.46 L548.33 952.54 L548.97 952.62 L549.61 952.70 L550.25 952.78 L550.89 952.86 L551.53 952.93 L552.18 953.01 L552.82 953.09 L553.46 953.17 L554.10 953.25 L554.74 953.32 L555.38 953.40 L556.03 953.47 L556.67 953.55 L557.31 953.63 L557.95 953.70 L558.59 953.78 L559.23 953.85 L559.88 953.93 L560.52 954.00 L561.16 954.07 L561.80 954.15 L562.44 954.22 L563.08 954.29 L563.72 954.36 L564.37 954.44 L565.01 954.51 L565.65 954.58 L566.29 954.65 L566.37 954.66 M581.34 956.22 L581.69 956.26 L582.33 956.32 L582.97 956.38 L583.61 956.45 L584.26 956.51 L584.90 956.57 L585.54 956.63 L586.18 956.69 L586.82 956.76 L587.46 956.82 L588.11 956.88 L588.75 956.94 L589.39 957.00 L590.03 957.06 L590.67 957.12 L591.31 957.18 L591.96 957.24 L592.60 957.30 L593.24 957.35 L593.88 957.41 L594.52 957.47 L595.16 957.53 L595.81 957.59 L596.45 957.64 L596.82 957.68 M601.31 958.07 L601.58 958.09 L602.22 958.15 L602.86 958.20 L603.50 958.26 L604.15 958.31 L604.79 958.36 L605.43 958.42 L606.07 958.47 L606.71 958.52 L607.35 958.58 L608.00 958.63 L608.64 958.68 L609.28 958.73 L609.92 958.79 L610.56 958.84 L611.20 958.89 L611.85 958.94 L612.49 958.99 L613.13 959.04 L613.77 959.09 L614.41 959.14 L615.05 959.19 L615.70 959.24 L616.34 959.29 L616.98 959.34 L617.62 959.39 L618.26 959.44 L618.90 959.49 L619.55 959.54 L620.19 959.59 L620.83 959.63 L621.47 959.68 L622.11 959.73 L622.75 959.78 L623.39 959.82 L624.04 959.87 L624.68 959.92 L625.32 959.96 L625.96 960.01 L626.60 960.06 L627.24 960.10 L627.78 960.14 M642.77 961.15 L643.28 961.19 L643.93 961.23 L644.57 961.27 L645.21 961.31 L645.85 961.35 L646.49 961.39 L647.13 961.43 L647.78 961.47 L648.42 961.51 L649.06 961.55 L649.70 961.58 L650.34 961.62 L650.98 961.66 L651.63 961.70 L652.27 961.74 L652.91 961.78 L653.55 961.82 L654.19 961.85 L654.83 961.89 L655.48 961.93 L656.12 961.97 L656.76 962.00 L657.40 962.04 L658.04 962.08 L658.26 962.09" stroke="#000" stroke-width="1.30" fill="none" stroke-linejoin="round"/>
<path d="M84.44 624.70 L85.08 625.76 L85.72 626.82 L86.36 627.87 L87.01 628.92 L87.65 629.96 L88.29 631.01 L88.93 632.05 L89.57 633.08 L90.21 634.12 L90.86 635.15 L91.50 636.18 L92.14 637.21 L92.78 638.23 L93.42 639.25 L94.06 640.27 L94.71 641.28 L95.35 642.30 L95.99 643.30 L96.63 644.31 L97.27 645.31 L97.91 646.32 L98.56 647.31 L99.20 648.31 L99.84 649.30 L100.48 650.29 L101.12 651.28 L101.76 652.26 L102.41 653.24 L103.05 654.22 L103.69 655.20 L104.33 656.17 L104.97 657.14 L105.61 658.10 L106.25 659.07 L106.90 660.03 L107.54 660.99 L108.18 661.94 L108.82 662.90 L109.46 663.85 L110.10 664.80 L110.75 665.74 L111.39 666.68 L112.03 667.62 L112.67 668.56 L113.31 669.49 L113.95 670.42 L114.60 671.35 L115.24 672.28 L115.88 673.20 L116.52 674.12 L117.16 675.04 L117.80 675.95 L118.45 676.86 L119.09 677.77 L119.73 678.68 L120.37 679.58 L121.01 680.48 L121.65 681.38 L122.30 682.28 L122.94 683.17 L123.58 684.06 L124.22 684.95 L124.86 685.83 L125.50 686.71 L126.14 687.59 L126.79 688.47 L127.43 689.34 L128.07 690.22 L128.71 691.08 L129.35 691.95 L129.99 692.81 L130.64 693.67 L131.28 694.53 L131.92 695.39 L132.56 696.24 L133.20 697.09 L133.84 697.94 L134.49 698.78 L135.13 699.63 L135.77 700.46 L136.41 701.30 L137.05 702.14 L137.69 702.97 L138.34 703.80 L138.98 704.62 L139.62 705.45 L140.26 706.27 L140.90 707.09 L141.54 707.90 L142.19 708.72 L142.83 709.53 L143.47 710.34 L144.11 711.14 L144.75 711.95 L145.39 712.75 L146.03 713.54 L146.68 714.34 L147.32 715.13 L147.96 715.92 L148.60 716.71 L149.24 717.50 L149.88 718.28 L150.53 719.06 L151.17 719.84 L151.81 720.61 L152.45 721.39 L153.09 722.16 L153.73 722.93 L154.38 723.69 L155.02 724.45 L155.66 725.21 L156.30 725.97 L156.94 726.73 L157.58 727.48 L158.23 728.23 L158.87 728.98 L159.51 729.72 L160.15 730.47 L160.79 731.21 L161.43 731.95 L162.08 732.68 L162.72 733.42 L163.36 734.15 L164.00 734.88 L164.64 735.60 L165.28 736.33 L165.92 737.05 L166.57 737.77 L167.21 738.48 L167.85 739.20 L168.49 739.91 L169.13 740.62 L169.77 741.33 L170.42 742.03 L171.06 742.73 L171.70 743.43 L172.34 744.13 L172.98 744.83 L173.62 745.52 L174.27 746.21 L174.91 746.90 L175.55 747.58 L176.19 748.27 L176.83 748.95 L177.47 749.63 L178.12 750.30 L178.76 750.98 L179.40 751.65 L180.04 752.32 L180.68 752.99 L181.32 753.65 L181.97 754.32 L182.61 754.98 L183.25 755.64 L183.89 756.29 L184.53 756.95 L185.17 757.60 L185.81 758.25 L186.46 758.89 L187.10 759.54 L187.74 760.18 L188.38 760.82 L189.02 761.46 L189.66 762.10 L190.31 762.73 L190.95 763.36 L191.59 763.99 L192.23 764.62 L192.87 765.25 L193.51 765.87 L194.16 766.49 L194.80 767.11 L195.44 767.73 L196.08 768.34 L196.72 768.95 L197.36 769.56 L198.01 770.17 L198.65 770.78 L199.29 771.38 L199.93 771.98 L200.57 772.58 L201.21 773.18 L201.86 773.77 L202.50 774.37 L203.14 774.96 L203.78 775.55 L204.42 776.13 L205.06 776.72 L205.70 777.30 L206.35 777.88 L206.99 778.46 L207.63 779.04 L208.27 779.61 L208.91 780.18 L209.55 780.75 L210.20 781.32 L210.84 781.89 L211.48 782.45 L212.12 783.02 L212.76 783.58 L213.40 784.13 L214.05 784.69 L214.69 785.24 L215.33 785.80 L215.97 786.35 L216.61 786.90 L217.25 787.44 L217.90 787.99 L218.54 788.53 L219.18 789.07 L219.82 789.61 L220.46 790.14 L221.10 790.68 L221.75 791.21 L222.39 791.74 L223.03 792.27 L223.67 792.80 L224.31 793.32 L224.95 793.85 L225.59 794.37 L226.24 794.89 L226.88 795.40 L227.52 795.92 L228.16 796.43 L228.80 796.95 L229.44 797.46 L230.09 797.96 L230.73 798.47 L231.37 798.97 L232.01 799.48 L232.65 799.98 L233.29 800.48 L233.94 800.97 L234.58 801.47 L235.22 801.96 L235.86 802.45 L236.50 802.94 L237.14 803.43 L237.79 803.92 L238.43 804.40 L239.07 804.88 L239.71 805.36 L240.35 805.84 L240.99 806.32 L241.64 806.80 L242.28 807.27 L242.92 807.74 L243.56 808.21 L244.20 808.68 L244.84 809.15 L245.48 809.61 L246.13 810.07 L246.77 810.54 L247.41 811.00 L248.05 811.45 L248.69 811.91 L249.33 812.36 L249.98 812.82 L250.62 813.27 L251.26 813.72 L251.90 814.17 L252.54 814.61 L253.18 815.06 L253.83 815.50 L254.47 815.94 L255.11 816.38 L255.75 816.82 L256.39 817.25 L257.03 817.69 L257.68 818.12 L258.32 818.55 L258.96 818.98 L259.60 819.41 L260.24 819.84 L260.88 820.26 L261.53 820.68 L262.17 821.11 L262.81 821.53 L263.45 821.94 L264.09 822.36 L264.73 822.78 L265.37 823.19 L266.02 823.60 L266.66 824.01 L267.30 824.42 L267.94 824.83 L268.58 825.23 L269.22 825.64 L269.87 826.04 L270.51 826.44 L271.15 826.84 L271.79 827.24 L272.43 827.64 L273.07 828.03 L273.72 828.43 L274.36 828.82 L275.00 829.21 L275.64 829.60 L276.28 829.99 L276.92 830.37 L277.57 830.76 L278.21 831.14 L278.85 831.52 L279.49 831.90 L280.13 832.28 L280.77 832.66 L281.42 833.03 L282.06 833.41 L282.70 833.78 L283.34 834.15 L283.98 834.52 L284.62 834.89 L285.26 835.26 L285.91 835.62 L286.55 835.99 L287.19 836.35 L287.83 836.71 L288.47 837.07 L289.11 837.43 L289.76 837.79 L290.40 838.14 L291.04 838.50 L291.68 838.85 L292.32 839.20 L292.96 839.55 L293.61 839.90 L294.25 840.25 L294.89 840.60 L295.53 840.94 L296.17 841.29 L296.81 841.63 L297.46 841.97 L298.10 842.31 L298.74 842.65 L299.38 842.99 L300.02 843.32 L300.66 843.66 L301.31 843.99 L301.95 844.32 L302.59 844.65 L303.23 844.98 L303.87 845.31 L304.51 845.63 L305.15 845.96 L305.80 846.28 L306.44 846.61 L307.08 846.93 L307.72 847.25 L308.36 847.57 L309.00 847.89 L309.65 848.20 L310.29 848.52 L310.93 848.83 L311.57 849.14 L312.21 849.46 L312.85 849.77 L313.50 850.07 L314.14 850.38 L314.78 850.69 L315.42 850.99 L316.06 851.30 L316.70 851.60 L317.35 851.90 L317.99 852.20 L318.63 852.50 L319.27 852.80 L319.91 853.10 L320.55 853.39 L321.20 853.69 L321.84 853.98 L322.48 854.28 L323.12 854.57 L323.76 854.86 L324.40 855.15 L325.04 855.43 L325.69 855.72 L326.33 856.01 L326.97 856.29 L327.61 856.57 L328.25 856.85 L328.89 857.14 L329.54 857.42 L330.18 857.69 L330.82 857.97 L331.46 858.25 L332.10 858.52 L332.74 858.80 L333.39 859.07 L334.03 859.34 L334.67 859.61 L335.31 859.88 L335.95 860.15 L336.59 860.42 L337.24 860.69 L337.88 860.95 L338.52 861.22 L339.16 861.48 L339.80 861.74 L340.44 862.01 L341.09 862.27 L341.73 862.52 L342.37 862.78 L343.01 863.04 L343.65 863.30 L344.29 863.55 L344.93 863.81 L345.58 864.06 L346.22 864.31 L346.86 864.56 L347.50 864.81 L348.14 865.06 L348.78 865.31 L349.43 865.56 L350.07 865.80 L350.71 866.05 L351.35 866.29 L351.99 866.53 L352.63 866.78 L353.28 867.02 L353.92 867.26 L354.56 867.50 L355.20 867.73 L355.84 867.97 L356.48 868.21 L357.13 868.44 L357.77 868.68 L358.41 868.91 L359.05 869.14 L359.69 869.38 L360.33 869.61 L360.98 869.84 L361.62 870.06 L362.26 870.29 L362.90 870.52 L363.54 870.75 L364.18 870.97 L364.82 871.19 L365.47 871.42 L366.11 871.64 L366.75 871.86 L367.39 872.08 L368.03 872.30 L368.67 872.52 L369.32 872.74 L369.96 872.95 L370.60 873.17 L371.24 873.39 L371.88 873.60 L372.52 873.81 L373.17 874.03 L373.81 874.24 L374.45 874.45 L375.09 874.66 L375.73 874.87 L376.37 875.08 L377.02 875.28 L377.66 875.49 L378.30 875.70 L378.94 875.90 L379.58 876.10 L380.22 876.31 L380.87 876.51 L381.51 876.71 L382.15 876.91 L382.79 877.11 L383.43 877.31 L384.07 877.51 L384.71 877.71 L385.36 877.90 L386.00 878.10 L386.64 878.29 L387.28 878.49 L387.92 878.68 L388.56 878.87 L389.21 879.07 L389.85 879.26 L390.49 879.45 L391.13 879.64 L391.77 879.82 L392.41 880.01 L393.06 880.20 L393.70 880.39 L394.34 880.57 L394.98 880.76 L395.62 880.94 L396.26 881.12 L396.91 881.31 L397.55 881.49 L398.19 881.67 L398.83 881.85 L399.47 882.03 L400.11 882.21 L400.76 882.39 L401.40 882.56 L402.04 882.74 L402.68 882.92 L403.32 883.09 L403.96 883.27 L404.60 883.44 L405.25 883.61 L405.89 883.78 L406.53 883.96 L407.17 884.13 L407.81 884.30 L408.45 884.47 L409.10 884.64 L409.74 884.80 L410.38 884.97 L411.02 885.14 L411.66 885.30 L412.30 885.47 L412.95 885.63 L413.59 885.80 L414.23 885.96 L414.87 886.12 L415.51 886.28 L416.15 886.45 L416.80 886.61 L417.44 886.77 L418.08 886.93 L418.72 887.08 L419.36 887.24 L420.00 887.40 L420.65 887.56 L421.29 887.71 L421.93 887.87 L422.57 888.02 L423.21 888.18 L423.85 888.33 L424.49 888.48 L425.14 888.63 L425.78 888.78 L426.42 888.94 L427.06 889.09 L427.70 889.24 L428.34 889.38 L428.99 889.53 L429.63 889.68 L430.27 889.83 L430.91 889.97 L431.55 890.12 L432.19 890.26 L432.84 890.41 L433.48 890.55 L434.12 890.70 L434.76 890.84 L435.40 890.98 L436.04 891.12 L436.69 891.26 L437.33 891.41 L437.97 891.54 L438.61 891.68 L439.25 891.82 L439.89 891.96 L440.54 892.10 L441.18 892.24 L441.82 892.37 L442.46 892.51 L443.10 892.64 L443.74 892.78 L444.38 892.91 L445.03 893.05 L445.67 893.18 L446.31 893.31 L446.95 893.44 L447.59 893.57 L448.23 893.70 L448.88 893.84 L449.52 893.96 L450.16 894.09 L450.80 894.22 L451.44 894.35 L452.08 894.48 L452.73 894.61 L453.37 894.73 L454.01 894.86 L454.65 894.98 L455.29 895.11 L455.93 895.23 L456.58 895.36 L457.22 895.48 L457.86 895.60 L458.50 895.72 L459.14 895.85 L459.78 895.97 L460.43 896.09 L461.07 896.21 L461.71 896.33 L462.35 896.45 L462.99 896.57 L463.63 896.68 L464.27 896.80 L464.92 896.92 L465.56 897.04 L466.20 897.15 L466.84 897.27 L467.48 897.38 L468.12 897.50 L468.77 897.61 L469.41 897.73 L470.05 897.84 L470.69 897.95 L471.33 898.06 L471.97 898.18 L472.62 898.29 L473.26 898.40 L473.90 898.51 L474.54 898.62 L475.18 898.73 L475.82 898.84 L476.47 898.95 L477.11 899.06 L477.75 899.16 L478.39 899.27 L479.03 899.38 L479.67 899.48 L480.32 899.59 L480.96 899.70 L481.60 899.80 L482.24 899.90 L482.88 900.01 L483.52 900.11 L484.16 900.22 L484.81 900.32 L485.45 900.42 L486.09 900.52 L486.73 900.62 L487.37 900.73 L488.01 900.83 L488.66 900.93 L489.30 901.03 L489.94 901.13 L490.58 901.22 L491.22 901.32 L491.86 901.42 L492.51 901.52 L493.15 901.62 L493.79 901.71 L494.43 901.81 L495.07 901.91 L495.71 902.00 L496.36 902.10 L497.00 902.19 L497.64 902.29 L498.28 902.38 L498.92 902.47 L499.56 902.57 L500.21 902.66 L500.85 902.75 L501.49 902.85 L502.13 902.94 L502.77 903.03 L503.41 903.12 L504.05 903.21 L504.70 903.30 L505.34 903.39 L505.98 903.48 L506.62 903.57 L507.26 903.66 L507.90 903.74 L508.55 903.83 L509.19 903.92 L509.83 904.01 L510.47 904.09 L511.11 904.18 L511.75 904.27 L512.40 904.35 L513.04 904.44 L513.68 904.52 L514.32 904.61 L514.96 904.69 L515.60 904.78 L516.25 904.86 L516.89 904.94 L517.53 905.02 L518.17 905.11 L518.81 905.19 L519.45 905.27 L520.10 905.35 L520.74 905.43 L521.38 905.51 L522.02 905.59 L522.66 905.67 L523.30 905.75 L523.94 905.83 L524.59 905.91 L525.23 905.99 L525.87 906.07 L526.51 906.15 L527.15 906.23 L527.79 906.30 L528.44 906.38 L529.08 906.46 L529.72 906.53 L530.36 906.61 L531.00 906.68 L531.64 906.76 L532.29 906.83 L532.93 906.91 L533.57 906.98 L534.21 907.06 L534.85 907.13 L535.49 907.21 L536.14 907.28 L536.78 907.35 L537.42 907.42 L538.06 907.50 L538.70 907.57 L539.34 907.64 L539.99 907.71 L540.63 907.78 L541.27 907.85 L541.91 907.92 L542.55 907.99 L543.19 908.06 L543.83 908.13 L544.48 908.20 L545.12 908.27 L545.76 908.34 L546.40 908.41 L547.04 908.48 L547.68 908.54 L548.33 908.61 L548.97 908.68 L549.61 908.74 L550.25 908.81 L550.89 908.88 L551.53 908.94 L552.18 909.01 L552.82 909.07 L553.46 909.14 L554.10 909.20 L554.74 909.27 L555.38 909.33 L556.03 909.40 L556.67 909.46 L557.31 909.52 L557.95 909.59 L558.59 909.65 L559.23 909.71 L559.88 909.78 L560.52 909.84 L561.16 909.90 L561.80 909.96 L562.44 910.02 L563.08 910.08 L563.72 910.15 L564.37 910.21 L565.01 910.27 L565.65 910.33 L566.29 910.39 L566.93 910.45 L567.57 910.51 L568.22 910.56 L568.86 910.62 L569.50 910.68 L570.14 910.74 L570.78 910.80 L571.42 910.86 L572.07 910.91 L572.71 910.97 L573.35 911.03 L573.99 911.08 L574.63 911.14 L575.27 911.20 L575.92 911.25 L576.56 911.31 L577.20 911.36 L577.84 911.42 L578.48 911.48 L579.12 911.53 L579.77 911.58 L580.41 911.64 L581.05 911.69 L581.69 911.75 L582.33 911.80 L582.97 911.85 L583.61 911.91 L584.26 911.96 L584.90 912.01 L585.54 912.07 L586.18 912.12 L586.82 912.17 L587.46 912.22 L588.11 912.27 L588.75 912.33 L589.39 912.38 L590.03 912.43 L590.67 912.48 L591.31 912.53 L591.96 912.58 L592.60 912.63 L593.24 912.68 L593.88 912.73 L594.52 912.78 L595.16 912.83 L595.81 912.88 L596.45 912.93 L597.09 912.98 L597.73 913.02 L598.37 913.07 L599.01 913.12 L599.66 913.17 L600.30 913.22 L600.94 913.26 L601.58 913.31 L602.22 913.36 L602.86 913.40 L603.50 913.45 L604.15 913.50 L604.79 913.54 L605.43 913.59 L606.07 913.63 L606.71 913.68 L607.35 913.73 L608.00 913.77 L608.64 913.82 L609.28 913.86 L609.92 913.91 L610.56 913.95 L611.20 913.99 L611.85 914.04 L612.49 914.08 L613.13 914.13 L613.77 914.17 L614.41 914.21 L615.05 914.26 L615.70 914.30 L616.34 914.34 L616.98 914.38 L617.62 914.43 L618.26 914.47 L618.90 914.51 L619.55 914.55 L620.19 914.59 L620.83 914.64 L621.47 914.68 L622.11 914.72 L622.75 914.76 L623.39 914.80 L624.04 914.84 L624.68 914.88 L625.32 914.92 L625.96 914.96 L626.60 915.00 L627.24 915.04 L627.89 915.08 L628.53 915.12 L629.17 915.16 L629.81 915.20 L630.45 915.24 L631.09 915.28 L631.74 915.31 L632.38 915.35 L633.02 915.39 L633.66 915.43 L634.30 915.47 L634.94 915.50 L635.59 915.54 L636.23 915.58 L636.87 915.62 L637.51 915.65 L638.15 915.69 L638.79 915.73 L639.44 915.76 L640.08 915.80 L640.72 915.84 L641.36 915.87 L642.00 915.91 L642.64 915.94 L643.28 915.98 L643.93 916.02 L644.57 916.05 L645.21 916.09 L645.85 916.12 L646.49 916.16 L647.13 916.19 L647.78 916.23 L648.42 916.26 L649.06 916.29 L649.70 916.33 L650.34 916.36 L650.98 916.40 L651.63 916.43 L652.27 916.46 L652.91 916.50 L653.55 916.53 L654.19 916.56 L654.83 916.60 L655.48 916.63 L656.12 916.66 L656.76 916.69 L657.40 916.73 L658.04 916.76 L658.68 916.79 L659.33 916.82 L659.97 916.86 L660.61 916.89 L661.25 916.92" stroke="#000" stroke-width="1.30" fill="none" stroke-linejoin="round"/>
</g>
<rect x="93.02" y="635.92" width="9.36" height="9.36"/>
<rect x="129.48" y="945.72" width="9.36" height="9.36"/>
<rect x="159.32" y="1005.03" width="9.36" height="9.36"/>
<rect x="212.36" y="1013.72" width="9.36" height="9.36"/>
<rect x="358.22" y="1013.72" width="9.36" height="9.36"/>
<rect x="623.42" y="1013.72" width="9.36" height="9.36"/>
<path d="M97.70 634.78 L103.25 644.24 L92.15 644.24 Z"/>
<path d="M134.16 861.46 L139.72 870.92 L128.61 870.92 Z"/>
<path d="M164.00 967.24 L169.55 976.70 L158.45 976.70 Z"/>
<path d="M217.04 1001.24 L222.59 1010.71 L211.49 1010.71 Z"/>
<path d="M362.90 1012.58 L368.45 1022.04 L357.35 1022.04 Z"/>
<path d="M628.10 1012.58 L633.65 1022.04 L622.55 1022.04 Z"/>
<path d="M93.20 636.10 L102.20 645.10 M93.20 645.10 L102.20 636.10" stroke="#000" stroke-width="3.00" fill="none"/>
<path d="M129.66 741.88 L138.66 750.88 M129.66 750.88 L138.66 741.88" stroke="#000" stroke-width="3.00" fill="none"/>
<path d="M159.50 813.67 L168.50 822.67 M159.50 822.67 L168.50 813.67" stroke="#000" stroke-width="3.00" fill="none"/>
<path d="M212.54 919.45 L221.54 928.45 M212.54 928.45 L221.54 919.45" stroke="#000" stroke-width="3.00" fill="none"/>
<path d="M358.40 972.34 L367.40 981.34 M358.40 981.34 L367.40 972.34" stroke="#000" stroke-width="3.00" fill="none"/>
<path d="M623.60 1013.90 L632.60 1022.90 M623.60 1022.90 L632.60 1013.90" stroke="#000" stroke-width="3.00" fill="none"/>
<path d="M97.70 646.42 L103.25 636.96 L92.15 636.96 Z"/>
<path d="M134.16 721.98 L139.72 712.52 L128.61 712.52 Z"/>
<path d="M164.00 748.43 L169.55 738.97 L158.45 738.97 Z"/>
<path d="M217.04 797.54 L222.59 788.08 L211.49 788.08 Z"/>
<path d="M362.90 918.44 L368.45 908.98 L357.35 908.98 Z"/>
<path d="M628.10 963.78 L633.65 954.31 L622.55 954.31 Z"/>
<circle cx="97.70" cy="640.60" r="5.31"/>
<circle cx="134.16" cy="708.60" r="5.31"/>
<circle cx="164.00" cy="738.83" r="5.31"/>
<circle cx="217.04" cy="772.83" r="5.31"/>
<circle cx="362.90" cy="878.61" r="5.31"/>
<circle cx="628.10" cy="912.62" r="5.31"/>
<path d="M84.30 621.85 L84.30 1037.20 L661.35 1037.20" fill="none" stroke="#000" stroke-width="1.70" stroke-linecap="square" stroke-linejoin="miter"/>
<path d="M84.30 1018.40 H77.45 M84.30 942.84 H77.45 M84.30 867.28 H77.45 M84.30 791.72 H77.45 M84.30 716.16 H77.45 M84.30 640.60 H77.45 M97.70 1037.20 V1044.05 M230.30 1037.20 V1044.05 M362.90 1037.20 V1044.05 M495.50 1037.20 V1044.05 M628.10 1037.20 V1044.05" stroke="#000" stroke-width="1.70" fill="none"/>
<g font-family='"Liberation Sans", sans-serif' font-size="16.50" fill="#000">
<text x="67.40" y="1024.31" text-anchor="end" font-size="16.50">0</text>
<text x="67.40" y="948.75" text-anchor="end" font-size="16.50">20</text>
<text x="67.40" y="873.19" text-anchor="end" font-size="16.50">40</text>
<text x="67.40" y="797.63" text-anchor="end" font-size="16.50">60</text>
<text x="67.40" y="722.07" text-anchor="end" font-size="16.50">80</text>
<text x="67.40" y="646.51" text-anchor="end" font-size="16.50">100</text>
<text x="97.70" y="1067.31" text-anchor="middle">0</text>
<text x="230.30" y="1067.31" text-anchor="middle">2000</text>
<text x="362.90" y="1067.31" text-anchor="middle">4000</text>
<text x="495.50" y="1067.31" text-anchor="middle">6000</text>
<text x="628.10" y="1067.31" text-anchor="middle">8000</text>
</g>
<path d="M506.40 669.65 L521.20 669.65 M527.70 669.65 L542.50 669.65 M549.00 669.65 L563.80 669.65 M570.30 669.65 L585.10 669.65 M591.60 669.65 L592.70 669.65" stroke="#000" stroke-width="1.50" fill="none"/>
<rect x="552.20" y="663.30" width="10.40" height="10.40"/>
<text x="594.80" y="676.43" font-family='"Liberation Sans", sans-serif' font-size="23.00" fill="#000">1</text>
<path d="M504.70 696.70 L506.30 696.70 M511.10 696.70 L512.70 696.70 M517.50 696.70 L519.10 696.70 M523.90 696.70 L525.50 696.70 M530.30 696.70 L531.90 696.70 M536.70 696.70 L538.30 696.70 M543.10 696.70 L544.70 696.70 M549.50 696.70 L551.10 696.70 M555.90 696.70 L557.50 696.70 M562.30 696.70 L563.90 696.70 M568.70 696.70 L570.30 696.70 M575.10 696.70 L576.70 696.70 M581.50 696.70 L583.10 696.70" stroke="#000" stroke-width="1.60" fill="none"/>
<path d="M557.40 685.80 L563.50 696.20 L551.30 696.20 Z"/>
<text x="594.80" y="700.73" font-family='"Liberation Sans", sans-serif' font-size="23.00" fill="#000">7</text>
<path d="M506.40 725.80 L525.80 725.80 M529.90 725.80 L531.70 725.80 M538.10 725.80 L557.50 725.80 M561.60 725.80 L563.40 725.80 M569.80 725.80 L589.20 725.80" stroke="#000" stroke-width="1.50" fill="none"/>
<path d="M552.90 713.50 L561.90 722.50 M552.90 722.50 L561.90 713.50" stroke="#000" stroke-width="3.00" fill="none"/>
<text x="594.80" y="726.33" font-family='"Liberation Sans", sans-serif' font-size="23.00" fill="#000">15</text>
<path d="M510.00 748.10 L525.70 748.10 M530.70 748.10 L557.70 748.10 M576.00 748.10 L590.40 748.10" stroke="#000" stroke-width="1.50" fill="none"/>
<path d="M557.40 751.60 L563.50 741.20 L551.30 741.20 Z"/>
<text x="594.80" y="750.93" font-family='"Liberation Sans", sans-serif' font-size="23.00" fill="#000">30</text>
<path d="M506.40 768.30 L592.70 768.30" stroke="#000" stroke-width="1.50" fill="none"/>
<circle cx="557.40" cy="768.30" r="5.50"/>
<text x="594.80" y="775.63" font-family='"Liberation Sans", sans-serif' font-size="23.00" fill="#000">60</text>
<text x="372.30" y="1103.00" text-anchor="middle" font-family='"Liberation Sans", sans-serif' font-size="19.60" fill="#000">Dose (g a.i ha<tspan dy="-7.5" font-size="13.5">-1</tspan><tspan dy="7.5">)</tspan></text>
<text transform="translate(17.10 829.00) rotate(-90)" text-anchor="middle" font-family='"Liberation Sans", sans-serif' font-size="19.80" fill="#000">Biomass (%)</text>
<text class="t" x="372.10" y="1155.90" text-anchor="middle" font-family='"Liberation Serif", serif' font-size="21.40" fill="#000">Direct-dilling</text>
<clipPath id="c3"><rect x="84.60" y="1171.30" width="590.40" height="423.70"/></clipPath>
<g clip-path="url(#c3)">
<path d="M84.50 1190.79 L85.15 1190.79 L85.81 1190.79 L86.46 1190.79 L87.11 1190.79 L87.77 1190.79 L88.42 1190.79 L89.07 1190.79 L89.73 1190.79 L90.38 1190.79 L91.03 1190.79 L91.69 1190.79 L92.34 1190.79 L92.99 1190.79 L93.65 1190.79 L94.30 1190.79 L94.80 1190.79 M99.06 1191.62 L99.52 1192.43 L100.18 1194.24 L100.83 1196.74 L101.48 1199.93 L102.14 1203.78 L102.79 1208.27 L103.44 1213.36 L103.54 1214.19 M104.35 1221.39 L104.75 1225.15 L105.40 1231.75 L106.06 1238.74 L106.62 1245.09 M107.25 1252.35 L107.36 1253.69 L108.02 1261.54 L108.67 1269.55 L109.20 1276.13 M109.78 1283.40 L109.98 1285.90 L110.63 1294.14 L111.28 1302.37 L111.67 1307.19 M112.25 1314.46 L112.59 1318.67 L113.24 1326.67 L113.90 1334.55 L114.21 1338.24 M114.83 1345.50 L115.20 1349.83 L115.85 1357.21 L116.51 1364.40 L116.96 1369.23 M117.65 1376.47 L117.81 1378.18 L118.47 1384.76 L119.12 1391.13 L119.77 1397.29 L120.09 1400.13 M120.89 1407.34 L121.08 1408.99 L121.73 1414.53 L122.39 1419.86 L123.04 1425.01 L123.69 1429.96 L123.81 1430.84 M124.81 1437.98 L125.00 1439.30 L125.65 1443.71 L126.31 1447.95 L126.96 1452.02 L127.61 1455.94 L128.27 1459.71 L128.53 1461.16 M129.84 1468.16 L130.23 1470.15 L130.88 1473.36 L131.53 1476.45 L132.19 1479.42 L132.84 1482.27 L133.49 1485.02 L134.15 1487.66 L134.80 1490.20 L134.91 1490.62 M136.76 1497.27 L137.41 1499.45 L138.06 1501.55 L138.72 1503.57 L139.37 1505.52 L140.02 1507.40 L140.68 1509.21 L141.33 1510.96 L141.98 1512.65 L142.64 1514.27 L143.29 1515.84 L143.94 1517.35 L144.15 1517.82 M146.89 1523.56 L147.21 1524.18 L147.86 1525.42 L148.52 1526.61 L149.17 1527.76 L149.82 1528.87 L150.48 1529.95 L151.13 1531.00 L151.78 1532.01 L152.44 1532.99 L153.09 1533.94 L153.74 1534.86 L154.40 1535.75 L155.05 1536.61 L155.70 1537.45 L156.35 1538.27 L157.01 1539.06 L157.52 1539.66 M161.22 1543.62 L161.58 1543.97 L162.23 1544.60 L162.89 1545.21 L163.54 1545.80 L164.19 1546.37 L164.85 1546.93 L165.50 1547.48 L166.15 1548.01 L166.81 1548.52 L167.46 1549.02 L168.11 1549.51 L168.77 1549.99 L169.42 1550.45 L170.07 1550.91 L170.73 1551.35 L171.38 1551.78 L172.03 1552.19 L172.69 1552.60 L173.34 1553.00 L173.99 1553.39 L174.30 1553.57 M178.49 1555.82 L178.56 1555.86 L179.22 1556.18 L179.87 1556.50 L180.52 1556.80 L181.18 1557.10 L181.83 1557.40 L182.48 1557.68 L183.14 1557.96 L183.79 1558.23 L184.44 1558.50 L185.10 1558.76 L185.75 1559.02 L186.40 1559.27 L187.06 1559.52 L187.71 1559.76 L188.36 1559.99 L189.02 1560.22 L189.67 1560.45 L190.32 1560.67 L190.98 1560.88 L191.63 1561.09 L192.28 1561.30 L192.49 1561.37 M196.82 1562.63 L196.85 1562.64 L197.51 1562.82 L198.16 1562.99 L198.81 1563.16 L199.47 1563.33 L200.12 1563.49 L200.77 1563.65 L201.43 1563.81 L202.08 1563.96 L202.73 1564.11 L203.39 1564.26 L204.04 1564.41 L204.69 1564.55 L205.35 1564.69 L206.00 1564.83 L206.65 1564.97 L207.31 1565.10 L207.96 1565.23 L208.61 1565.36 L209.27 1565.49 L209.92 1565.61 L210.57 1565.73 L211.09 1565.83 M215.47 1566.58 L215.80 1566.64 L216.45 1566.74 L217.10 1566.85 L217.76 1566.95 L218.41 1567.05 L219.06 1567.14 L219.72 1567.24 L220.37 1567.34 L221.02 1567.43 L221.68 1567.52 L222.33 1567.61 L222.98 1567.70 L223.64 1567.79 L224.29 1567.88 L224.94 1567.96 L225.60 1568.04 L226.25 1568.13 L226.90 1568.21 L227.56 1568.29 L228.21 1568.37 L228.86 1568.44 L229.52 1568.52 L229.82 1568.55 M234.21 1569.04 L234.74 1569.09 L235.40 1569.16 L236.05 1569.22 L236.70 1569.29 L237.35 1569.35 L238.01 1569.42 L238.66 1569.48 L239.31 1569.54 L239.97 1569.60 L240.62 1569.66 L241.27 1569.72 L241.93 1569.78 L242.58 1569.83 L243.23 1569.89 L243.89 1569.95 L244.54 1570.00 L245.19 1570.06 L245.85 1570.11 L246.50 1570.16 L247.15 1570.21 L247.81 1570.27 L248.46 1570.32 L248.59 1570.33 M252.99 1570.65 L253.03 1570.65 L253.69 1570.70 L254.34 1570.74 L254.99 1570.79 L255.65 1570.83 L256.30 1570.88 L256.95 1570.92 L257.60 1570.96 L258.26 1571.00 L258.91 1571.04 L259.56 1571.08 L260.22 1571.12 L260.87 1571.16 L261.52 1571.20 L262.18 1571.24 L262.83 1571.28 L263.48 1571.32 L264.14 1571.36 L264.79 1571.39 L265.44 1571.43 L266.10 1571.47 L266.75 1571.50 L267.38 1571.54 M271.77 1571.76 L271.98 1571.77 L272.63 1571.80 L273.28 1571.84 L273.94 1571.87 L274.59 1571.90 L275.24 1571.93 L275.90 1571.96 L276.55 1571.99 L277.20 1572.02 L277.85 1572.05 L278.51 1572.08 L279.16 1572.11 L279.81 1572.13 L280.47 1572.16 L281.12 1572.19 L281.77 1572.22 L282.43 1572.25 L283.08 1572.27 L283.73 1572.30 L284.39 1572.33 L285.04 1572.35 L285.69 1572.38 L286.17 1572.40 M290.57 1572.56 L290.92 1572.57 L291.57 1572.60 L292.23 1572.62 L292.88 1572.64 L293.53 1572.67 L294.19 1572.69 L294.84 1572.71 L295.49 1572.73 L296.15 1572.75 L296.80 1572.78 L297.45 1572.80 L298.10 1572.82 L298.76 1572.84 L299.41 1572.86 L300.06 1572.88 L300.72 1572.90 L301.37 1572.92 L302.02 1572.94 L302.68 1572.96 L303.33 1572.98 L303.98 1573.00 L304.64 1573.02 L304.97 1573.03 M309.36 1573.15 L309.86 1573.17 L310.52 1573.18 L311.17 1573.20 L311.82 1573.22 L312.48 1573.23 L313.13 1573.25 L313.78 1573.27 L314.44 1573.28 L315.09 1573.30 L315.74 1573.32 L316.40 1573.33 L317.05 1573.35 L317.70 1573.37 L318.35 1573.38 L319.01 1573.40 L319.66 1573.41 L320.31 1573.43 L320.97 1573.44 L321.62 1573.46 L322.27 1573.47 L322.93 1573.49 L323.58 1573.50 L323.76 1573.51 M328.16 1573.60 L328.81 1573.61 L329.46 1573.63 L330.11 1573.64 L330.77 1573.65 L331.42 1573.67 L332.07 1573.68 L332.73 1573.69 L333.38 1573.71 L334.03 1573.72 L334.69 1573.73 L335.34 1573.74 L335.99 1573.76 L336.65 1573.77 L337.30 1573.78 L337.95 1573.79 L338.60 1573.80 L339.26 1573.82 L339.91 1573.83 L340.56 1573.84 L341.22 1573.85 L341.87 1573.86 L342.52 1573.87 L342.56 1573.88 M346.96 1573.95 L347.10 1573.95 L347.75 1573.96 L348.40 1573.97 L349.06 1573.98 L349.71 1573.99 L350.36 1574.00 L351.02 1574.01 L351.67 1574.02 L352.32 1574.03 L352.98 1574.04 L353.63 1574.05 L354.28 1574.06 L354.94 1574.07 L355.59 1574.08 L356.24 1574.09 L356.90 1574.10 L357.55 1574.11 L358.20 1574.12 L358.85 1574.13 L359.51 1574.14 L360.16 1574.15 L360.81 1574.16 L361.36 1574.17 M365.76 1574.23 L366.04 1574.23 L366.69 1574.24 L367.35 1574.25 L368.00 1574.25 L368.65 1574.26 L369.31 1574.27 L369.96 1574.28 L370.61 1574.29 L371.27 1574.30 L371.92 1574.30 L372.57 1574.31 L373.23 1574.32 L373.88 1574.33 L374.53 1574.34 L375.19 1574.34 L375.84 1574.35 L376.49 1574.36 L377.15 1574.37 L377.80 1574.37 L378.45 1574.38 L379.10 1574.39 L379.76 1574.40 L380.16 1574.40 M384.56 1574.45 L384.98 1574.45 L385.64 1574.46 L386.29 1574.47 L386.94 1574.47 L387.60 1574.48 L388.25 1574.49 L388.90 1574.49 L389.56 1574.50 L390.21 1574.51 L390.86 1574.51 L391.52 1574.52 L392.17 1574.53 L392.82 1574.53 L393.48 1574.54 L394.13 1574.54 L394.78 1574.55 L395.44 1574.56 L396.09 1574.56 L396.74 1574.57 L397.40 1574.58 L398.05 1574.58 L398.70 1574.59 L398.96 1574.59 M403.36 1574.63 L403.93 1574.63 L404.58 1574.64 L405.23 1574.65 L405.89 1574.65 L406.54 1574.66 L407.19 1574.66 L407.85 1574.67 L408.50 1574.67 L409.15 1574.68 L409.81 1574.68 L410.46 1574.69 L411.11 1574.69 L411.77 1574.70 L412.42 1574.71 L413.07 1574.71 L413.73 1574.72 L414.38 1574.72 L415.03 1574.73 L415.69 1574.73 L416.34 1574.74 L416.99 1574.74 L417.65 1574.75 L417.76 1574.75 M422.16 1574.78 L422.22 1574.78 L422.87 1574.78 L423.52 1574.79 L424.18 1574.79 L424.83 1574.80 L425.48 1574.80 L426.14 1574.81 L426.79 1574.81 L427.44 1574.82 L428.10 1574.82 L428.75 1574.83 L429.40 1574.83 L430.06 1574.83 L430.71 1574.84 L431.36 1574.84 L432.02 1574.85 L432.67 1574.85 L433.32 1574.86 L433.98 1574.86 L434.63 1574.86 L435.28 1574.87 L435.94 1574.87 L436.56 1574.88 M440.96 1574.90 L441.16 1574.91 L441.81 1574.91 L442.47 1574.91 L443.12 1574.92 L443.77 1574.92 L444.43 1574.93 L445.08 1574.93 L445.73 1574.93 L446.39 1574.94 L447.04 1574.94 L447.69 1574.94 L448.35 1574.95 L449.00 1574.95 L449.65 1574.96 L450.31 1574.96 L450.96 1574.96 L451.61 1574.97 L452.27 1574.97 L452.92 1574.97 L453.57 1574.98 L454.23 1574.98 L454.88 1574.98 L455.36 1574.99 M459.76 1575.01 L460.10 1575.01 L460.76 1575.02 L461.41 1575.02 L462.06 1575.02 L462.72 1575.03 L463.37 1575.03 L464.02 1575.03 L464.68 1575.04 L465.33 1575.04 L465.98 1575.04 L466.64 1575.04 L467.29 1575.05 L467.94 1575.05 L468.60 1575.05 L469.25 1575.06 L469.90 1575.06 L470.56 1575.06 L471.21 1575.07 L471.86 1575.07 L472.52 1575.07 L473.17 1575.08 L473.82 1575.08 L474.16 1575.08 M478.56 1575.10 L479.05 1575.10 L479.70 1575.11 L480.35 1575.11 L481.01 1575.11 L481.66 1575.11 L482.31 1575.12 L482.97 1575.12 L483.62 1575.12 L484.27 1575.12 L484.93 1575.13 L485.58 1575.13 L486.23 1575.13 L486.89 1575.14 L487.54 1575.14 L488.19 1575.14 L488.85 1575.14 L489.50 1575.15 L490.15 1575.15 L490.81 1575.15 L491.46 1575.15 L492.11 1575.16 L492.77 1575.16 L492.96 1575.16 M497.36 1575.18 L497.99 1575.18 L498.65 1575.18 L499.30 1575.18 L499.95 1575.19 L500.60 1575.19 L501.26 1575.19 L501.91 1575.19 L502.56 1575.20 L503.22 1575.20 L503.87 1575.20 L504.52 1575.20 L505.18 1575.21 L505.83 1575.21 L506.48 1575.21 L507.14 1575.21 L507.79 1575.22 L508.44 1575.22 L509.10 1575.22 L509.75 1575.22 L510.40 1575.22 L511.06 1575.23 L511.71 1575.23 L511.76 1575.23 M516.16 1575.24 L516.28 1575.24 L516.94 1575.25 L517.59 1575.25 L518.24 1575.25 L518.90 1575.25 L519.55 1575.25 L520.20 1575.26 L520.85 1575.26 L521.51 1575.26 L522.16 1575.26 L522.81 1575.27 L523.47 1575.27 L524.12 1575.27 L524.77 1575.27 L525.43 1575.27 L526.08 1575.28 L526.73 1575.28 L527.39 1575.28 L528.04 1575.28 L528.69 1575.28 L529.35 1575.29 L530.00 1575.29 L530.56 1575.29 M534.96 1575.30 L535.23 1575.30 L535.88 1575.30 L536.53 1575.31 L537.19 1575.31 L537.84 1575.31 L538.49 1575.31 L539.15 1575.31 L539.80 1575.32 L540.45 1575.32 L541.10 1575.32 L541.76 1575.32 L542.41 1575.32 L543.06 1575.32 L543.72 1575.33 L544.37 1575.33 L545.02 1575.33 L545.68 1575.33 L546.33 1575.33 L546.98 1575.34 L547.64 1575.34 L548.29 1575.34 L548.94 1575.34 L549.36 1575.34 M553.76 1575.35 L554.17 1575.35 L554.82 1575.36 L555.48 1575.36 L556.13 1575.36 L556.78 1575.36 L557.44 1575.36 L558.09 1575.36 L558.74 1575.37 L559.40 1575.37 L560.05 1575.37 L560.70 1575.37 L561.35 1575.37 L562.01 1575.37 L562.66 1575.37 L563.31 1575.38 L563.97 1575.38 L564.62 1575.38 L565.27 1575.38 L565.93 1575.38 L566.58 1575.38 L567.23 1575.39 L567.89 1575.39 L568.16 1575.39 M572.56 1575.40 L573.11 1575.40 L573.77 1575.40 L574.42 1575.40 L575.07 1575.40 L575.73 1575.40 L576.38 1575.41 L577.03 1575.41 L577.69 1575.41 L578.34 1575.41 L578.99 1575.41 L579.65 1575.41 L580.30 1575.41 L580.95 1575.42 L581.60 1575.42 L582.26 1575.42 L582.91 1575.42 L583.56 1575.42 L584.22 1575.42 L584.87 1575.42 L585.52 1575.43 L586.18 1575.43 L586.83 1575.43 L586.96 1575.43 M591.36 1575.44 L591.40 1575.44 L592.06 1575.44 L592.71 1575.44 L593.36 1575.44 L594.02 1575.44 L594.67 1575.44 L595.32 1575.44 L595.98 1575.45 L596.63 1575.45 L597.28 1575.45 L597.94 1575.45 L598.59 1575.45 L599.24 1575.45 L599.90 1575.45 L600.55 1575.45 L601.20 1575.46 L601.85 1575.46 L602.51 1575.46 L603.16 1575.46 L603.81 1575.46 L604.47 1575.46 L605.12 1575.46 L605.76 1575.46 M610.16 1575.47 L610.35 1575.47 L611.00 1575.47 L611.65 1575.47 L612.31 1575.48 L612.96 1575.48 L613.61 1575.48 L614.27 1575.48 L614.92 1575.48 L615.57 1575.48 L616.23 1575.48 L616.88 1575.48 L617.53 1575.48 L618.19 1575.49 L618.84 1575.49 L619.49 1575.49 L620.15 1575.49 L620.80 1575.49 L621.45 1575.49 L622.10 1575.49 L622.76 1575.49 L623.41 1575.49 L624.06 1575.50 L624.56 1575.50 M628.96 1575.50 L629.29 1575.50 L629.94 1575.50 L630.60 1575.51 L631.25 1575.51 L631.90 1575.51 L632.56 1575.51 L633.21 1575.51 L633.86 1575.51 L634.52 1575.51 L635.17 1575.51 L635.82 1575.51 L636.48 1575.51 L637.13 1575.52 L637.78 1575.52 L638.44 1575.52 L639.09 1575.52 L639.74 1575.52 L640.40 1575.52 L641.05 1575.52 L641.70 1575.52 L642.35 1575.52 L643.01 1575.52 L643.36 1575.52 M647.76 1575.53 L648.23 1575.53 L648.89 1575.53 L649.54 1575.53 L650.19 1575.53 L650.85 1575.54 L651.50 1575.54 L652.15 1575.54 L652.81 1575.54 L653.46 1575.54 L654.11 1575.54 L654.77 1575.54 L655.42 1575.54 L656.07 1575.54 L656.73 1575.54 L657.38 1575.54 L658.03 1575.55 L658.69 1575.55 L659.34 1575.55 L659.99 1575.55 L660.65 1575.55 L661.30 1575.55 L661.95 1575.55 L662.16 1575.55 M666.56 1575.56 L667.18 1575.56 L667.83 1575.56 L668.48 1575.56 L669.14 1575.56 L669.79 1575.56 L670.44 1575.56 L671.10 1575.56 L671.75 1575.56" stroke="#000" stroke-width="1.30" fill="none" stroke-linejoin="round"/>
<path d="M84.60 1190.79 H100.70" stroke="#000" stroke-width="1.3" fill="none"/>
<path d="M84.50 1190.24 L85.15 1190.24 L85.75 1190.24 M91.00 1190.24 L91.03 1190.24 L91.69 1190.24 L92.25 1190.24 M97.50 1190.24 L97.56 1190.24 L98.22 1190.25 L98.72 1190.42 M101.77 1194.55 L102.14 1195.39 L102.26 1195.71 M103.91 1200.69 L104.10 1201.34 L104.24 1201.89 M105.52 1206.98 L105.80 1208.20 M106.90 1213.34 L107.14 1214.56 M108.13 1219.72 L108.35 1220.95 M109.26 1226.12 L109.32 1226.46 L109.47 1227.35 M110.33 1232.53 L110.53 1233.77 M111.35 1238.95 L111.54 1240.19 M112.32 1245.38 L112.51 1246.61 M113.28 1251.81 L113.46 1253.04 M114.20 1258.24 L114.38 1259.48 M115.12 1264.68 L115.20 1265.26 L115.29 1265.91 M116.02 1271.11 L116.19 1272.35 M116.91 1277.55 L117.09 1278.79 M117.80 1283.99 L117.81 1284.06 L117.98 1285.23 M118.69 1290.43 L118.86 1291.67 M119.58 1296.87 L119.75 1298.11 M120.47 1303.31 L120.65 1304.54 M121.37 1309.74 L121.55 1310.98 M122.28 1316.18 L122.39 1316.94 L122.46 1317.42 M123.20 1322.62 L123.37 1323.85 M124.12 1329.05 L124.30 1330.29 M125.07 1335.48 L125.25 1336.72 M126.03 1341.91 L126.21 1343.15 M127.00 1348.34 L127.19 1349.57 M128.00 1354.76 L128.20 1355.99 M129.02 1361.18 L129.22 1362.41 M130.07 1367.59 L130.23 1368.53 L130.28 1368.83 M131.15 1374.00 L131.36 1375.23 M132.26 1380.41 L132.47 1381.64 M133.40 1386.81 L133.49 1387.33 L133.62 1388.04 M134.58 1393.20 L134.80 1394.36 L134.81 1394.43 M135.80 1399.58 L136.04 1400.81 M137.07 1405.96 L137.32 1407.18 M138.39 1412.32 L138.65 1413.54 M139.77 1418.67 L140.02 1419.82 L140.04 1419.89 M141.21 1425.01 L141.33 1425.54 L141.49 1426.23 M142.72 1431.33 L143.02 1432.55 M144.30 1437.64 L144.60 1438.78 L144.61 1438.85 M145.97 1443.92 L146.30 1445.13 M147.73 1450.18 L147.86 1450.64 L148.08 1451.38 M149.60 1456.40 L149.82 1457.14 L149.97 1457.60 M151.58 1462.60 L151.78 1463.22 L151.97 1463.78 M153.68 1468.74 L153.74 1468.91 L154.11 1469.92 M155.94 1474.84 L156.35 1475.92 L156.39 1476.01 M158.35 1480.88 L158.84 1482.03 M160.94 1486.84 L161.47 1487.97 M163.74 1492.70 L164.19 1493.62 L164.30 1493.82 M166.75 1498.46 L166.81 1498.57 L167.35 1499.56 M170.00 1504.09 L170.07 1504.21 L170.66 1505.16 M173.52 1509.56 L173.99 1510.25 L174.23 1510.59 M177.31 1514.83 L177.91 1515.61 L178.08 1515.82 M181.41 1519.88 L181.83 1520.37 L182.23 1520.82 M185.80 1524.67 L186.40 1525.29 L186.68 1525.56 M190.49 1529.17 L190.98 1529.60 L191.42 1530.00 M195.46 1533.35 L195.55 1533.42 L196.20 1533.92 L196.45 1534.12 M200.70 1537.20 L200.77 1537.25 L201.43 1537.69 L201.74 1537.90 M206.18 1540.70 L206.65 1540.99 L207.25 1541.34 M211.85 1543.87 L211.88 1543.89 L212.53 1544.23 L212.96 1544.44 M217.69 1546.72 L217.76 1546.75 L218.41 1547.05 L218.83 1547.23 M223.67 1549.27 L224.29 1549.52 L224.83 1549.73 M229.76 1551.55 L230.17 1551.69 L230.82 1551.92 L230.94 1551.96 M235.93 1553.58 L236.05 1553.61 L236.70 1553.81 L237.13 1553.94 M242.17 1555.39 L242.58 1555.50 L243.23 1555.67 L243.38 1555.71 M248.47 1557.00 L249.11 1557.16 L249.68 1557.29 M254.81 1558.45 L254.99 1558.49 L255.65 1558.63 L256.03 1558.71 M261.18 1559.74 L261.52 1559.81 L262.18 1559.93 L262.40 1559.98 M267.57 1560.90 L268.06 1560.99 L268.71 1561.10 L268.80 1561.11 M273.99 1561.95 L274.59 1562.04 L275.22 1562.14 M280.42 1562.89 L280.47 1562.90 L281.12 1562.99 L281.66 1563.06 M286.86 1563.75 L287.00 1563.77 L287.65 1563.85 L288.10 1563.90 M293.31 1564.52 L293.53 1564.55 L294.19 1564.62 L294.56 1564.66 M299.78 1565.23 L300.06 1565.26 L300.72 1565.32 L301.02 1565.36 M306.24 1565.87 L306.60 1565.90 L307.25 1565.96 L307.49 1565.99 M312.72 1566.46 L313.13 1566.49 L313.78 1566.55 L313.96 1566.56 M319.20 1567.00 L319.66 1567.03 L320.31 1567.08 L320.44 1567.09 M325.68 1567.49 L326.19 1567.53 L326.85 1567.57 L326.92 1567.58 M332.16 1567.94 L332.73 1567.98 L333.38 1568.03 L333.41 1568.03 M338.65 1568.36 L339.26 1568.40 L339.89 1568.44 M345.14 1568.75 L345.14 1568.75 L345.79 1568.79 L346.38 1568.82 M351.63 1569.11 L351.67 1569.11 L352.32 1569.15 L352.87 1569.18 M358.12 1569.44 L358.20 1569.45 L358.85 1569.48 L359.37 1569.50 M364.61 1569.75 L364.73 1569.76 L365.39 1569.79 L365.86 1569.81 M371.10 1570.04 L371.27 1570.05 L371.92 1570.07 L372.35 1570.09 M377.60 1570.31 L377.80 1570.32 L378.45 1570.34 L378.85 1570.36 M384.09 1570.56 L384.33 1570.57 L384.98 1570.59 L385.34 1570.60 M390.59 1570.79 L390.86 1570.80 L391.52 1570.82 L391.84 1570.84 M397.08 1571.01 L397.40 1571.02 L398.05 1571.04 L398.33 1571.05 M403.58 1571.22 L403.93 1571.23 L404.58 1571.25 L404.83 1571.25 M410.08 1571.41 L410.46 1571.42 L411.11 1571.44 L411.33 1571.45 M416.58 1571.59 L416.99 1571.60 L417.65 1571.62 L417.83 1571.62 M423.07 1571.76 L423.52 1571.77 L424.18 1571.79 L424.32 1571.79 M429.57 1571.92 L430.06 1571.93 L430.71 1571.95 L430.82 1571.95 M436.07 1572.07 L436.59 1572.09 L437.24 1572.10 L437.32 1572.10 M442.57 1572.22 L443.12 1572.23 L443.77 1572.24 L443.82 1572.24 M449.07 1572.35 L449.65 1572.36 L450.31 1572.38 L450.32 1572.38 M455.57 1572.48 L456.19 1572.49 L456.82 1572.50 M462.06 1572.60 L462.72 1572.61 L463.31 1572.62 M468.56 1572.72 L468.60 1572.72 L469.25 1572.73 L469.81 1572.74 M475.06 1572.83 L475.13 1572.83 L475.78 1572.84 L476.31 1572.85 M481.56 1572.93 L481.66 1572.93 L482.31 1572.94 L482.81 1572.95 M488.06 1573.03 L488.19 1573.03 L488.85 1573.04 L489.31 1573.05 M494.56 1573.12 L494.73 1573.12 L495.38 1573.13 L495.81 1573.14 M501.06 1573.21 L501.26 1573.21 L501.91 1573.22 L502.31 1573.23 M507.56 1573.30 L507.79 1573.30 L508.44 1573.31 L508.81 1573.31 M514.06 1573.38 L514.32 1573.38 L514.98 1573.39 L515.31 1573.39 M520.56 1573.45 L520.85 1573.46 L521.51 1573.47 L521.81 1573.47 M527.06 1573.53 L527.39 1573.53 L528.04 1573.54 L528.31 1573.54 M533.56 1573.60 L533.92 1573.60 L534.57 1573.61 L534.81 1573.61 M540.06 1573.67 L540.45 1573.67 L541.10 1573.68 L541.31 1573.68 M546.56 1573.73 L546.98 1573.74 L547.64 1573.74 L547.81 1573.74 M553.06 1573.79 L553.52 1573.80 L554.17 1573.80 L554.31 1573.80 M559.56 1573.85 L560.05 1573.86 L560.70 1573.86 L560.81 1573.86 M566.06 1573.91 L566.58 1573.91 L567.23 1573.92 L567.31 1573.92 M572.56 1573.96 L573.11 1573.97 L573.77 1573.97 L573.81 1573.97 M579.06 1574.02 L579.65 1574.02 L580.30 1574.03 L580.31 1574.03 M585.56 1574.07 L586.18 1574.07 L586.81 1574.08 M592.06 1574.11 L592.06 1574.11 L592.71 1574.12 L593.31 1574.12 M598.56 1574.16 L598.59 1574.16 L599.24 1574.17 L599.81 1574.17 M605.06 1574.21 L605.12 1574.21 L605.77 1574.21 L606.31 1574.21 M611.55 1574.25 L611.65 1574.25 L612.31 1574.25 L612.80 1574.26 M618.05 1574.29 L618.19 1574.29 L618.84 1574.29 L619.30 1574.30 M624.55 1574.33 L624.72 1574.33 L625.37 1574.33 L625.80 1574.34 M631.05 1574.37 L631.25 1574.37 L631.90 1574.37 L632.30 1574.37 M637.55 1574.40 L637.78 1574.41 L638.44 1574.41 L638.80 1574.41 M644.05 1574.44 L644.31 1574.44 L644.97 1574.45 L645.30 1574.45 M650.55 1574.47 L650.85 1574.48 L651.50 1574.48 L651.80 1574.48 M657.05 1574.51 L657.38 1574.51 L658.03 1574.51 L658.30 1574.51 M663.55 1574.54 L663.91 1574.54 L664.56 1574.54 L664.80 1574.55 M670.05 1574.57 L670.44 1574.57 L671.10 1574.58 L671.30 1574.58" stroke="#000" stroke-width="1.25" fill="none" stroke-linejoin="round"/>
<path d="M86.50 1191.11 L87.11 1191.11 L87.77 1191.11 L88.42 1191.11 L89.07 1191.11 L89.73 1191.11 L90.38 1191.11 L91.03 1191.11 L91.69 1191.11 L92.34 1191.11 L92.99 1191.11 L93.65 1191.11 L94.30 1191.11 L94.95 1191.11 L95.60 1191.11 L96.26 1191.11 L96.91 1191.11 L97.56 1191.11 L98.22 1191.27 L98.87 1192.16 L99.52 1193.35 L100.18 1194.73 L100.83 1196.26 L101.48 1197.90 L101.96 1199.17 M104.35 1206.11 L104.75 1207.34 L105.10 1208.46 M107.43 1216.03 L108.02 1218.02 L108.67 1220.25 L109.32 1222.49 L109.98 1224.75 L110.63 1227.03 L111.28 1229.32 L111.94 1231.62 L112.59 1233.92 L113.24 1236.23 L113.90 1238.55 L114.55 1240.87 L115.09 1242.80 M117.14 1250.04 L117.16 1250.13 L117.81 1252.43 L117.82 1252.45 M120.01 1260.13 L120.43 1261.59 L121.08 1263.86 L121.73 1266.12 L122.39 1268.36 L123.04 1270.60 L123.69 1272.82 L124.35 1275.04 L125.00 1277.23 L125.65 1279.42 L126.31 1281.59 L126.96 1283.75 L127.61 1285.89 L127.87 1286.74 M130.08 1293.85 L130.23 1294.31 L130.82 1296.21 M133.23 1303.70 L133.49 1304.49 L134.15 1306.48 L134.80 1308.45 L135.45 1310.40 L136.10 1312.34 L136.76 1314.26 L137.41 1316.16 L138.06 1318.05 L138.72 1319.92 L139.37 1321.78 L140.02 1323.62 L140.68 1325.44 L141.33 1327.25 L141.98 1329.03 L142.12 1329.40 M144.66 1336.19 L145.25 1337.74 L145.52 1338.44 M148.32 1345.55 L148.52 1346.04 L149.17 1347.66 L149.82 1349.26 L150.48 1350.84 L151.13 1352.41 L151.78 1353.96 L152.44 1355.50 L153.09 1357.03 L153.74 1358.54 L154.40 1360.03 L155.05 1361.51 L155.70 1362.98 L156.35 1364.43 L157.01 1365.87 L157.66 1367.29 L158.31 1368.70 L158.73 1369.60 M161.73 1375.85 L162.23 1376.88 L162.74 1377.91 M166.04 1384.39 L166.15 1384.60 L166.81 1385.85 L167.46 1387.08 L168.11 1388.30 L168.77 1389.51 L169.42 1390.70 L170.07 1391.89 L170.73 1393.06 L171.38 1394.23 L172.03 1395.38 L172.69 1396.52 L173.34 1397.65 L173.99 1398.77 L174.65 1399.87 L175.30 1400.97 L175.95 1402.06 L176.60 1403.14 L177.26 1404.20 L177.91 1405.26 L178.30 1405.89 M181.80 1411.36 L181.83 1411.40 L182.48 1412.39 L182.99 1413.15 M186.83 1418.74 L187.06 1419.07 L187.71 1419.99 L188.36 1420.90 L189.02 1421.80 L189.67 1422.70 L190.32 1423.58 L190.98 1424.46 L191.63 1425.33 L192.28 1426.19 L192.94 1427.05 L193.59 1427.90 L194.24 1428.74 L194.90 1429.57 L195.55 1430.39 L196.20 1431.21 L196.85 1432.02 L197.51 1432.83 L198.16 1433.62 L198.81 1434.41 L199.47 1435.19 L200.12 1435.97 L200.77 1436.74 L200.90 1436.89 M204.86 1441.40 L205.35 1441.93 L206.00 1442.65 L206.20 1442.87 M210.50 1447.43 L210.57 1447.50 L211.23 1448.17 L211.88 1448.84 L212.53 1449.50 L213.19 1450.15 L213.84 1450.80 L214.49 1451.44 L215.15 1452.08 L215.80 1452.71 L216.45 1453.34 L217.10 1453.96 L217.76 1454.58 L218.41 1455.19 L219.06 1455.79 L219.72 1456.40 L220.37 1456.99 L221.02 1457.58 L221.68 1458.17 L222.33 1458.75 L222.98 1459.33 L223.64 1459.91 L224.29 1460.47 L224.94 1461.04 L225.60 1461.60 L226.02 1461.96 M230.32 1465.51 L230.82 1465.92 L231.48 1466.44 L231.76 1466.67 M236.39 1470.24 L236.70 1470.47 L237.35 1470.96 L238.01 1471.44 L238.66 1471.92 L239.31 1472.40 L239.97 1472.87 L240.62 1473.34 L241.27 1473.80 L241.93 1474.27 L242.58 1474.72 L243.23 1475.18 L243.89 1475.63 L244.54 1476.08 L245.19 1476.52 L245.85 1476.97 L246.50 1477.40 L247.15 1477.84 L247.81 1478.27 L248.46 1478.70 L249.11 1479.13 L249.77 1479.55 L250.42 1479.97 L251.07 1480.39 L251.73 1480.80 L252.38 1481.21 L252.85 1481.51 M257.36 1484.25 L257.60 1484.39 L258.26 1484.78 L258.87 1485.14 M263.69 1487.89 L264.14 1488.13 L264.79 1488.49 L265.44 1488.85 L266.10 1489.20 L266.75 1489.56 L267.40 1489.91 L268.06 1490.25 L268.71 1490.60 L269.36 1490.94 L270.02 1491.28 L270.67 1491.62 L271.32 1491.96 L271.98 1492.29 L272.63 1492.63 L273.28 1492.96 L273.94 1493.28 L274.59 1493.61 L275.24 1493.93 L275.90 1494.25 L276.55 1494.57 L277.20 1494.89 L277.85 1495.20 L278.51 1495.52 L279.16 1495.83 L279.81 1496.14 L280.47 1496.44 L280.71 1496.56 M285.34 1498.67 L285.69 1498.83 L286.35 1499.12 L286.89 1499.36 M291.83 1501.48 L292.23 1501.65 L292.88 1501.92 L293.53 1502.19 L294.19 1502.46 L294.84 1502.73 L295.49 1502.99 L296.15 1503.26 L296.80 1503.52 L297.45 1503.78 L298.10 1504.04 L298.76 1504.30 L299.41 1504.55 L300.06 1504.81 L300.72 1505.06 L301.37 1505.31 L302.02 1505.56 L302.68 1505.81 L303.33 1506.06 L303.98 1506.30 L304.64 1506.55 L305.29 1506.79 L305.94 1507.03 L306.60 1507.27 L307.25 1507.51 L307.90 1507.75 L308.56 1507.99 L309.16 1508.20 M313.86 1509.85 L314.44 1510.05 L315.09 1510.27 L315.43 1510.39 M320.43 1512.04 L320.97 1512.22 L321.62 1512.43 L322.27 1512.64 L322.93 1512.85 L323.58 1513.05 L324.23 1513.26 L324.89 1513.46 L325.54 1513.67 L326.19 1513.87 L326.85 1514.07 L327.50 1514.27 L328.15 1514.47 L328.81 1514.67 L329.46 1514.86 L330.11 1515.06 L330.77 1515.26 L331.42 1515.45 L332.07 1515.64 L332.73 1515.83 L333.38 1516.02 L334.03 1516.21 L334.69 1516.40 L335.34 1516.59 L335.99 1516.78 L336.65 1516.96 L337.30 1517.15 L337.95 1517.33 M342.68 1518.63 L343.18 1518.77 L343.83 1518.94 L344.26 1519.06 M349.30 1520.37 L349.71 1520.48 L350.36 1520.65 L351.02 1520.81 L351.67 1520.98 L352.32 1521.14 L352.98 1521.30 L353.63 1521.46 L354.28 1521.63 L354.94 1521.79 L355.59 1521.95 L356.24 1522.11 L356.90 1522.26 L357.55 1522.42 L358.20 1522.58 L358.85 1522.73 L359.51 1522.89 L360.16 1523.04 L360.81 1523.20 L361.47 1523.35 L362.12 1523.50 L362.77 1523.65 L363.43 1523.80 L364.08 1523.95 L364.73 1524.10 L365.39 1524.25 L366.04 1524.40 L366.69 1524.55 L366.92 1524.60 M371.68 1525.64 L371.92 1525.70 L372.57 1525.84 L373.23 1525.98 L373.26 1525.99 M378.32 1527.05 L378.45 1527.07 L379.10 1527.21 L379.76 1527.34 L380.41 1527.48 L381.06 1527.61 L381.72 1527.74 L382.37 1527.87 L383.02 1528.00 L383.68 1528.13 L384.33 1528.26 L384.98 1528.39 L385.64 1528.52 L386.29 1528.65 L386.94 1528.77 L387.60 1528.90 L388.25 1529.02 L388.90 1529.15 L389.56 1529.27 L390.21 1529.40 L390.86 1529.52 L391.52 1529.65 L392.17 1529.77 L392.82 1529.89 L393.48 1530.01 L394.13 1530.13 L394.78 1530.25 L395.44 1530.37 L396.00 1530.48 M400.78 1531.33 L401.31 1531.43 L401.97 1531.54 L402.37 1531.61 M407.44 1532.48 L407.85 1532.55 L408.50 1532.66 L409.15 1532.77 L409.81 1532.88 L410.46 1532.99 L411.11 1533.09 L411.77 1533.20 L412.42 1533.31 L413.07 1533.41 L413.73 1533.52 L414.38 1533.63 L415.03 1533.73 L415.69 1533.84 L416.34 1533.94 L416.99 1534.04 L417.65 1534.15 L418.30 1534.25 L418.95 1534.35 L419.60 1534.45 L420.26 1534.56 L420.91 1534.66 L421.56 1534.76 L422.22 1534.86 L422.87 1534.96 L423.52 1535.06 L424.18 1535.16 L424.83 1535.25 L425.16 1535.30 M429.94 1536.01 L430.06 1536.03 L430.71 1536.12 L431.36 1536.22 L431.54 1536.24 M436.62 1536.97 L437.24 1537.05 L437.90 1537.15 L438.55 1537.24 L439.20 1537.33 L439.85 1537.42 L440.51 1537.51 L441.16 1537.60 L441.81 1537.68 L442.47 1537.77 L443.12 1537.86 L443.77 1537.95 L444.43 1538.04 L445.08 1538.12 L445.73 1538.21 L446.39 1538.30 L447.04 1538.38 L447.69 1538.47 L448.35 1538.55 L449.00 1538.64 L449.65 1538.72 L450.31 1538.81 L450.96 1538.89 L451.61 1538.98 L452.27 1539.06 L452.92 1539.14 L453.57 1539.22 L454.23 1539.31 L454.36 1539.32 M459.15 1539.92 L459.45 1539.96 L460.10 1540.03 L460.74 1540.11 M465.83 1540.72 L465.98 1540.74 L466.64 1540.82 L467.29 1540.89 L467.94 1540.97 L468.60 1541.04 L469.25 1541.12 L469.90 1541.19 L470.56 1541.27 L471.21 1541.34 L471.86 1541.42 L472.52 1541.49 L473.17 1541.57 L473.82 1541.64 L474.48 1541.71 L475.13 1541.79 L475.78 1541.86 L476.44 1541.93 L477.09 1542.00 L477.74 1542.08 L478.40 1542.15 L479.05 1542.22 L479.70 1542.29 L480.35 1542.36 L481.01 1542.43 L481.66 1542.50 L482.31 1542.57 L482.97 1542.64 L483.59 1542.71 M488.38 1543.21 L488.85 1543.26 L489.50 1543.33 L489.98 1543.38 M495.07 1543.90 L495.38 1543.93 L496.03 1543.99 L496.69 1544.06 L497.34 1544.12 L497.99 1544.19 L498.65 1544.25 L499.30 1544.32 L499.95 1544.38 L500.60 1544.44 L501.26 1544.51 L501.91 1544.57 L502.56 1544.63 L503.22 1544.70 L503.87 1544.76 L504.52 1544.82 L505.18 1544.88 L505.83 1544.94 L506.48 1545.01 L507.14 1545.07 L507.79 1545.13 L508.44 1545.19 L509.10 1545.25 L509.75 1545.31 L510.40 1545.37 L511.06 1545.43 L511.71 1545.49 L512.36 1545.55 L512.84 1545.60 M517.63 1546.03 L518.24 1546.08 L518.90 1546.14 L519.23 1546.17 M524.32 1546.61 L524.77 1546.65 L525.43 1546.71 L526.08 1546.76 L526.73 1546.82 L527.39 1546.87 L528.04 1546.93 L528.69 1546.98 L529.35 1547.04 L530.00 1547.09 L530.65 1547.15 L531.31 1547.20 L531.96 1547.26 L532.61 1547.31 L533.27 1547.36 L533.92 1547.42 L534.57 1547.47 L535.23 1547.53 L535.88 1547.58 L536.53 1547.63 L537.19 1547.68 L537.84 1547.74 L538.49 1547.79 L539.15 1547.84 L539.80 1547.89 L540.45 1547.95 L541.10 1548.00 L541.76 1548.05 L542.10 1548.08 M546.90 1548.45 L546.98 1548.46 L547.64 1548.51 L548.29 1548.56 L548.49 1548.57 M553.59 1548.96 L554.17 1549.00 L554.82 1549.05 L555.48 1549.10 L556.13 1549.14 L556.78 1549.19 L557.44 1549.24 L558.09 1549.29 L558.74 1549.34 L559.40 1549.38 L560.05 1549.43 L560.70 1549.48 L561.35 1549.52 L562.01 1549.57 L562.66 1549.62 L563.31 1549.67 L563.97 1549.71 L564.62 1549.76 L565.27 1549.80 L565.93 1549.85 L566.58 1549.90 L567.23 1549.94 L567.89 1549.99 L568.54 1550.03 L569.19 1550.08 L569.85 1550.12 L570.50 1550.17 L571.15 1550.21 L571.37 1550.23 M576.17 1550.55 L576.38 1550.57 L577.03 1550.61 L577.69 1550.66 L577.77 1550.66 M582.86 1551.00 L582.91 1551.00 L583.56 1551.04 L584.22 1551.08 L584.87 1551.13 L585.52 1551.17 L586.18 1551.21 L586.83 1551.25 L587.48 1551.29 L588.14 1551.34 L588.79 1551.38 L589.44 1551.42 L590.10 1551.46 L590.75 1551.50 L591.40 1551.54 L592.06 1551.58 L592.71 1551.62 L593.36 1551.66 L594.02 1551.70 L594.67 1551.74 L595.32 1551.79 L595.98 1551.83 L596.63 1551.87 L597.28 1551.91 L597.94 1551.95 L598.59 1551.98 L599.24 1552.02 L599.90 1552.06 L600.55 1552.10 L600.65 1552.11 M605.45 1552.40 L605.77 1552.41 L606.43 1552.45 L607.05 1552.49 M612.14 1552.78 L612.31 1552.79 L612.96 1552.83 L613.61 1552.87 L614.27 1552.91 L614.92 1552.94 L615.57 1552.98 L616.23 1553.02 L616.88 1553.05 L617.53 1553.09 L618.19 1553.13 L618.84 1553.16 L619.49 1553.20 L620.15 1553.23 L620.80 1553.27 L621.45 1553.31 L622.10 1553.34 L622.76 1553.38 L623.41 1553.41 L624.06 1553.45 L624.72 1553.49 L625.37 1553.52 L626.02 1553.56 L626.68 1553.59 L627.33 1553.63 L627.98 1553.66 L628.64 1553.70 L629.29 1553.73 L629.93 1553.77 M634.73 1554.02 L635.17 1554.04 L635.82 1554.08 L636.33 1554.10 M641.43 1554.36 L641.70 1554.38 L642.35 1554.41 L643.01 1554.44 L643.66 1554.48 L644.31 1554.51 L644.97 1554.54 L645.62 1554.57 L646.27 1554.61 L646.93 1554.64 L647.58 1554.67 L648.23 1554.70 L648.89 1554.74 L649.54 1554.77 L650.19 1554.80 L650.85 1554.83 L651.50 1554.86 L652.15 1554.90 L652.81 1554.93 L653.46 1554.96 L654.11 1554.99 L654.77 1555.02 L655.42 1555.05 L656.07 1555.08 L656.73 1555.12 L657.38 1555.15 L658.03 1555.18 L658.69 1555.21 L659.22 1555.23 M664.02 1555.46 L664.56 1555.48 L665.22 1555.51 L665.62 1555.53 M670.72 1555.76 L671.10 1555.78 L671.75 1555.81" stroke="#000" stroke-width="1.30" fill="none" stroke-linejoin="round"/>
<path d="M84.60 1191.11 H100.70" stroke="#000" stroke-width="1.3" fill="none"/>
<path d="M84.50 1190.90 L85.15 1190.90 L85.81 1190.90 L86.46 1190.90 L87.11 1190.90 L87.77 1190.90 L88.42 1190.90 L89.07 1190.90 L89.73 1190.90 L90.38 1190.90 L91.03 1190.90 L91.69 1190.90 L92.34 1190.90 L92.99 1190.90 L93.65 1190.90 L94.30 1190.90 L94.95 1190.90 L95.60 1190.90 L96.26 1190.90 L96.91 1190.90 L97.56 1190.90 L98.22 1191.11 L98.87 1192.01 L99.52 1193.05 L100.18 1194.17 L100.83 1195.36 L101.48 1196.59 L102.14 1197.85 L102.74 1199.04 M111.97 1218.74 L112.59 1220.11 L113.24 1221.54 L113.90 1222.98 L114.55 1224.41 L115.20 1225.85 L115.85 1227.28 L116.51 1228.71 L117.16 1230.14 L117.81 1231.56 L118.47 1232.98 L119.12 1234.40 L119.77 1235.82 L120.43 1237.23 L121.08 1238.64 L121.38 1239.27 M124.15 1245.18 L124.35 1245.61 L125.00 1246.99 L125.65 1248.36 L126.31 1249.73 L126.96 1251.09 L127.61 1252.45 L128.27 1253.80 L128.92 1255.15 L129.57 1256.48 L130.23 1257.82 L130.88 1259.15 L131.53 1260.47 L132.19 1261.78 L132.84 1263.09 L133.49 1264.40 L134.15 1265.69 L134.80 1266.98 L135.45 1268.27 L136.10 1269.54 L136.76 1270.81 L137.41 1272.08 L138.06 1273.33 L138.72 1274.59 L139.37 1275.83 L140.02 1277.07 L140.68 1278.30 L141.11 1279.11 M151.32 1297.42 L151.78 1298.22 L152.44 1299.33 L153.09 1300.44 L153.74 1301.54 L154.40 1302.64 L155.05 1303.72 L155.70 1304.80 L156.35 1305.88 L157.01 1306.95 L157.66 1308.01 L158.31 1309.07 L158.97 1310.12 L159.62 1311.16 L160.27 1312.20 L160.93 1313.23 L161.58 1314.26 L162.23 1315.28 L162.38 1315.51 M165.70 1320.58 L166.15 1321.27 L166.81 1322.25 L167.46 1323.22 L168.11 1324.19 L168.77 1325.15 L169.42 1326.11 L170.07 1327.06 L170.73 1328.00 L171.38 1328.94 L172.03 1329.87 L172.69 1330.80 L173.34 1331.72 L173.99 1332.64 L174.65 1333.55 L175.30 1334.46 L175.95 1335.36 L176.60 1336.25 L177.26 1337.14 L177.91 1338.03 L178.56 1338.91 L179.22 1339.78 L179.87 1340.65 L180.52 1341.52 L181.18 1342.37 L181.83 1343.23 L182.48 1344.08 L183.14 1344.92 L183.79 1345.76 L184.44 1346.60 L185.10 1347.43 L185.75 1348.25 L186.11 1348.71 M198.32 1363.23 L198.81 1363.78 L199.47 1364.51 L200.12 1365.24 L200.77 1365.96 L201.43 1366.68 L202.08 1367.40 L202.73 1368.11 L203.39 1368.81 L204.04 1369.52 L204.69 1370.21 L205.35 1370.91 L206.00 1371.60 L206.65 1372.29 L207.31 1372.97 L207.96 1373.65 L208.61 1374.32 L209.27 1375.00 L209.92 1375.66 L210.57 1376.33 L211.23 1376.99 L211.38 1377.14 M215.25 1380.98 L215.80 1381.51 L216.45 1382.14 L217.10 1382.77 L217.76 1383.40 L218.41 1384.02 L219.06 1384.64 L219.72 1385.25 L220.37 1385.86 L221.02 1386.47 L221.68 1387.08 L222.33 1387.68 L222.98 1388.28 L223.64 1388.87 L224.29 1389.46 L224.94 1390.05 L225.60 1390.64 L226.25 1391.22 L226.90 1391.80 L227.56 1392.38 L228.21 1392.95 L228.86 1393.52 L229.52 1394.09 L230.17 1394.65 L230.82 1395.21 L231.48 1395.77 L232.13 1396.33 L232.78 1396.88 L233.44 1397.43 L234.09 1397.98 L234.74 1398.52 L235.40 1399.06 L236.05 1399.60 L236.70 1400.14 L237.35 1400.67 L238.01 1401.20 L238.64 1401.71 M252.27 1412.12 L252.38 1412.20 L253.03 1412.67 L253.69 1413.14 L254.34 1413.61 L254.99 1414.07 L255.65 1414.54 L256.30 1415.00 L256.95 1415.45 L257.60 1415.91 L258.26 1416.36 L258.91 1416.81 L259.56 1417.26 L260.22 1417.71 L260.87 1418.15 L261.52 1418.60 L262.18 1419.04 L262.83 1419.47 L263.48 1419.91 L264.14 1420.34 L264.79 1420.78 L265.44 1421.21 L266.10 1421.63 L266.60 1421.96 M270.80 1424.66 L271.32 1424.98 L271.98 1425.39 L272.63 1425.80 L273.28 1426.21 L273.94 1426.61 L274.59 1427.01 L275.24 1427.41 L275.90 1427.81 L276.55 1428.21 L277.20 1428.60 L277.85 1428.99 L278.51 1429.38 L279.16 1429.77 L279.81 1430.16 L280.47 1430.55 L281.12 1430.93 L281.77 1431.31 L282.43 1431.69 L283.08 1432.07 L283.73 1432.45 L284.39 1432.82 L285.04 1433.20 L285.69 1433.57 L286.35 1433.94 L287.00 1434.31 L287.65 1434.67 L288.31 1435.04 L288.96 1435.40 L289.61 1435.76 L290.27 1436.12 L290.92 1436.48 L291.57 1436.84 L292.23 1437.19 L292.88 1437.55 L293.53 1437.90 L294.19 1438.25 L294.84 1438.60 L295.49 1438.94 L295.84 1439.13 M310.19 1446.37 L310.52 1446.53 L311.17 1446.84 L311.82 1447.15 L312.48 1447.46 L313.13 1447.77 L313.78 1448.08 L314.44 1448.38 L315.09 1448.69 L315.74 1448.99 L316.40 1449.30 L317.05 1449.60 L317.70 1449.90 L318.35 1450.19 L319.01 1450.49 L319.66 1450.79 L320.31 1451.08 L320.97 1451.38 L321.62 1451.67 L322.27 1451.96 L322.93 1452.25 L323.58 1452.54 L324.23 1452.83 L324.89 1453.11 L325.14 1453.22 M329.50 1455.10 L330.11 1455.36 L330.77 1455.64 L331.42 1455.92 L332.07 1456.19 L332.73 1456.46 L333.38 1456.73 L334.03 1457.00 L334.69 1457.27 L335.34 1457.54 L335.99 1457.81 L336.65 1458.08 L337.30 1458.34 L337.95 1458.61 L338.60 1458.87 L339.26 1459.13 L339.91 1459.39 L340.56 1459.65 L341.22 1459.91 L341.87 1460.17 L342.52 1460.43 L343.18 1460.68 L343.83 1460.94 L344.48 1461.19 L345.14 1461.44 L345.79 1461.70 L346.44 1461.95 L347.10 1462.20 L347.75 1462.45 L348.40 1462.69 L349.06 1462.94 L349.71 1463.19 L350.36 1463.43 L351.02 1463.68 L351.67 1463.92 L352.32 1464.16 L352.98 1464.40 L353.63 1464.64 L354.28 1464.88 L354.94 1465.12 L355.29 1465.25 M369.97 1470.37 L370.61 1470.59 L371.27 1470.80 L371.92 1471.02 L372.57 1471.24 L373.23 1471.45 L373.88 1471.67 L374.53 1471.88 L375.19 1472.09 L375.84 1472.30 L376.49 1472.51 L377.15 1472.72 L377.80 1472.93 L378.45 1473.14 L379.10 1473.35 L379.76 1473.56 L380.41 1473.76 L381.06 1473.97 L381.72 1474.18 L382.37 1474.38 L383.02 1474.58 L383.68 1474.79 L384.33 1474.99 L384.98 1475.19 L385.19 1475.25 M389.61 1476.60 L390.21 1476.77 L390.86 1476.97 L391.52 1477.16 L392.17 1477.36 L392.82 1477.55 L393.48 1477.74 L394.13 1477.93 L394.78 1478.13 L395.44 1478.32 L396.09 1478.51 L396.74 1478.69 L397.40 1478.88 L398.05 1479.07 L398.70 1479.26 L399.35 1479.44 L400.01 1479.63 L400.66 1479.81 L401.31 1480.00 L401.97 1480.18 L402.62 1480.37 L403.27 1480.55 L403.93 1480.73 L404.58 1480.91 L405.23 1481.09 L405.89 1481.27 L406.54 1481.45 L407.19 1481.63 L407.85 1481.81 L408.50 1481.99 L409.15 1482.16 L409.81 1482.34 L410.46 1482.52 L411.11 1482.69 L411.77 1482.87 L412.42 1483.04 L413.07 1483.21 L413.73 1483.39 L414.38 1483.56 L415.03 1483.73 L415.69 1483.90 L415.75 1483.92 M430.58 1487.66 L430.71 1487.69 L431.36 1487.85 L432.02 1488.01 L432.67 1488.16 L433.32 1488.32 L433.98 1488.48 L434.63 1488.63 L435.28 1488.79 L435.94 1488.94 L436.59 1489.10 L437.24 1489.25 L437.90 1489.40 L438.55 1489.56 L439.20 1489.71 L439.85 1489.86 L440.51 1490.01 L441.16 1490.16 L441.81 1490.31 L442.47 1490.46 L443.12 1490.61 L443.77 1490.76 L444.43 1490.91 L445.08 1491.06 L445.73 1491.21 L445.93 1491.25 M450.39 1492.24 L450.96 1492.37 L451.61 1492.51 L452.27 1492.66 L452.92 1492.80 L453.57 1492.94 L454.23 1493.08 L454.88 1493.22 L455.53 1493.36 L456.19 1493.51 L456.84 1493.65 L457.49 1493.78 L458.15 1493.92 L458.80 1494.06 L459.45 1494.20 L460.10 1494.34 L460.76 1494.48 L461.41 1494.61 L462.06 1494.75 L462.72 1494.89 L463.37 1495.02 L464.02 1495.16 L464.68 1495.29 L465.33 1495.43 L465.98 1495.56 L466.64 1495.70 L467.29 1495.83 L467.94 1495.96 L468.60 1496.09 L469.25 1496.23 L469.90 1496.36 L470.56 1496.49 L471.21 1496.62 L471.86 1496.75 L472.52 1496.88 L473.17 1497.01 L473.82 1497.14 L474.48 1497.27 L475.13 1497.40 L475.78 1497.53 L476.44 1497.66 L476.68 1497.70 M491.59 1500.52 L492.11 1500.62 L492.77 1500.74 L493.42 1500.86 L494.07 1500.97 L494.73 1501.09 L495.38 1501.21 L496.03 1501.33 L496.69 1501.44 L497.34 1501.56 L497.99 1501.68 L498.65 1501.79 L499.30 1501.91 L499.95 1502.02 L500.60 1502.14 L501.26 1502.25 L501.91 1502.37 L502.56 1502.48 L503.22 1502.60 L503.87 1502.71 L504.52 1502.82 L505.18 1502.94 L505.83 1503.05 L506.48 1503.16 L507.00 1503.25 M511.48 1504.01 L511.71 1504.05 L512.36 1504.16 L513.02 1504.26 L513.67 1504.37 L514.32 1504.48 L514.98 1504.59 L515.63 1504.70 L516.28 1504.81 L516.94 1504.91 L517.59 1505.02 L518.24 1505.13 L518.90 1505.23 L519.55 1505.34 L520.20 1505.45 L520.85 1505.55 L521.51 1505.66 L522.16 1505.76 L522.81 1505.87 L523.47 1505.97 L524.12 1506.08 L524.77 1506.18 L525.43 1506.28 L526.08 1506.39 L526.73 1506.49 L527.39 1506.59 L528.04 1506.69 L528.69 1506.80 L529.35 1506.90 L530.00 1507.00 L530.65 1507.10 L531.31 1507.20 L531.96 1507.30 L532.61 1507.40 L533.27 1507.50 L533.92 1507.60 L534.57 1507.70 L535.23 1507.80 L535.88 1507.90 L536.53 1508.00 L537.19 1508.10 L537.84 1508.20 L537.86 1508.20 M552.80 1510.39 L552.86 1510.40 L553.52 1510.49 L554.17 1510.58 L554.82 1510.67 L555.48 1510.77 L556.13 1510.86 L556.78 1510.95 L557.44 1511.04 L558.09 1511.13 L558.74 1511.22 L559.40 1511.31 L560.05 1511.40 L560.70 1511.49 L561.35 1511.58 L562.01 1511.67 L562.66 1511.76 L563.31 1511.85 L563.97 1511.94 L564.62 1512.03 L565.27 1512.12 L565.93 1512.20 L566.58 1512.29 L567.23 1512.38 L567.89 1512.47 L568.25 1512.52 M572.74 1513.11 L573.11 1513.16 L573.77 1513.25 L574.42 1513.33 L575.07 1513.42 L575.73 1513.50 L576.38 1513.59 L577.03 1513.67 L577.69 1513.76 L578.34 1513.84 L578.99 1513.92 L579.65 1514.01 L580.30 1514.09 L580.95 1514.17 L581.60 1514.26 L582.26 1514.34 L582.91 1514.42 L583.56 1514.51 L584.22 1514.59 L584.87 1514.67 L585.52 1514.75 L586.18 1514.83 L586.83 1514.92 L587.48 1515.00 L588.14 1515.08 L588.79 1515.16 L589.44 1515.24 L590.10 1515.32 L590.75 1515.40 L591.40 1515.48 L592.06 1515.56 L592.71 1515.64 L593.36 1515.72 L594.02 1515.80 L594.67 1515.88 L595.32 1515.96 L595.98 1516.04 L596.63 1516.12 L597.28 1516.19 L597.94 1516.27 L598.59 1516.35 L599.16 1516.42 M614.12 1518.15 L614.27 1518.17 L614.92 1518.24 L615.57 1518.32 L616.23 1518.39 L616.88 1518.46 L617.53 1518.54 L618.19 1518.61 L618.84 1518.68 L619.49 1518.75 L620.15 1518.83 L620.80 1518.90 L621.45 1518.97 L622.10 1519.04 L622.76 1519.11 L623.41 1519.19 L624.06 1519.26 L624.72 1519.33 L625.37 1519.40 L626.02 1519.47 L626.68 1519.54 L627.33 1519.61 L627.98 1519.68 L628.64 1519.75 L629.29 1519.82 L629.59 1519.85 M634.08 1520.33 L634.52 1520.38 L635.17 1520.44 L635.82 1520.51 L636.48 1520.58 L637.13 1520.65 L637.78 1520.72 L638.44 1520.79 L639.09 1520.85 L639.74 1520.92 L640.40 1520.99 L641.05 1521.06 L641.70 1521.12 L642.35 1521.19 L643.01 1521.26 L643.66 1521.32 L644.31 1521.39 L644.97 1521.46 L645.62 1521.52 L646.27 1521.59 L646.93 1521.65 L647.58 1521.72 L648.23 1521.79 L648.89 1521.85 L649.54 1521.92 L650.19 1521.98 L650.85 1522.05 L651.50 1522.11 L652.15 1522.18 L652.81 1522.24 L653.46 1522.31 L654.11 1522.37 L654.77 1522.43 L655.42 1522.50 L656.07 1522.56 L656.73 1522.63 L657.38 1522.69 L658.03 1522.75 L658.69 1522.82 L659.34 1522.88 L659.99 1522.94 L660.53 1523.00" stroke="#000" stroke-width="1.30" fill="none" stroke-linejoin="round"/>
<path d="M84.60 1190.90 H100.70" stroke="#000" stroke-width="1.3" fill="none"/>
<path d="M84.50 1187.38 L85.15 1187.38 L85.81 1187.38 L86.46 1187.38 L87.11 1187.38 L87.77 1187.38 L88.42 1187.38 L89.07 1187.38 L89.73 1187.38 L90.38 1187.38 L91.03 1187.38 L91.69 1187.38 L92.34 1187.38 L92.99 1187.38 L93.65 1187.38 L94.30 1187.38 L94.95 1187.38 L95.60 1187.38 L96.26 1187.38 L96.91 1187.38 L97.56 1187.38 L98.22 1187.57 L98.87 1188.24 L99.52 1188.97 L100.18 1189.74 L100.83 1190.53 L101.48 1191.33 L102.14 1192.15 L102.79 1192.98 L103.44 1193.81 L104.10 1194.66 L104.75 1195.51 L105.40 1196.36 L106.06 1197.22 L106.71 1198.08 L107.36 1198.94 L108.02 1199.81 L108.67 1200.68 L109.32 1201.55 L109.98 1202.42 L110.63 1203.29 L111.28 1204.17 L111.94 1205.04 L112.59 1205.91 L113.24 1206.79 L113.90 1207.66 L114.55 1208.53 L115.20 1209.41 L115.85 1210.28 L116.51 1211.15 L117.16 1212.02 L117.81 1212.89 L118.47 1213.76 L119.12 1214.63 L119.77 1215.49 L120.43 1216.36 L121.08 1217.22 L121.73 1218.08 L122.39 1218.94 L123.04 1219.80 L123.69 1220.65 L124.35 1221.51 L125.00 1222.36 L125.65 1223.21 L126.31 1224.06 L126.96 1224.91 L127.61 1225.75 L128.27 1226.59 L128.92 1227.43 L129.57 1228.27 L130.23 1229.11 L130.88 1229.94 L131.53 1230.77 L132.19 1231.60 L132.84 1232.43 L133.49 1233.25 L134.15 1234.08 L134.80 1234.90 L135.45 1235.71 L136.10 1236.53 L136.76 1237.34 L137.41 1238.15 L138.06 1238.96 L138.72 1239.76 L139.37 1240.57 L140.02 1241.37 L140.68 1242.17 L141.33 1242.96 L141.98 1243.75 L142.64 1244.54 L143.29 1245.33 L143.94 1246.12 L144.60 1246.90 L145.25 1247.68 L145.90 1248.46 L146.56 1249.23 L147.21 1250.00 L147.86 1250.77 L148.52 1251.54 L149.17 1252.30 L149.82 1253.07 L150.48 1253.83 L151.13 1254.58 L151.78 1255.34 L152.44 1256.09 L153.09 1256.84 L153.74 1257.58 L154.40 1258.33 L155.05 1259.07 L155.70 1259.81 L156.35 1260.55 L157.01 1261.28 L157.66 1262.01 L158.31 1262.74 L158.97 1263.47 L159.62 1264.19 L160.27 1264.91 L160.93 1265.63 L161.58 1266.34 L162.23 1267.06 L162.89 1267.77 L163.54 1268.48 L164.19 1269.18 L164.85 1269.89 L165.50 1270.59 L166.15 1271.29 L166.81 1271.98 L167.46 1272.68 L168.11 1273.37 L168.77 1274.06 L169.42 1274.74 L170.07 1275.43 L170.73 1276.11 L171.38 1276.79 L172.03 1277.46 L172.69 1278.14 L173.34 1278.81 L173.99 1279.48 L174.65 1280.14 L175.30 1280.81 L175.95 1281.47 L176.60 1282.13 L177.26 1282.79 L177.91 1283.44 L178.56 1284.09 L179.22 1284.74 L179.87 1285.39 L180.52 1286.04 L181.18 1286.68 L181.83 1287.32 L182.48 1287.96 L183.14 1288.59 L183.79 1289.23 L184.44 1289.86 L185.10 1290.49 L185.75 1291.12 L186.40 1291.74 L187.06 1292.36 L187.71 1292.98 L188.36 1293.60 L189.02 1294.22 L189.67 1294.83 L190.32 1295.44 L190.98 1296.05 L191.63 1296.66 L192.28 1297.26 L192.94 1297.87 L193.59 1298.47 L194.24 1299.06 L194.90 1299.66 L195.55 1300.26 L196.20 1300.85 L196.85 1301.44 L197.51 1302.02 L198.16 1302.61 L198.81 1303.19 L199.47 1303.77 L200.12 1304.35 L200.77 1304.93 L201.43 1305.51 L202.08 1306.08 L202.73 1306.65 L203.39 1307.22 L204.04 1307.79 L204.69 1308.35 L205.35 1308.91 L206.00 1309.48 L206.65 1310.03 L207.31 1310.59 L207.96 1311.15 L208.61 1311.70 L209.27 1312.25 L209.92 1312.80 L210.57 1313.35 L211.23 1313.89 L211.88 1314.44 L212.53 1314.98 L213.19 1315.52 L213.84 1316.05 L214.49 1316.59 L215.15 1317.12 L215.80 1317.66 L216.45 1318.19 L217.10 1318.71 L217.76 1319.24 L218.41 1319.76 L219.06 1320.29 L219.72 1320.81 L220.37 1321.33 L221.02 1321.84 L221.68 1322.36 L222.33 1322.87 L222.98 1323.38 L223.64 1323.89 L224.29 1324.40 L224.94 1324.91 L225.60 1325.41 L226.25 1325.92 L226.90 1326.42 L227.56 1326.92 L228.21 1327.41 L228.86 1327.91 L229.52 1328.40 L230.17 1328.90 L230.82 1329.39 L231.48 1329.88 L232.13 1330.36 L232.78 1330.85 L233.44 1331.33 L234.09 1331.82 L234.74 1332.30 L235.40 1332.78 L236.05 1333.25 L236.70 1333.73 L237.35 1334.20 L238.01 1334.68 L238.66 1335.15 L239.31 1335.62 L239.97 1336.09 L240.62 1336.55 L241.27 1337.02 L241.93 1337.48 L242.58 1337.94 L243.23 1338.40 L243.89 1338.86 L244.54 1339.32 L245.19 1339.77 L245.85 1340.22 L246.50 1340.68 L247.15 1341.13 L247.81 1341.58 L248.46 1342.02 L249.11 1342.47 L249.77 1342.92 L250.42 1343.36 L251.07 1343.80 L251.73 1344.24 L252.38 1344.68 L253.03 1345.12 L253.69 1345.55 L254.34 1345.99 L254.99 1346.42 L255.65 1346.85 L256.30 1347.28 L256.95 1347.71 L257.60 1348.14 L258.26 1348.56 L258.91 1348.99 L259.56 1349.41 L260.22 1349.83 L260.87 1350.25 L261.52 1350.67 L262.18 1351.09 L262.83 1351.50 L263.48 1351.92 L264.14 1352.33 L264.79 1352.74 L265.44 1353.15 L266.10 1353.56 L266.75 1353.97 L267.40 1354.38 L268.06 1354.78 L268.71 1355.19 L269.36 1355.59 L270.02 1355.99 L270.67 1356.39 L271.32 1356.79 L271.98 1357.19 L272.63 1357.58 L273.28 1357.98 L273.94 1358.37 L274.59 1358.77 L275.24 1359.16 L275.90 1359.55 L276.55 1359.94 L277.20 1360.32 L277.85 1360.71 L278.51 1361.09 L279.16 1361.48 L279.81 1361.86 L280.47 1362.24 L281.12 1362.62 L281.77 1363.00 L282.43 1363.38 L283.08 1363.75 L283.73 1364.13 L284.39 1364.50 L285.04 1364.88 L285.69 1365.25 L286.35 1365.62 L287.00 1365.99 L287.65 1366.36 L288.31 1366.72 L288.96 1367.09 L289.61 1367.45 L290.27 1367.82 L290.92 1368.18 L291.57 1368.54 L292.23 1368.90 L292.88 1369.26 L293.53 1369.62 L294.19 1369.98 L294.84 1370.33 L295.49 1370.69 L296.15 1371.04 L296.80 1371.39 L297.45 1371.74 L298.10 1372.09 L298.76 1372.44 L299.41 1372.79 L300.06 1373.14 L300.72 1373.48 L301.37 1373.83 L302.02 1374.17 L302.68 1374.52 L303.33 1374.86 L303.98 1375.20 L304.64 1375.54 L305.29 1375.88 L305.94 1376.21 L306.60 1376.55 L307.25 1376.89 L307.90 1377.22 L308.56 1377.55 L309.21 1377.89 L309.86 1378.22 L310.52 1378.55 L311.17 1378.88 L311.82 1379.21 L312.48 1379.53 L313.13 1379.86 L313.78 1380.19 L314.44 1380.51 L315.09 1380.84 L315.74 1381.16 L316.40 1381.48 L317.05 1381.80 L317.70 1382.12 L318.35 1382.44 L319.01 1382.76 L319.66 1383.07 L320.31 1383.39 L320.97 1383.71 L321.62 1384.02 L322.27 1384.33 L322.93 1384.64 L323.58 1384.96 L324.23 1385.27 L324.89 1385.58 L325.54 1385.88 L326.19 1386.19 L326.85 1386.50 L327.50 1386.81 L328.15 1387.11 L328.81 1387.41 L329.46 1387.72 L330.11 1388.02 L330.77 1388.32 L331.42 1388.62 L332.07 1388.92 L332.73 1389.22 L333.38 1389.52 L334.03 1389.82 L334.69 1390.11 L335.34 1390.41 L335.99 1390.70 L336.65 1391.00 L337.30 1391.29 L337.95 1391.58 L338.60 1391.87 L339.26 1392.16 L339.91 1392.45 L340.56 1392.74 L341.22 1393.03 L341.87 1393.32 L342.52 1393.60 L343.18 1393.89 L343.83 1394.17 L344.48 1394.46 L345.14 1394.74 L345.79 1395.02 L346.44 1395.30 L347.10 1395.58 L347.75 1395.86 L348.40 1396.14 L349.06 1396.42 L349.71 1396.70 L350.36 1396.97 L351.02 1397.25 L351.67 1397.52 L352.32 1397.80 L352.98 1398.07 L353.63 1398.35 L354.28 1398.62 L354.94 1398.89 L355.59 1399.16 L356.24 1399.43 L356.90 1399.70 L357.55 1399.97 L358.20 1400.23 L358.85 1400.50 L359.51 1400.77 L360.16 1401.03 L360.81 1401.30 L361.47 1401.56 L362.12 1401.82 L362.77 1402.09 L363.43 1402.35 L364.08 1402.61 L364.73 1402.87 L365.39 1403.13 L366.04 1403.39 L366.69 1403.65 L367.35 1403.90 L368.00 1404.16 L368.65 1404.42 L369.31 1404.67 L369.96 1404.93 L370.61 1405.18 L371.27 1405.43 L371.92 1405.68 L372.57 1405.94 L373.23 1406.19 L373.88 1406.44 L374.53 1406.69 L375.19 1406.94 L375.84 1407.19 L376.49 1407.43 L377.15 1407.68 L377.80 1407.93 L378.45 1408.17 L379.10 1408.42 L379.76 1408.66 L380.41 1408.91 L381.06 1409.15 L381.72 1409.39 L382.37 1409.63 L383.02 1409.88 L383.68 1410.12 L384.33 1410.36 L384.98 1410.60 L385.64 1410.83 L386.29 1411.07 L386.94 1411.31 L387.60 1411.55 L388.25 1411.78 L388.90 1412.02 L389.56 1412.25 L390.21 1412.49 L390.86 1412.72 L391.52 1412.95 L392.17 1413.19 L392.82 1413.42 L393.48 1413.65 L394.13 1413.88 L394.78 1414.11 L395.44 1414.34 L396.09 1414.57 L396.74 1414.80 L397.40 1415.03 L398.05 1415.25 L398.70 1415.48 L399.35 1415.71 L400.01 1415.93 L400.66 1416.16 L401.31 1416.38 L401.97 1416.60 L402.62 1416.83 L403.27 1417.05 L403.93 1417.27 L404.58 1417.49 L405.23 1417.71 L405.89 1417.93 L406.54 1418.15 L407.19 1418.37 L407.85 1418.59 L408.50 1418.81 L409.15 1419.03 L409.81 1419.24 L410.46 1419.46 L411.11 1419.67 L411.77 1419.89 L412.42 1420.10 L413.07 1420.32 L413.73 1420.53 L414.38 1420.74 L415.03 1420.96 L415.69 1421.17 L416.34 1421.38 L416.99 1421.59 L417.65 1421.80 L418.30 1422.01 L418.95 1422.22 L419.60 1422.43 L420.26 1422.64 L420.91 1422.85 L421.56 1423.05 L422.22 1423.26 L422.87 1423.47 L423.52 1423.67 L424.18 1423.88 L424.83 1424.08 L425.48 1424.29 L426.14 1424.49 L426.79 1424.69 L427.44 1424.90 L428.10 1425.10 L428.75 1425.30 L429.40 1425.50 L430.06 1425.70 L430.71 1425.90 L431.36 1426.10 L432.02 1426.30 L432.67 1426.50 L433.32 1426.70 L433.98 1426.89 L434.63 1427.09 L435.28 1427.29 L435.94 1427.48 L436.59 1427.68 L437.24 1427.88 L437.90 1428.07 L438.55 1428.26 L439.20 1428.46 L439.85 1428.65 L440.51 1428.85 L441.16 1429.04 L441.81 1429.23 L442.47 1429.42 L443.12 1429.61 L443.77 1429.80 L444.43 1429.99 L445.08 1430.18 L445.73 1430.37 L446.39 1430.56 L447.04 1430.75 L447.69 1430.94 L448.35 1431.12 L449.00 1431.31 L449.65 1431.50 L450.31 1431.68 L450.96 1431.87 L451.61 1432.06 L452.27 1432.24 L452.92 1432.42 L453.57 1432.61 L454.23 1432.79 L454.88 1432.98 L455.53 1433.16 L456.19 1433.34 L456.84 1433.52 L457.49 1433.70 L458.15 1433.88 L458.80 1434.06 L459.45 1434.24 L460.10 1434.42 L460.76 1434.60 L461.41 1434.78 L462.06 1434.96 L462.72 1435.14 L463.37 1435.32 L464.02 1435.49 L464.68 1435.67 L465.33 1435.85 L465.98 1436.02 L466.64 1436.20 L467.29 1436.37 L467.94 1436.55 L468.60 1436.72 L469.25 1436.90 L469.90 1437.07 L470.56 1437.24 L471.21 1437.42 L471.86 1437.59 L472.52 1437.76 L473.17 1437.93 L473.82 1438.10 L474.48 1438.27 L475.13 1438.44 L475.78 1438.61 L476.44 1438.78 L477.09 1438.95 L477.74 1439.12 L478.40 1439.29 L479.05 1439.46 L479.70 1439.62 L480.35 1439.79 L481.01 1439.96 L481.66 1440.13 L482.31 1440.29 L482.97 1440.46 L483.62 1440.62 L484.27 1440.79 L484.93 1440.95 L485.58 1441.12 L486.23 1441.28 L486.89 1441.44 L487.54 1441.61 L488.19 1441.77 L488.85 1441.93 L489.50 1442.09 L490.15 1442.26 L490.81 1442.42 L491.46 1442.58 L492.11 1442.74 L492.77 1442.90 L493.42 1443.06 L494.07 1443.22 L494.73 1443.38 L495.38 1443.54 L496.03 1443.69 L496.69 1443.85 L497.34 1444.01 L497.99 1444.17 L498.65 1444.32 L499.30 1444.48 L499.95 1444.64 L500.60 1444.79 L501.26 1444.95 L501.91 1445.10 L502.56 1445.26 L503.22 1445.41 L503.87 1445.57 L504.52 1445.72 L505.18 1445.88 L505.83 1446.03 L506.48 1446.18 L507.14 1446.33 L507.79 1446.49 L508.44 1446.64 L509.10 1446.79 L509.75 1446.94 L510.40 1447.09 L511.06 1447.24 L511.71 1447.39 L512.36 1447.54 L513.02 1447.69 L513.67 1447.84 L514.32 1447.99 L514.98 1448.14 L515.63 1448.29 L516.28 1448.44 L516.94 1448.58 L517.59 1448.73 L518.24 1448.88 L518.90 1449.03 L519.55 1449.17 L520.20 1449.32 L520.85 1449.46 L521.51 1449.61 L522.16 1449.76 L522.81 1449.90 L523.47 1450.04 L524.12 1450.19 L524.77 1450.33 L525.43 1450.48 L526.08 1450.62 L526.73 1450.76 L527.39 1450.91 L528.04 1451.05 L528.69 1451.19 L529.35 1451.33 L530.00 1451.47 L530.65 1451.62 L531.31 1451.76 L531.96 1451.90 L532.61 1452.04 L533.27 1452.18 L533.92 1452.32 L534.57 1452.46 L535.23 1452.60 L535.88 1452.73 L536.53 1452.87 L537.19 1453.01 L537.84 1453.15 L538.49 1453.29 L539.15 1453.43 L539.80 1453.56 L540.45 1453.70 L541.10 1453.84 L541.76 1453.97 L542.41 1454.11 L543.06 1454.24 L543.72 1454.38 L544.37 1454.51 L545.02 1454.65 L545.68 1454.78 L546.33 1454.92 L546.98 1455.05 L547.64 1455.19 L548.29 1455.32 L548.94 1455.45 L549.60 1455.59 L550.25 1455.72 L550.90 1455.85 L551.56 1455.98 L552.21 1456.12 L552.86 1456.25 L553.52 1456.38 L554.17 1456.51 L554.82 1456.64 L555.48 1456.77 L556.13 1456.90 L556.78 1457.03 L557.44 1457.16 L558.09 1457.29 L558.74 1457.42 L559.40 1457.55 L560.05 1457.68 L560.70 1457.81 L561.35 1457.93 L562.01 1458.06 L562.66 1458.19 L563.31 1458.32 L563.97 1458.44 L564.62 1458.57 L565.27 1458.70 L565.93 1458.82 L566.58 1458.95 L567.23 1459.08 L567.89 1459.20 L568.54 1459.33 L569.19 1459.45 L569.85 1459.58 L570.50 1459.70 L571.15 1459.83 L571.81 1459.95 L572.46 1460.07 L573.11 1460.20 L573.77 1460.32 L574.42 1460.44 L575.07 1460.57 L575.73 1460.69 L576.38 1460.81 L577.03 1460.93 L577.69 1461.06 L578.34 1461.18 L578.99 1461.30 L579.65 1461.42 L580.30 1461.54 L580.95 1461.66 L581.60 1461.78 L582.26 1461.90 L582.91 1462.02 L583.56 1462.14 L584.22 1462.26 L584.87 1462.38 L585.52 1462.50 L586.18 1462.62 L586.83 1462.74 L587.48 1462.86 L588.14 1462.97 L588.79 1463.09 L589.44 1463.21 L590.10 1463.33 L590.75 1463.45 L591.40 1463.56 L592.06 1463.68 L592.71 1463.80 L593.36 1463.91 L594.02 1464.03 L594.67 1464.14 L595.32 1464.26 L595.98 1464.37 L596.63 1464.49 L597.28 1464.61 L597.94 1464.72 L598.59 1464.83 L599.24 1464.95 L599.90 1465.06 L600.55 1465.18 L601.20 1465.29 L601.85 1465.40 L602.51 1465.52 L603.16 1465.63 L603.81 1465.74 L604.47 1465.86 L605.12 1465.97 L605.77 1466.08 L606.43 1466.19 L607.08 1466.30 L607.73 1466.42 L608.39 1466.53 L609.04 1466.64 L609.69 1466.75 L610.35 1466.86 L611.00 1466.97 L611.65 1467.08 L612.31 1467.19 L612.96 1467.30 L613.61 1467.41 L614.27 1467.52 L614.92 1467.63 L615.57 1467.74 L616.23 1467.85 L616.88 1467.95 L617.53 1468.06 L618.19 1468.17 L618.84 1468.28 L619.49 1468.39 L620.15 1468.49 L620.80 1468.60 L621.45 1468.71 L622.10 1468.82 L622.76 1468.92 L623.41 1469.03 L624.06 1469.14 L624.72 1469.24 L625.37 1469.35 L626.02 1469.45 L626.68 1469.56 L627.33 1469.67 L627.98 1469.77 L628.64 1469.88 L629.29 1469.98 L629.94 1470.09 L630.60 1470.19 L631.25 1470.29 L631.90 1470.40 L632.56 1470.50 L633.21 1470.61 L633.86 1470.71 L634.52 1470.81 L635.17 1470.92 L635.82 1471.02 L636.48 1471.12 L637.13 1471.22 L637.78 1471.33 L638.44 1471.43 L639.09 1471.53 L639.74 1471.63 L640.40 1471.73 L641.05 1471.84 L641.70 1471.94 L642.35 1472.04 L643.01 1472.14 L643.66 1472.24 L644.31 1472.34 L644.97 1472.44 L645.62 1472.54 L646.27 1472.64 L646.93 1472.74 L647.58 1472.84 L648.23 1472.94 L648.89 1473.04 L649.54 1473.14 L650.19 1473.24 L650.85 1473.33 L651.50 1473.43 L652.15 1473.53 L652.81 1473.63 L653.46 1473.73 L654.11 1473.83 L654.77 1473.92 L655.42 1474.02 L656.07 1474.12 L656.73 1474.22 L657.38 1474.31 L658.03 1474.41 L658.69 1474.51 L659.34 1474.60 L659.99 1474.70 L660.65 1474.79 L661.30 1474.89 L661.95 1474.99 L662.60 1475.08 L663.26 1475.18 L663.91 1475.27 L664.56 1475.37 L665.22 1475.46 L665.87 1475.56 L666.52 1475.65 L667.18 1475.75 L667.83 1475.84 L668.48 1475.93 L669.14 1476.03 L669.79 1476.12 L670.44 1476.22 L671.10 1476.31 L671.75 1476.40" stroke="#000" stroke-width="1.30" fill="none" stroke-linejoin="round"/>
<path d="M84.60 1187.38 H100.70" stroke="#000" stroke-width="1.3" fill="none"/>
</g>
<rect x="93.46" y="1186.26" width="9.08" height="9.08"/>
<rect x="130.59" y="1486.64" width="9.08" height="9.08"/>
<rect x="160.96" y="1544.40" width="9.08" height="9.08"/>
<rect x="214.96" y="1559.81" width="9.08" height="9.08"/>
<rect x="363.46" y="1571.36" width="9.08" height="9.08"/>
<rect x="633.46" y="1571.36" width="9.08" height="9.08"/>
<path d="M98.00 1185.15 L103.38 1194.33 L92.62 1194.33 Z"/>
<path d="M135.12 1385.40 L140.51 1394.58 L129.74 1394.58 Z"/>
<path d="M165.50 1504.78 L170.88 1513.96 L160.12 1513.96 Z"/>
<path d="M219.50 1527.89 L224.88 1537.07 L214.12 1537.07 Z"/>
<path d="M368.00 1554.85 L373.38 1564.03 L362.62 1564.03 Z"/>
<path d="M638.00 1570.25 L643.38 1579.43 L632.62 1579.43 Z"/>
<path d="M93.64 1186.44 L102.36 1195.17 M93.64 1195.17 L102.36 1186.44" stroke="#000" stroke-width="2.91" fill="none"/>
<path d="M130.76 1305.82 L139.49 1314.55 M130.76 1314.55 L139.49 1305.82" stroke="#000" stroke-width="2.91" fill="none"/>
<path d="M161.13 1378.99 L169.87 1387.72 M161.13 1387.72 L169.87 1378.99" stroke="#000" stroke-width="2.91" fill="none"/>
<path d="M215.13 1452.15 L223.87 1460.88 M215.13 1460.88 L223.87 1452.15" stroke="#000" stroke-width="2.91" fill="none"/>
<path d="M363.63 1513.77 L372.37 1522.50 M363.63 1522.50 L372.37 1513.77" stroke="#000" stroke-width="2.91" fill="none"/>
<path d="M633.63 1559.98 L642.37 1568.71 M633.63 1568.71 L642.37 1559.98" stroke="#000" stroke-width="2.91" fill="none"/>
<path d="M98.00 1196.45 L103.38 1187.27 L92.62 1187.27 Z"/>
<path d="M135.12 1269.62 L140.51 1260.44 L129.74 1260.44 Z"/>
<path d="M165.50 1338.94 L170.88 1329.76 L160.12 1329.76 Z"/>
<path d="M219.50 1373.60 L224.88 1364.42 L214.12 1364.42 Z"/>
<path d="M368.00 1489.13 L373.38 1479.95 L362.62 1479.95 Z"/>
<path d="M638.00 1519.93 L643.38 1510.75 L632.62 1510.75 Z"/>
<circle cx="98.00" cy="1190.80" r="5.15"/>
<circle cx="135.12" cy="1221.61" r="5.15"/>
<circle cx="165.50" cy="1287.08" r="5.15"/>
<circle cx="219.50" cy="1310.18" r="5.15"/>
<circle cx="368.00" cy="1414.16" r="5.15"/>
<circle cx="638.00" cy="1464.22" r="5.15"/>
<path d="M84.60 1172.15 L84.60 1595.00 L672.15 1595.00" fill="none" stroke="#000" stroke-width="1.70" stroke-linecap="square" stroke-linejoin="miter"/>
<path d="M84.60 1575.90 H77.75 M84.60 1498.88 H77.75 M84.60 1421.86 H77.75 M84.60 1344.84 H77.75 M84.60 1267.82 H77.75 M84.60 1190.80 H77.75 M98.00 1595.00 V1601.85 M233.00 1595.00 V1601.85 M368.00 1595.00 V1601.85 M503.00 1595.00 V1601.85 M638.00 1595.00 V1601.85" stroke="#000" stroke-width="1.70" fill="none"/>
<g font-family='"Liberation Sans", sans-serif' font-size="16.50" fill="#000">
<text x="67.70" y="1581.81" text-anchor="end" font-size="16.50">0</text>
<text x="67.70" y="1504.79" text-anchor="end" font-size="16.50">20</text>
<text x="67.70" y="1427.77" text-anchor="end" font-size="16.50">40</text>
<text x="67.70" y="1350.75" text-anchor="end" font-size="16.50">60</text>
<text x="67.70" y="1273.73" text-anchor="end" font-size="16.50">80</text>
<text x="67.70" y="1196.71" text-anchor="end" font-size="16.50">100</text>
<text x="98.00" y="1624.91" text-anchor="middle">0</text>
<text x="233.00" y="1624.91" text-anchor="middle">2000</text>
<text x="368.00" y="1624.91" text-anchor="middle">4000</text>
<text x="503.00" y="1624.91" text-anchor="middle">6000</text>
<text x="638.00" y="1624.91" text-anchor="middle">8000</text>
</g>
<path d="M527.60 1212.50 L542.40 1212.50 M548.90 1212.50 L563.70 1212.50 M570.20 1212.50 L585.00 1212.50 M591.50 1212.50 L606.30 1212.50 M612.80 1212.50 L613.30 1212.50" stroke="#000" stroke-width="1.50" fill="none"/>
<rect x="570.90" y="1206.50" width="10.40" height="10.40"/>
<text x="613.60" y="1219.63" font-family='"Liberation Sans", sans-serif' font-size="23.00" fill="#000">1</text>
<path d="M527.60 1239.90 L529.20 1239.90 M534.00 1239.90 L535.60 1239.90 M540.40 1239.90 L542.00 1239.90 M546.80 1239.90 L548.40 1239.90 M553.20 1239.90 L554.80 1239.90 M559.60 1239.90 L561.20 1239.90 M566.00 1239.90 L567.60 1239.90 M572.40 1239.90 L574.00 1239.90 M578.80 1239.90 L580.40 1239.90 M585.20 1239.90 L586.80 1239.90 M591.60 1239.90 L593.20 1239.90 M598.00 1239.90 L599.60 1239.90 M604.40 1239.90 L606.00 1239.90" stroke="#000" stroke-width="1.60" fill="none"/>
<path d="M576.10 1229.20 L582.20 1239.60 L570.00 1239.60 Z"/>
<text x="613.60" y="1244.63" font-family='"Liberation Sans", sans-serif' font-size="23.00" fill="#000">7</text>
<path d="M527.60 1268.10 L547.00 1268.10 M551.10 1268.10 L552.90 1268.10 M559.30 1268.10 L578.70 1268.10 M582.80 1268.10 L584.60 1268.10 M591.00 1268.10 L610.40 1268.10" stroke="#000" stroke-width="1.50" fill="none"/>
<path d="M571.60 1256.50 L580.60 1265.50 M571.60 1265.50 L580.60 1256.50" stroke="#000" stroke-width="3.00" fill="none"/>
<text x="613.60" y="1268.93" font-family='"Liberation Sans", sans-serif' font-size="23.00" fill="#000">15</text>
<path d="M527.60 1290.40 L543.30 1290.40 M548.30 1290.40 L575.30 1290.40 M593.60 1290.40 L609.20 1290.40" stroke="#000" stroke-width="1.50" fill="none"/>
<path d="M576.10 1293.90 L582.20 1283.50 L570.00 1283.50 Z"/>
<text x="613.60" y="1294.23" font-family='"Liberation Sans", sans-serif' font-size="23.00" fill="#000">30</text>
<path d="M527.00 1311.50 L612.70 1311.50" stroke="#000" stroke-width="1.50" fill="none"/>
<circle cx="576.10" cy="1311.30" r="5.50"/>
<text x="613.60" y="1318.83" font-family='"Liberation Sans", sans-serif' font-size="23.00" fill="#000">60</text>
<text x="376.50" y="1661.00" text-anchor="middle" font-family='"Liberation Sans", sans-serif' font-size="19.60" fill="#000">Dose (g a.i ha<tspan dy="-7.5" font-size="13.5">-1</tspan><tspan dy="7.5">)</tspan></text>
<text transform="translate(17.10 1383.00) rotate(-90)" text-anchor="middle" font-family='"Liberation Sans", sans-serif' font-size="19.80" fill="#000">Biomass (%)</text>
<text class="t" x="1046.60" y="59.30" text-anchor="middle" font-family='"Liberation Serif", serif' font-size="21.50" fill="#000">Ploughing</text>
<clipPath id="c4"><rect x="772.80" y="93.20" width="553.50" height="397.60"/></clipPath>
<g clip-path="url(#c4)">
<path d="M772.81 46.76 L773.42 49.03 L774.04 51.30 L774.65 53.55 L775.26 55.79 L775.87 58.01 L776.48 60.23 L777.10 62.43 L777.71 64.63 L778.32 66.81 L778.93 68.98 L779.55 71.14 L780.16 73.28 L780.77 75.42 L781.38 77.54 L781.99 79.66 L782.61 81.76 L783.22 83.85 L783.83 85.93 L784.44 88.00 L785.06 90.06 L785.67 92.11 L786.28 94.15 L786.89 96.18 L787.50 98.19 L788.12 100.20 L788.73 102.19 L789.34 104.18 L789.95 106.16 L790.56 108.12 L791.18 110.07 L791.79 112.02 L792.40 113.95 L793.01 115.88 L793.63 117.79 L794.24 119.69 L794.85 121.59 L795.46 123.47 L796.07 125.35 L796.69 127.21 L797.30 129.07 L797.91 130.91 L798.52 132.75 L799.14 134.57 L799.75 136.39 L800.36 138.20 L800.97 140.00 L801.58 141.78 L802.20 143.56 L802.81 145.33 L803.42 147.09 L804.03 148.84 L804.65 150.59 L805.26 152.32 L805.87 154.04 L806.48 155.76 L807.09 157.46 L807.71 159.16 L808.32 160.85 L808.93 162.53 L809.54 164.20 L810.16 165.86 L810.77 167.52 L811.38 169.16 L811.99 170.80 L812.60 172.42 L813.22 174.04 L813.83 175.65 L814.44 177.26 L815.05 178.85 L815.67 180.44 L816.28 182.01 L816.89 183.58 L817.50 185.14 L818.11 186.70 L818.73 188.24 L819.34 189.78 L819.95 191.31 L820.56 192.83 L821.18 194.34 L821.79 195.85 L822.40 197.34 L823.01 198.83 L823.62 200.31 L824.24 201.79 L824.85 203.25 L825.46 204.71 L826.07 206.16 L826.69 207.61 L827.30 209.04 L827.91 210.47 L828.52 211.89 L829.13 213.30 L829.75 214.71 L830.36 216.11 L830.97 217.50 L831.58 218.88 L832.20 220.26 L832.81 221.63 L833.42 222.99 L834.03 224.35 L834.64 225.70 L835.26 227.04 L835.87 228.37 L836.48 229.70 L837.09 231.02 L837.70 232.34 L838.32 233.64 L838.93 234.94 L839.54 236.24 L840.15 237.52 L840.77 238.80 L841.38 240.07 L841.99 241.34 L842.60 242.60 L843.21 243.85 L843.83 245.10 L844.44 246.34 L845.05 247.58 L845.66 248.80 L846.28 250.02 L846.89 251.24 L847.50 252.45 L848.11 253.65 L848.72 254.84 L849.34 256.03 L849.95 257.22 L850.56 258.39 L851.17 259.57 L851.79 260.73 L852.40 261.89 L853.01 263.04 L853.62 264.19 L854.23 265.33 L854.85 266.46 L855.46 267.59 L856.07 268.72 L856.68 269.83 L857.30 270.94 L857.91 272.05 L858.52 273.15 L859.13 274.24 L859.74 275.33 L860.36 276.41 L860.97 277.49 L861.58 278.56 L862.19 279.63 L862.81 280.69 L863.42 281.74 L864.03 282.79 L864.64 283.84 L865.25 284.88 L865.87 285.91 L866.48 286.94 L867.09 287.96 L867.70 288.98 L868.32 289.99 L868.93 290.99 L869.54 291.99 L870.15 292.99 L870.76 293.98 L871.38 294.97 L871.99 295.95 L872.60 296.92 L873.21 297.89 L873.83 298.86 L874.44 299.82 L875.05 300.77 L875.66 301.72 L876.27 302.67 L876.89 303.61 L877.50 304.54 L878.11 305.47 L878.72 306.40 L879.34 307.32 L879.95 308.23 L880.56 309.15 L881.17 310.05 L881.78 310.95 L882.40 311.85 L883.01 312.74 L883.62 313.63 L884.23 314.51 L884.84 315.39 L885.46 316.27 L886.07 317.14 L886.68 318.00 L887.29 318.86 L887.91 319.72 L888.52 320.57 L889.13 321.41 L889.74 322.26 L890.35 323.09 L890.97 323.93 L891.58 324.76 L892.19 325.58 L892.80 326.40 L893.42 327.22 L894.03 328.03 L894.64 328.84 L895.25 329.64 L895.86 330.44 L896.48 331.24 L897.09 332.03 L897.70 332.82 L898.31 333.60 L898.93 334.38 L899.54 335.15 L900.15 335.92 L900.76 336.69 L901.37 337.45 L901.99 338.21 L902.60 338.97 L903.21 339.72 L903.82 340.47 L904.44 341.21 L905.05 341.95 L905.66 342.68 L906.27 343.41 L906.88 344.14 L907.50 344.87 L908.11 345.59 L908.72 346.30 L909.33 347.02 L909.95 347.72 L910.56 348.43 L911.17 349.13 L911.78 349.83 L912.39 350.52 L913.01 351.21 L913.62 351.90 L914.23 352.58 L914.84 353.26 L915.46 353.94 L916.07 354.61 L916.68 355.28 L917.29 355.95 L917.90 356.61 L918.52 357.27 L919.13 357.93 L919.74 358.58 L920.35 359.23 L920.97 359.87 L921.58 360.51 L922.19 361.15 L922.80 361.79 L923.41 362.42 L924.03 363.05 L924.64 363.67 L925.25 364.30 L925.86 364.91 L926.47 365.53 L927.09 366.14 L927.70 366.75 L928.31 367.36 L928.92 367.96 L929.54 368.56 L930.15 369.16 L930.76 369.75 L931.37 370.34 L931.98 370.93 L932.60 371.51 L933.21 372.09 L933.82 372.67 L934.43 373.25 L935.05 373.82 L935.66 374.39 L936.27 374.96 L936.88 375.52 L937.49 376.08 L938.11 376.64 L938.72 377.19 L939.33 377.74 L939.94 378.29 L940.56 378.84 L941.17 379.38 L941.78 379.92 L942.39 380.46 L943.00 380.99 L943.62 381.52 L944.23 382.05 L944.84 382.58 L945.45 383.10 L946.07 383.62 L946.68 384.14 L947.29 384.66 L947.90 385.17 L948.51 385.68 L949.13 386.19 L949.74 386.69 L950.35 387.19 L950.96 387.69 L951.58 388.19 L952.19 388.68 L952.80 389.18 L953.41 389.67 L954.02 390.15 L954.64 390.64 L955.25 391.12 L955.86 391.60 L956.47 392.07 L957.09 392.55 L957.70 393.02 L958.31 393.49 L958.92 393.95 L959.53 394.42 L960.15 394.88 L960.76 395.34 L961.37 395.80 L961.98 396.25 L962.60 396.70 L963.21 397.15 L963.82 397.60 L964.43 398.05 L965.04 398.49 L965.66 398.93 L966.27 399.37 L966.88 399.80 L967.49 400.24 L968.11 400.67 L968.72 401.10 L969.33 401.53 L969.94 401.95 L970.55 402.37 L971.17 402.79 L971.78 403.21 L972.39 403.63 L973.00 404.04 L973.61 404.45 L974.23 404.86 L974.84 405.27 L975.45 405.68 L976.06 406.08 L976.68 406.48 L977.29 406.88 L977.90 407.28 L978.51 407.67 L979.12 408.06 L979.74 408.45 L980.35 408.84 L980.96 409.23 L981.57 409.61 L982.19 410.00 L982.80 410.38 L983.41 410.76 L984.02 411.13 L984.63 411.51 L985.25 411.88 L985.86 412.25 L986.47 412.62 L987.08 412.99 L987.70 413.35 L988.31 413.71 L988.92 414.08 L989.53 414.43 L990.14 414.79 L990.76 415.15 L991.37 415.50 L991.98 415.85 L992.59 416.20 L993.21 416.55 L993.82 416.90 L994.43 417.24 L995.04 417.59 L995.65 417.93 L996.27 418.27 L996.88 418.60 L997.49 418.94 L998.10 419.27 L998.72 419.61 L999.33 419.94 L999.94 420.26 L1000.55 420.59 L1001.16 420.92 L1001.78 421.24 L1002.39 421.56 L1003.00 421.88 L1003.61 422.20 L1004.23 422.52 L1004.84 422.83 L1005.45 423.15 L1006.06 423.46 L1006.67 423.77 L1007.29 424.08 L1007.90 424.39 L1008.51 424.69 L1009.12 425.00 L1009.74 425.30 L1010.35 425.60 L1010.96 425.90 L1011.57 426.20 L1012.18 426.49 L1012.80 426.79 L1013.41 427.08 L1014.02 427.37 L1014.63 427.66 L1015.24 427.95 L1015.86 428.24 L1016.47 428.52 L1017.08 428.81 L1017.69 429.09 L1018.31 429.37 L1018.92 429.65 L1019.53 429.93 L1020.14 430.20 L1020.75 430.48 L1021.37 430.75 L1021.98 431.03 L1022.59 431.30 L1023.20 431.57 L1023.82 431.83 L1024.43 432.10 L1025.04 432.37 L1025.65 432.63 L1026.26 432.89 L1026.88 433.15 L1027.49 433.41 L1028.10 433.67 L1028.71 433.93 L1029.33 434.19 L1029.94 434.44 L1030.55 434.69 L1031.16 434.95 L1031.77 435.20 L1032.39 435.45 L1033.00 435.69 L1033.61 435.94 L1034.22 436.18 L1034.84 436.43 L1035.45 436.67 L1036.06 436.91 L1036.67 437.15 L1037.28 437.39 L1037.90 437.63 L1038.51 437.87 L1039.12 438.10 L1039.73 438.34 L1040.35 438.57 L1040.96 438.80 L1041.57 439.03 L1042.18 439.26 L1042.79 439.49 L1043.41 439.72 L1044.02 439.94 L1044.63 440.17 L1045.24 440.39 L1045.86 440.61 L1046.47 440.83 L1047.08 441.05 L1047.69 441.27 L1048.30 441.49 L1048.92 441.70 L1049.53 441.92 L1050.14 442.13 L1050.75 442.35 L1051.37 442.56 L1051.98 442.77 L1052.59 442.98 L1053.20 443.19 L1053.81 443.40 L1054.43 443.60 L1055.04 443.81 L1055.65 444.01 L1056.26 444.22 L1056.88 444.42 L1057.49 444.62 L1058.10 444.82 L1058.71 445.02 L1059.32 445.22 L1059.94 445.41 L1060.55 445.61 L1061.16 445.80 L1061.77 446.00 L1062.38 446.19 L1063.00 446.38 L1063.61 446.57 L1064.22 446.76 L1064.83 446.95 L1065.45 447.14 L1066.06 447.33 L1066.67 447.51 L1067.28 447.70 L1067.89 447.88 L1068.51 448.07 L1069.12 448.25 L1069.73 448.43 L1070.34 448.61 L1070.96 448.79 L1071.57 448.97 L1072.18 449.14 L1072.79 449.32 L1073.40 449.50 L1074.02 449.67 L1074.63 449.84 L1075.24 450.02 L1075.85 450.19 L1076.47 450.36 L1077.08 450.53 L1077.69 450.70 L1078.30 450.87 L1078.91 451.04 L1079.53 451.20 L1080.14 451.37 L1080.75 451.53 L1081.36 451.70 L1081.98 451.86 L1082.59 452.02 L1083.20 452.18 L1083.81 452.34 L1084.42 452.50 L1085.04 452.66 L1085.65 452.82 L1086.26 452.98 L1086.87 453.14 L1087.49 453.29 L1088.10 453.45 L1088.71 453.60 L1089.32 453.75 L1089.93 453.91 L1090.55 454.06 L1091.16 454.21 L1091.77 454.36 L1092.38 454.51 L1093.00 454.66 L1093.61 454.80 L1094.22 454.95 L1094.83 455.10 L1095.44 455.24 L1096.06 455.39 L1096.67 455.53 L1097.28 455.67 L1097.89 455.82 L1098.51 455.96 L1099.12 456.10 L1099.73 456.24 L1100.34 456.38 L1100.95 456.52 L1101.57 456.66 L1102.18 456.79 L1102.79 456.93 L1103.40 457.07 L1104.01 457.20 L1104.63 457.34 L1105.24 457.47 L1105.85 457.60 L1106.46 457.74 L1107.08 457.87 L1107.69 458.00 L1108.30 458.13 L1108.91 458.26 L1109.52 458.39 L1110.14 458.52 L1110.75 458.64 L1111.36 458.77 L1111.97 458.90 L1112.59 459.02 L1113.20 459.15 L1113.81 459.27 L1114.42 459.40 L1115.03 459.52 L1115.65 459.64 L1116.26 459.76 L1116.87 459.88 L1117.48 460.00 L1118.10 460.12 L1118.71 460.24 L1119.32 460.36 L1119.93 460.48 L1120.54 460.60 L1121.16 460.71 L1121.77 460.83 L1122.38 460.95 L1122.99 461.06 L1123.61 461.18 L1124.22 461.29 L1124.83 461.40 L1125.44 461.51 L1126.05 461.63 L1126.67 461.74 L1127.28 461.85 L1127.89 461.96 L1128.50 462.07 L1129.12 462.18 L1129.73 462.29 L1130.34 462.39 L1130.95 462.50 L1131.56 462.61 L1132.18 462.72 L1132.79 462.82 L1133.40 462.93 L1134.01 463.03 L1134.63 463.14 L1135.24 463.24 L1135.85 463.34 L1136.46 463.44 L1137.07 463.55 L1137.69 463.65 L1138.30 463.75 L1138.91 463.85 L1139.52 463.95 L1140.14 464.05 L1140.75 464.15 L1141.36 464.25 L1141.97 464.34 L1142.58 464.44 L1143.20 464.54 L1143.81 464.63 L1144.42 464.73 L1145.03 464.82 L1145.64 464.92 L1146.26 465.01 L1146.87 465.11 L1147.48 465.20 L1148.09 465.29 L1148.71 465.39 L1149.32 465.48 L1149.93 465.57 L1150.54 465.66 L1151.15 465.75 L1151.77 465.84 L1152.38 465.93 L1152.99 466.02 L1153.60 466.11 L1154.22 466.19 L1154.83 466.28 L1155.44 466.37 L1156.05 466.46 L1156.66 466.54 L1157.28 466.63 L1157.89 466.71 L1158.50 466.80 L1159.11 466.88 L1159.73 466.97 L1160.34 467.05 L1160.95 467.13 L1161.56 467.22 L1162.17 467.30 L1162.79 467.38 L1163.40 467.46 L1164.01 467.54 L1164.62 467.62 L1165.24 467.70 L1165.85 467.78 L1166.46 467.86 L1167.07 467.94 L1167.68 468.02 L1168.30 468.10 L1168.91 468.18 L1169.52 468.25 L1170.13 468.33 L1170.75 468.41 L1171.36 468.48 L1171.97 468.56 L1172.58 468.63 L1173.19 468.71 L1173.81 468.78 L1174.42 468.86 L1175.03 468.93 L1175.64 469.00 L1176.26 469.08 L1176.87 469.15 L1177.48 469.22 L1178.09 469.29 L1178.70 469.37 L1179.32 469.44 L1179.93 469.51 L1180.54 469.58 L1181.15 469.65 L1181.77 469.72 L1182.38 469.79 L1182.99 469.86 L1183.60 469.92 L1184.21 469.99 L1184.83 470.06 L1185.44 470.13 L1186.05 470.19 L1186.66 470.26 L1187.28 470.33 L1187.89 470.39 L1188.50 470.46 L1189.11 470.52 L1189.72 470.59 L1190.34 470.65 L1190.95 470.72 L1191.56 470.78 L1192.17 470.85 L1192.78 470.91 L1193.40 470.97 L1194.01 471.04 L1194.62 471.10 L1195.23 471.16 L1195.85 471.22 L1196.46 471.28 L1197.07 471.34 L1197.68 471.41 L1198.29 471.47 L1198.91 471.53 L1199.52 471.59 L1200.13 471.65 L1200.74 471.70 L1201.36 471.76 L1201.97 471.82 L1202.58 471.88 L1203.19 471.94 L1203.80 472.00 L1204.42 472.05 L1205.03 472.11 L1205.64 472.17 L1206.25 472.22 L1206.87 472.28 L1207.48 472.34 L1208.09 472.39 L1208.70 472.45 L1209.31 472.50 L1209.93 472.56 L1210.54 472.61 L1211.15 472.66 L1211.76 472.72 L1212.38 472.77 L1212.99 472.83 L1213.60 472.88 L1214.21 472.93 L1214.82 472.98 L1215.44 473.04 L1216.05 473.09 L1216.66 473.14 L1217.27 473.19 L1217.89 473.24 L1218.50 473.29 L1219.11 473.34 L1219.72 473.39 L1220.33 473.44 L1220.95 473.49 L1221.56 473.54 L1222.17 473.59 L1222.78 473.64 L1223.40 473.69 L1224.01 473.74 L1224.62 473.79 L1225.23 473.84 L1225.84 473.88 L1226.46 473.93 L1227.07 473.98 L1227.68 474.03 L1228.29 474.07 L1228.91 474.12 L1229.52 474.16 L1230.13 474.21 L1230.74 474.26 L1231.35 474.30 L1231.97 474.35 L1232.58 474.39 L1233.19 474.44 L1233.80 474.48 L1234.41 474.53 L1235.03 474.57 L1235.64 474.61 L1236.25 474.66 L1236.86 474.70 L1237.48 474.75 L1238.09 474.79 L1238.70 474.83 L1239.31 474.87 L1239.92 474.92 L1240.54 474.96 L1241.15 475.00 L1241.76 475.04 L1242.37 475.08 L1242.99 475.12 L1243.60 475.17 L1244.21 475.21 L1244.82 475.25 L1245.43 475.29 L1246.05 475.33 L1246.66 475.37 L1247.27 475.41 L1247.88 475.45 L1248.50 475.49 L1249.11 475.53 L1249.72 475.56 L1250.33 475.60 L1250.94 475.64 L1251.56 475.68 L1252.17 475.72 L1252.78 475.76 L1253.39 475.79 L1254.01 475.83 L1254.62 475.87 L1255.23 475.91 L1255.84 475.94 L1256.45 475.98 L1257.07 476.02 L1257.68 476.05 L1258.29 476.09 L1258.90 476.13 L1259.52 476.16 L1260.13 476.20 L1260.74 476.23 L1261.35 476.27 L1261.96 476.30 L1262.58 476.34 L1263.19 476.37 L1263.80 476.41 L1264.41 476.44 L1265.03 476.48 L1265.64 476.51 L1266.25 476.54 L1266.86 476.58 L1267.47 476.61 L1268.09 476.64 L1268.70 476.68 L1269.31 476.71 L1269.92 476.74 L1270.54 476.78 L1271.15 476.81 L1271.76 476.84 L1272.37 476.87 L1272.98 476.90 L1273.60 476.94 L1274.21 476.97 L1274.82 477.00 L1275.43 477.03 L1276.05 477.06 L1276.66 477.09 L1277.27 477.12 L1277.88 477.15 L1278.49 477.18 L1279.11 477.21 L1279.72 477.24 L1280.33 477.27 L1280.94 477.30 L1281.55 477.33 L1282.17 477.36 L1282.78 477.39 L1283.39 477.42 L1284.00 477.45 L1284.62 477.48 L1285.23 477.51 L1285.84 477.54 L1286.45 477.57 L1287.06 477.59 L1287.68 477.62 L1288.29 477.65 L1288.90 477.68 L1289.51 477.71 L1290.13 477.73 L1290.74 477.76 L1291.35 477.79 L1291.96 477.82 L1292.57 477.84 L1293.19 477.87 L1293.80 477.90 L1294.41 477.92 L1295.02 477.95 L1295.64 477.98 L1296.25 478.00 L1296.86 478.03 L1297.47 478.05 L1298.08 478.08 L1298.70 478.11 L1299.31 478.13 L1299.92 478.16 L1300.53 478.18 L1301.15 478.21 L1301.76 478.23 L1302.37 478.26 L1302.98 478.28 L1303.59 478.31 L1304.21 478.33 L1304.82 478.35 L1305.43 478.38 L1306.04 478.40 L1306.66 478.43 L1307.27 478.45 L1307.88 478.47 L1308.49 478.50 L1309.10 478.52 L1309.72 478.55 L1310.33 478.57 L1310.94 478.59 L1311.55 478.61 L1312.17 478.64 L1312.78 478.66 L1313.39 478.68 L1314.00 478.71 L1314.61 478.73 L1315.23 478.75 L1315.84 478.77 L1316.45 478.79 L1317.06 478.82 L1317.68 478.84 L1318.29 478.86 L1318.90 478.88 L1319.51 478.90 L1320.12 478.92 L1320.74 478.95 L1321.35 478.97 L1321.96 478.99 L1322.57 479.01 L1323.18 479.03" stroke="#000" stroke-width="1.2" fill="none"/>
</g>
<circle cx="789.49" cy="113.00" r="5.00"/>
<circle cx="839.52" cy="205.50" r="5.00"/>
<circle cx="906.24" cy="372.00" r="5.00"/>
<circle cx="1031.32" cy="430.09" r="5.00"/>
<circle cx="1281.49" cy="442.30" r="5.00"/>
<path d="M772.80 94.05 L772.80 490.80 L1323.45 490.80" fill="none" stroke="#000" stroke-width="1.70" stroke-linecap="square" stroke-linejoin="miter"/>
<path d="M772.80 483.00 H766.15 M772.80 409.00 H766.15 M772.80 335.00 H766.15 M772.80 261.00 H766.15 M772.80 187.00 H766.15 M772.80 113.00 H766.15 M781.15 490.80 V497.45 M864.54 490.80 V497.45 M947.93 490.80 V497.45 M1031.32 490.80 V497.45 M1114.71 490.80 V497.45 M1198.10 490.80 V497.45 M1281.49 490.80 V497.45" stroke="#000" stroke-width="1.70" fill="none"/>
<g font-family='"Liberation Sans", sans-serif' font-size="14.70" fill="#000">
<text x="755.60" y="488.26" text-anchor="end" font-size="14.70">0</text>
<text x="755.60" y="414.26" text-anchor="end" font-size="14.70">20</text>
<text x="755.60" y="340.26" text-anchor="end" font-size="14.70">40</text>
<text x="755.60" y="266.26" text-anchor="end" font-size="14.70">60</text>
<text x="755.60" y="192.26" text-anchor="end" font-size="14.70">80</text>
<text x="755.60" y="118.26" text-anchor="end" font-size="14.70">100</text>
<text x="781.15" y="519.26" text-anchor="middle">0</text>
<text x="864.54" y="519.26" text-anchor="middle">10</text>
<text x="947.93" y="519.26" text-anchor="middle">20</text>
<text x="1031.32" y="519.26" text-anchor="middle">30</text>
<text x="1114.71" y="519.26" text-anchor="middle">40</text>
<text x="1198.10" y="519.26" text-anchor="middle">50</text>
<text x="1281.49" y="519.26" text-anchor="middle">60</text>
</g>
<text x="1047.50" y="552.00" text-anchor="middle" font-family='"Liberation Sans", sans-serif' font-size="18.70" fill="#000">Time (days)</text>
<text transform="translate(708.90 282.40) rotate(-90)" text-anchor="middle" font-family='"Liberation Sans", sans-serif' font-size="18.70" fill="#000">[Prosulfocarb] (%)</text>
<text class="t" x="1047.00" y="609.00" text-anchor="middle" font-family='"Liberation Serif", serif' font-size="21.50" fill="#000">Cultivated</text>
<clipPath id="c5"><rect x="773.30" y="620.70" width="579.10" height="416.40"/></clipPath>
<g clip-path="url(#c5)">
<path d="M773.27 572.77 L773.91 575.10 L774.55 577.41 L775.20 579.71 L775.84 582.00 L776.48 584.28 L777.12 586.55 L777.76 588.81 L778.40 591.05 L779.04 593.28 L779.68 595.51 L780.32 597.72 L780.96 599.91 L781.60 602.10 L782.24 604.28 L782.88 606.44 L783.52 608.60 L784.16 610.74 L784.81 612.88 L785.45 615.00 L786.09 617.11 L786.73 619.21 L787.37 621.30 L788.01 623.38 L788.65 625.45 L789.29 627.50 L789.93 629.55 L790.57 631.59 L791.21 633.62 L791.85 635.63 L792.49 637.64 L793.13 639.63 L793.78 641.62 L794.42 643.59 L795.06 645.56 L795.70 647.52 L796.34 649.46 L796.98 651.40 L797.62 653.32 L798.26 655.24 L798.90 657.14 L799.54 659.04 L800.18 660.93 L800.82 662.81 L801.46 664.67 L802.10 666.53 L802.74 668.38 L803.39 670.22 L804.03 672.05 L804.67 673.87 L805.31 675.68 L805.95 677.48 L806.59 679.28 L807.23 681.06 L807.87 682.84 L808.51 684.60 L809.15 686.36 L809.79 688.11 L810.43 689.85 L811.07 691.58 L811.71 693.30 L812.36 695.01 L813.00 696.71 L813.64 698.41 L814.28 700.10 L814.92 701.77 L815.56 703.44 L816.20 705.10 L816.84 706.76 L817.48 708.40 L818.12 710.04 L818.76 711.66 L819.40 713.28 L820.04 714.89 L820.68 716.50 L821.32 718.09 L821.97 719.68 L822.61 721.26 L823.25 722.83 L823.89 724.39 L824.53 725.94 L825.17 727.49 L825.81 729.03 L826.45 730.56 L827.09 732.08 L827.73 733.60 L828.37 735.10 L829.01 736.60 L829.65 738.10 L830.29 739.58 L830.94 741.06 L831.58 742.53 L832.22 743.99 L832.86 745.44 L833.50 746.89 L834.14 748.33 L834.78 749.76 L835.42 751.19 L836.06 752.61 L836.70 754.02 L837.34 755.42 L837.98 756.82 L838.62 758.21 L839.26 759.59 L839.90 760.96 L840.55 762.33 L841.19 763.69 L841.83 765.05 L842.47 766.39 L843.11 767.74 L843.75 769.07 L844.39 770.40 L845.03 771.72 L845.67 773.03 L846.31 774.34 L846.95 775.64 L847.59 776.93 L848.23 778.22 L848.87 779.50 L849.52 780.77 L850.16 782.04 L850.80 783.30 L851.44 784.55 L852.08 785.80 L852.72 787.04 L853.36 788.28 L854.00 789.51 L854.64 790.73 L855.28 791.95 L855.92 793.16 L856.56 794.36 L857.20 795.56 L857.84 796.75 L858.49 797.94 L859.13 799.12 L859.77 800.29 L860.41 801.46 L861.05 802.62 L861.69 803.78 L862.33 804.93 L862.97 806.07 L863.61 807.21 L864.25 808.35 L864.89 809.47 L865.53 810.59 L866.17 811.71 L866.81 812.82 L867.45 813.92 L868.10 815.02 L868.74 816.12 L869.38 817.20 L870.02 818.29 L870.66 819.36 L871.30 820.43 L871.94 821.50 L872.58 822.56 L873.22 823.61 L873.86 824.66 L874.50 825.71 L875.14 826.75 L875.78 827.78 L876.42 828.81 L877.07 829.83 L877.71 830.85 L878.35 831.86 L878.99 832.87 L879.63 833.87 L880.27 834.87 L880.91 835.86 L881.55 836.85 L882.19 837.83 L882.83 838.81 L883.47 839.78 L884.11 840.74 L884.75 841.71 L885.39 842.66 L886.03 843.62 L886.68 844.56 L887.32 845.51 L887.96 846.44 L888.60 847.38 L889.24 848.31 L889.88 849.23 L890.52 850.15 L891.16 851.06 L891.80 851.97 L892.44 852.88 L893.08 853.78 L893.72 854.67 L894.36 855.56 L895.00 856.45 L895.65 857.33 L896.29 858.21 L896.93 859.08 L897.57 859.95 L898.21 860.82 L898.85 861.68 L899.49 862.53 L900.13 863.39 L900.77 864.23 L901.41 865.07 L902.05 865.91 L902.69 866.75 L903.33 867.58 L903.97 868.40 L904.61 869.22 L905.26 870.04 L905.90 870.85 L906.54 871.66 L907.18 872.47 L907.82 873.27 L908.46 874.07 L909.10 874.86 L909.74 875.65 L910.38 876.43 L911.02 877.21 L911.66 877.99 L912.30 878.76 L912.94 879.53 L913.58 880.29 L914.23 881.06 L914.87 881.81 L915.51 882.57 L916.15 883.31 L916.79 884.06 L917.43 884.80 L918.07 885.54 L918.71 886.27 L919.35 887.00 L919.99 887.73 L920.63 888.45 L921.27 889.17 L921.91 889.89 L922.55 890.60 L923.19 891.31 L923.84 892.01 L924.48 892.72 L925.12 893.41 L925.76 894.11 L926.40 894.80 L927.04 895.49 L927.68 896.17 L928.32 896.85 L928.96 897.53 L929.60 898.20 L930.24 898.87 L930.88 899.53 L931.52 900.20 L932.16 900.86 L932.81 901.51 L933.45 902.17 L934.09 902.82 L934.73 903.46 L935.37 904.11 L936.01 904.75 L936.65 905.38 L937.29 906.01 L937.93 906.64 L938.57 907.27 L939.21 907.90 L939.85 908.52 L940.49 909.13 L941.13 909.75 L941.77 910.36 L942.42 910.97 L943.06 911.57 L943.70 912.17 L944.34 912.77 L944.98 913.37 L945.62 913.96 L946.26 914.55 L946.90 915.14 L947.54 915.72 L948.18 916.30 L948.82 916.88 L949.46 917.45 L950.10 918.02 L950.74 918.59 L951.39 919.16 L952.03 919.72 L952.67 920.28 L953.31 920.84 L953.95 921.39 L954.59 921.95 L955.23 922.49 L955.87 923.04 L956.51 923.58 L957.15 924.12 L957.79 924.66 L958.43 925.20 L959.07 925.73 L959.71 926.26 L960.36 926.79 L961.00 927.31 L961.64 927.83 L962.28 928.35 L962.92 928.87 L963.56 929.38 L964.20 929.89 L964.84 930.40 L965.48 930.91 L966.12 931.41 L966.76 931.91 L967.40 932.41 L968.04 932.90 L968.68 933.40 L969.32 933.89 L969.97 934.38 L970.61 934.86 L971.25 935.34 L971.89 935.83 L972.53 936.30 L973.17 936.78 L973.81 937.25 L974.45 937.72 L975.09 938.19 L975.73 938.66 L976.37 939.12 L977.01 939.58 L977.65 940.04 L978.29 940.50 L978.94 940.95 L979.58 941.41 L980.22 941.86 L980.86 942.30 L981.50 942.75 L982.14 943.19 L982.78 943.63 L983.42 944.07 L984.06 944.51 L984.70 944.94 L985.34 945.37 L985.98 945.80 L986.62 946.23 L987.26 946.66 L987.90 947.08 L988.55 947.50 L989.19 947.92 L989.83 948.34 L990.47 948.75 L991.11 949.16 L991.75 949.57 L992.39 949.98 L993.03 950.39 L993.67 950.79 L994.31 951.19 L994.95 951.59 L995.59 951.99 L996.23 952.39 L996.87 952.78 L997.52 953.17 L998.16 953.56 L998.80 953.95 L999.44 954.34 L1000.08 954.72 L1000.72 955.10 L1001.36 955.48 L1002.00 955.86 L1002.64 956.24 L1003.28 956.61 L1003.92 956.99 L1004.56 957.36 L1005.20 957.73 L1005.84 958.09 L1006.48 958.46 L1007.13 958.82 L1007.77 959.18 L1008.41 959.54 L1009.05 959.90 L1009.69 960.25 L1010.33 960.61 L1010.97 960.96 L1011.61 961.31 L1012.25 961.66 L1012.89 962.01 L1013.53 962.35 L1014.17 962.69 L1014.81 963.04 L1015.45 963.38 L1016.10 963.71 L1016.74 964.05 L1017.38 964.38 L1018.02 964.72 L1018.66 965.05 L1019.30 965.38 L1019.94 965.71 L1020.58 966.03 L1021.22 966.36 L1021.86 966.68 L1022.50 967.00 L1023.14 967.32 L1023.78 967.64 L1024.42 967.96 L1025.06 968.27 L1025.71 968.58 L1026.35 968.89 L1026.99 969.20 L1027.63 969.51 L1028.27 969.82 L1028.91 970.12 L1029.55 970.43 L1030.19 970.73 L1030.83 971.03 L1031.47 971.33 L1032.11 971.63 L1032.75 971.92 L1033.39 972.22 L1034.03 972.51 L1034.68 972.80 L1035.32 973.09 L1035.96 973.38 L1036.60 973.67 L1037.24 973.95 L1037.88 974.24 L1038.52 974.52 L1039.16 974.80 L1039.80 975.08 L1040.44 975.36 L1041.08 975.64 L1041.72 975.91 L1042.36 976.19 L1043.00 976.46 L1043.64 976.73 L1044.29 977.00 L1044.93 977.27 L1045.57 977.54 L1046.21 977.80 L1046.85 978.07 L1047.49 978.33 L1048.13 978.59 L1048.77 978.86 L1049.41 979.11 L1050.05 979.37 L1050.69 979.63 L1051.33 979.88 L1051.97 980.14 L1052.61 980.39 L1053.26 980.64 L1053.90 980.89 L1054.54 981.14 L1055.18 981.39 L1055.82 981.64 L1056.46 981.88 L1057.10 982.12 L1057.74 982.37 L1058.38 982.61 L1059.02 982.85 L1059.66 983.09 L1060.30 983.33 L1060.94 983.56 L1061.58 983.80 L1062.23 984.03 L1062.87 984.26 L1063.51 984.50 L1064.15 984.73 L1064.79 984.96 L1065.43 985.18 L1066.07 985.41 L1066.71 985.64 L1067.35 985.86 L1067.99 986.09 L1068.63 986.31 L1069.27 986.53 L1069.91 986.75 L1070.55 986.97 L1071.19 987.19 L1071.84 987.40 L1072.48 987.62 L1073.12 987.83 L1073.76 988.05 L1074.40 988.26 L1075.04 988.47 L1075.68 988.68 L1076.32 988.89 L1076.96 989.10 L1077.60 989.31 L1078.24 989.51 L1078.88 989.72 L1079.52 989.92 L1080.16 990.12 L1080.81 990.33 L1081.45 990.53 L1082.09 990.73 L1082.73 990.93 L1083.37 991.12 L1084.01 991.32 L1084.65 991.52 L1085.29 991.71 L1085.93 991.91 L1086.57 992.10 L1087.21 992.29 L1087.85 992.48 L1088.49 992.67 L1089.13 992.86 L1089.77 993.05 L1090.42 993.24 L1091.06 993.42 L1091.70 993.61 L1092.34 993.79 L1092.98 993.97 L1093.62 994.16 L1094.26 994.34 L1094.90 994.52 L1095.54 994.70 L1096.18 994.88 L1096.82 995.05 L1097.46 995.23 L1098.10 995.41 L1098.74 995.58 L1099.39 995.76 L1100.03 995.93 L1100.67 996.10 L1101.31 996.27 L1101.95 996.44 L1102.59 996.61 L1103.23 996.78 L1103.87 996.95 L1104.51 997.12 L1105.15 997.28 L1105.79 997.45 L1106.43 997.61 L1107.07 997.78 L1107.71 997.94 L1108.35 998.10 L1109.00 998.26 L1109.64 998.42 L1110.28 998.58 L1110.92 998.74 L1111.56 998.90 L1112.20 999.06 L1112.84 999.22 L1113.48 999.37 L1114.12 999.53 L1114.76 999.68 L1115.40 999.83 L1116.04 999.99 L1116.68 1000.14 L1117.32 1000.29 L1117.97 1000.44 L1118.61 1000.59 L1119.25 1000.74 L1119.89 1000.88 L1120.53 1001.03 L1121.17 1001.18 L1121.81 1001.32 L1122.45 1001.47 L1123.09 1001.61 L1123.73 1001.76 L1124.37 1001.90 L1125.01 1002.04 L1125.65 1002.18 L1126.29 1002.32 L1126.93 1002.46 L1127.58 1002.60 L1128.22 1002.74 L1128.86 1002.88 L1129.50 1003.01 L1130.14 1003.15 L1130.78 1003.29 L1131.42 1003.42 L1132.06 1003.56 L1132.70 1003.69 L1133.34 1003.82 L1133.98 1003.95 L1134.62 1004.09 L1135.26 1004.22 L1135.90 1004.35 L1136.55 1004.48 L1137.19 1004.61 L1137.83 1004.73 L1138.47 1004.86 L1139.11 1004.99 L1139.75 1005.11 L1140.39 1005.24 L1141.03 1005.37 L1141.67 1005.49 L1142.31 1005.61 L1142.95 1005.74 L1143.59 1005.86 L1144.23 1005.98 L1144.87 1006.10 L1145.51 1006.22 L1146.16 1006.34 L1146.80 1006.46 L1147.44 1006.58 L1148.08 1006.70 L1148.72 1006.82 L1149.36 1006.93 L1150.00 1007.05 L1150.64 1007.17 L1151.28 1007.28 L1151.92 1007.40 L1152.56 1007.51 L1153.20 1007.62 L1153.84 1007.74 L1154.48 1007.85 L1155.13 1007.96 L1155.77 1008.07 L1156.41 1008.18 L1157.05 1008.29 L1157.69 1008.40 L1158.33 1008.51 L1158.97 1008.62 L1159.61 1008.73 L1160.25 1008.83 L1160.89 1008.94 L1161.53 1009.05 L1162.17 1009.15 L1162.81 1009.26 L1163.45 1009.36 L1164.10 1009.47 L1164.74 1009.57 L1165.38 1009.67 L1166.02 1009.77 L1166.66 1009.88 L1167.30 1009.98 L1167.94 1010.08 L1168.58 1010.18 L1169.22 1010.28 L1169.86 1010.38 L1170.50 1010.48 L1171.14 1010.58 L1171.78 1010.67 L1172.42 1010.77 L1173.06 1010.87 L1173.71 1010.96 L1174.35 1011.06 L1174.99 1011.15 L1175.63 1011.25 L1176.27 1011.34 L1176.91 1011.44 L1177.55 1011.53 L1178.19 1011.62 L1178.83 1011.72 L1179.47 1011.81 L1180.11 1011.90 L1180.75 1011.99 L1181.39 1012.08 L1182.03 1012.17 L1182.68 1012.26 L1183.32 1012.35 L1183.96 1012.44 L1184.60 1012.53 L1185.24 1012.62 L1185.88 1012.70 L1186.52 1012.79 L1187.16 1012.88 L1187.80 1012.96 L1188.44 1013.05 L1189.08 1013.13 L1189.72 1013.22 L1190.36 1013.30 L1191.00 1013.39 L1191.64 1013.47 L1192.29 1013.55 L1192.93 1013.64 L1193.57 1013.72 L1194.21 1013.80 L1194.85 1013.88 L1195.49 1013.96 L1196.13 1014.04 L1196.77 1014.12 L1197.41 1014.20 L1198.05 1014.28 L1198.69 1014.36 L1199.33 1014.44 L1199.97 1014.52 L1200.61 1014.60 L1201.26 1014.67 L1201.90 1014.75 L1202.54 1014.83 L1203.18 1014.90 L1203.82 1014.98 L1204.46 1015.06 L1205.10 1015.13 L1205.74 1015.21 L1206.38 1015.28 L1207.02 1015.35 L1207.66 1015.43 L1208.30 1015.50 L1208.94 1015.57 L1209.58 1015.65 L1210.22 1015.72 L1210.87 1015.79 L1211.51 1015.86 L1212.15 1015.93 L1212.79 1016.00 L1213.43 1016.07 L1214.07 1016.14 L1214.71 1016.21 L1215.35 1016.28 L1215.99 1016.35 L1216.63 1016.42 L1217.27 1016.49 L1217.91 1016.55 L1218.55 1016.62 L1219.19 1016.69 L1219.84 1016.75 L1220.48 1016.82 L1221.12 1016.89 L1221.76 1016.95 L1222.40 1017.02 L1223.04 1017.08 L1223.68 1017.15 L1224.32 1017.21 L1224.96 1017.28 L1225.60 1017.34 L1226.24 1017.40 L1226.88 1017.47 L1227.52 1017.53 L1228.16 1017.59 L1228.80 1017.65 L1229.45 1017.72 L1230.09 1017.78 L1230.73 1017.84 L1231.37 1017.90 L1232.01 1017.96 L1232.65 1018.02 L1233.29 1018.08 L1233.93 1018.14 L1234.57 1018.20 L1235.21 1018.26 L1235.85 1018.32 L1236.49 1018.38 L1237.13 1018.43 L1237.77 1018.49 L1238.42 1018.55 L1239.06 1018.61 L1239.70 1018.66 L1240.34 1018.72 L1240.98 1018.78 L1241.62 1018.83 L1242.26 1018.89 L1242.90 1018.94 L1243.54 1019.00 L1244.18 1019.05 L1244.82 1019.11 L1245.46 1019.16 L1246.10 1019.22 L1246.74 1019.27 L1247.38 1019.32 L1248.03 1019.38 L1248.67 1019.43 L1249.31 1019.48 L1249.95 1019.54 L1250.59 1019.59 L1251.23 1019.64 L1251.87 1019.69 L1252.51 1019.74 L1253.15 1019.79 L1253.79 1019.85 L1254.43 1019.90 L1255.07 1019.95 L1255.71 1020.00 L1256.35 1020.05 L1257.00 1020.10 L1257.64 1020.15 L1258.28 1020.20 L1258.92 1020.24 L1259.56 1020.29 L1260.20 1020.34 L1260.84 1020.39 L1261.48 1020.44 L1262.12 1020.48 L1262.76 1020.53 L1263.40 1020.58 L1264.04 1020.63 L1264.68 1020.67 L1265.32 1020.72 L1265.97 1020.77 L1266.61 1020.81 L1267.25 1020.86 L1267.89 1020.90 L1268.53 1020.95 L1269.17 1020.99 L1269.81 1021.04 L1270.45 1021.08 L1271.09 1021.13 L1271.73 1021.17 L1272.37 1021.21 L1273.01 1021.26 L1273.65 1021.30 L1274.29 1021.35 L1274.93 1021.39 L1275.58 1021.43 L1276.22 1021.47 L1276.86 1021.52 L1277.50 1021.56 L1278.14 1021.60 L1278.78 1021.64 L1279.42 1021.68 L1280.06 1021.72 L1280.70 1021.77 L1281.34 1021.81 L1281.98 1021.85 L1282.62 1021.89 L1283.26 1021.93 L1283.90 1021.97 L1284.55 1022.01 L1285.19 1022.05 L1285.83 1022.09 L1286.47 1022.13 L1287.11 1022.17 L1287.75 1022.20 L1288.39 1022.24 L1289.03 1022.28 L1289.67 1022.32 L1290.31 1022.36 L1290.95 1022.40 L1291.59 1022.43 L1292.23 1022.47 L1292.87 1022.51 L1293.51 1022.55 L1294.16 1022.58 L1294.80 1022.62 L1295.44 1022.66 L1296.08 1022.69 L1296.72 1022.73 L1297.36 1022.76 L1298.00 1022.80 L1298.64 1022.84 L1299.28 1022.87 L1299.92 1022.91 L1300.56 1022.94 L1301.20 1022.98 L1301.84 1023.01 L1302.48 1023.05 L1303.13 1023.08 L1303.77 1023.11 L1304.41 1023.15 L1305.05 1023.18 L1305.69 1023.22 L1306.33 1023.25 L1306.97 1023.28 L1307.61 1023.32 L1308.25 1023.35 L1308.89 1023.38 L1309.53 1023.41 L1310.17 1023.45 L1310.81 1023.48 L1311.45 1023.51 L1312.09 1023.54 L1312.74 1023.57 L1313.38 1023.61 L1314.02 1023.64 L1314.66 1023.67 L1315.30 1023.70 L1315.94 1023.73 L1316.58 1023.76 L1317.22 1023.79 L1317.86 1023.82 L1318.50 1023.85 L1319.14 1023.88 L1319.78 1023.91 L1320.42 1023.94 L1321.06 1023.97 L1321.71 1024.00 L1322.35 1024.03 L1322.99 1024.06 L1323.63 1024.09 L1324.27 1024.12 L1324.91 1024.15 L1325.55 1024.18 L1326.19 1024.21 L1326.83 1024.24 L1327.47 1024.26 L1328.11 1024.29 L1328.75 1024.32 L1329.39 1024.35 L1330.03 1024.38 L1330.67 1024.40 L1331.32 1024.43 L1331.96 1024.46 L1332.60 1024.49 L1333.24 1024.51 L1333.88 1024.54 L1334.52 1024.57 L1335.16 1024.59 L1335.80 1024.62 L1336.44 1024.65 L1337.08 1024.67 L1337.72 1024.70 L1338.36 1024.72 L1339.00 1024.75 L1339.64 1024.78 L1340.29 1024.80 L1340.93 1024.83 L1341.57 1024.85 L1342.21 1024.88 L1342.85 1024.90 L1343.49 1024.93 L1344.13 1024.95 L1344.77 1024.98 L1345.41 1025.00 L1346.05 1025.03 L1346.69 1025.05 L1347.33 1025.07 L1347.97 1025.10 L1348.61 1025.12 L1349.26 1025.15" stroke="#000" stroke-width="1.2" fill="none"/>
</g>
<circle cx="790.73" cy="640.80" r="5.20"/>
<circle cx="843.09" cy="738.05" r="5.20"/>
<circle cx="912.90" cy="913.10" r="5.20"/>
<circle cx="1043.81" cy="973.39" r="5.20"/>
<circle cx="1305.62" cy="987.01" r="5.20"/>
<path d="M773.30 621.55 L773.30 1037.10 L1349.55 1037.10" fill="none" stroke="#000" stroke-width="1.70" stroke-linecap="square" stroke-linejoin="miter"/>
<path d="M773.30 1029.80 H766.45 M773.30 952.00 H766.45 M773.30 874.20 H766.45 M773.30 796.40 H766.45 M773.30 718.60 H766.45 M773.30 640.80 H766.45 M782.00 1037.10 V1043.95 M869.27 1037.10 V1043.95 M956.54 1037.10 V1043.95 M1043.81 1037.10 V1043.95 M1131.08 1037.10 V1043.95 M1218.35 1037.10 V1043.95 M1305.62 1037.10 V1043.95" stroke="#000" stroke-width="1.70" fill="none"/>
<g font-family='"Liberation Sans", sans-serif' font-size="16.30" fill="#000">
<text x="755.90" y="1035.64" text-anchor="end" font-size="16.30">0</text>
<text x="755.90" y="957.84" text-anchor="end" font-size="16.30">20</text>
<text x="755.90" y="880.04" text-anchor="end" font-size="16.30">40</text>
<text x="755.90" y="802.24" text-anchor="end" font-size="16.30">60</text>
<text x="755.90" y="724.44" text-anchor="end" font-size="16.30">80</text>
<text x="755.90" y="646.64" text-anchor="end" font-size="16.30">100</text>
<text x="782.00" y="1066.84" text-anchor="middle">0</text>
<text x="869.27" y="1066.84" text-anchor="middle">10</text>
<text x="956.54" y="1066.84" text-anchor="middle">20</text>
<text x="1043.81" y="1066.84" text-anchor="middle">30</text>
<text x="1131.08" y="1066.84" text-anchor="middle">40</text>
<text x="1218.35" y="1066.84" text-anchor="middle">50</text>
<text x="1305.62" y="1066.84" text-anchor="middle">60</text>
</g>
<text x="1047.50" y="1099.50" text-anchor="middle" font-family='"Liberation Sans", sans-serif' font-size="19.70" fill="#000">Time (days)</text>
<text transform="translate(709.50 830.00) rotate(-90)" text-anchor="middle" font-family='"Liberation Sans", sans-serif' font-size="19.70" fill="#000">[Prosulfocarb] (%)</text>
<text class="t" x="1048.20" y="1156.25" text-anchor="middle" font-family='"Liberation Serif", serif' font-size="21.40" fill="#000">Direct-drilling</text>
<clipPath id="c6"><rect x="773.30" y="1171.30" width="590.20" height="423.70"/></clipPath>
<g clip-path="url(#c6)">
<path d="M772.70 578.68 L773.35 629.32 L774.01 675.29 L774.66 717.20 L775.31 755.56 L775.97 790.80 L776.62 823.27 L777.27 853.29 L777.93 881.12 L778.58 907.00 L779.23 931.11 L779.89 953.63 L780.54 974.71 L781.19 994.48 L781.85 1013.06 L782.50 1030.56 L783.15 1047.05 L783.81 1062.63 L784.46 1077.37 L785.11 1091.34 L785.77 1104.58 L786.42 1117.17 L787.07 1129.13 L787.73 1140.53 L788.38 1151.39 L789.03 1161.76 L789.69 1171.66 L790.34 1181.13 L790.99 1190.19 L791.65 1198.87 L792.30 1207.19 L792.96 1215.18 L793.61 1222.85 L794.26 1230.22 L794.92 1237.31 L795.57 1244.14 L796.22 1250.71 L796.88 1257.05 L797.53 1263.15 L798.18 1269.05 L798.84 1274.74 L799.49 1280.24 L800.14 1285.56 L800.80 1290.70 L801.45 1295.68 L802.10 1300.50 L802.76 1305.17 L803.41 1309.69 L804.06 1314.08 L804.72 1318.33 L805.37 1322.46 L806.02 1326.47 L806.68 1330.36 L807.33 1334.15 L807.98 1337.83 L808.64 1341.40 L809.29 1344.88 L809.94 1348.27 L810.60 1351.56 L811.25 1354.77 L811.90 1357.90 L812.56 1360.94 L813.21 1363.91 L813.86 1366.81 L814.52 1369.63 L815.17 1372.39 L815.82 1375.08 L816.48 1377.70 L817.13 1380.26 L817.78 1382.77 L818.44 1385.21 L819.09 1387.60 L819.74 1389.94 L820.40 1392.22 L821.05 1394.46 L821.70 1396.64 L822.36 1398.78 L823.01 1400.87 L823.66 1402.92 L824.32 1404.93 L824.97 1406.89 L825.62 1408.81 L826.28 1410.70 L826.93 1412.54 L827.58 1414.35 L828.24 1416.13 L828.89 1417.87 L829.55 1419.57 L830.20 1421.24 L830.85 1422.88 L831.51 1424.49 L832.16 1426.07 L832.81 1427.62 L833.47 1429.15 L834.12 1430.64 L834.77 1432.11 L835.43 1433.55 L836.08 1434.97 L836.73 1436.36 L837.39 1437.72 L838.04 1439.07 L838.69 1440.39 L839.35 1441.68 L840.00 1442.96 L840.65 1444.21 L841.31 1445.45 L841.96 1446.66 L842.61 1447.85 L843.27 1449.02 L843.92 1450.18 L844.57 1451.32 L845.23 1452.43 L845.88 1453.54 L846.53 1454.62 L847.19 1455.69 L847.84 1456.74 L848.49 1457.77 L849.15 1458.79 L849.80 1459.79 L850.45 1460.78 L851.11 1461.76 L851.76 1462.71 L852.41 1463.66 L853.07 1464.59 L853.72 1465.51 L854.37 1466.42 L855.03 1467.31 L855.68 1468.19 L856.33 1469.05 L856.99 1469.91 L857.64 1470.75 L858.29 1471.58 L858.95 1472.40 L859.60 1473.21 L860.25 1474.01 L860.91 1474.80 L861.56 1475.58 L862.21 1476.34 L862.87 1477.10 L863.52 1477.85 L864.17 1478.58 L864.83 1479.31 L865.48 1480.03 L866.14 1480.74 L866.79 1481.44 L867.44 1482.13 L868.10 1482.81 L868.75 1483.49 L869.40 1484.15 L870.06 1484.81 L870.71 1485.46 L871.36 1486.10 L872.02 1486.74 L872.67 1487.36 L873.32 1487.98 L873.98 1488.59 L874.63 1489.20 L875.28 1489.80 L875.94 1490.39 L876.59 1490.97 L877.24 1491.55 L877.90 1492.12 L878.55 1492.68 L879.20 1493.24 L879.86 1493.79 L880.51 1494.33 L881.16 1494.87 L881.82 1495.40 L882.47 1495.93 L883.12 1496.45 L883.78 1496.97 L884.43 1497.48 L885.08 1497.98 L885.74 1498.48 L886.39 1498.97 L887.04 1499.46 L887.70 1499.94 L888.35 1500.42 L889.00 1500.89 L889.66 1501.36 L890.31 1501.82 L890.96 1502.28 L891.62 1502.73 L892.27 1503.18 L892.92 1503.63 L893.58 1504.07 L894.23 1504.50 L894.88 1504.93 L895.54 1505.36 L896.19 1505.78 L896.84 1506.20 L897.50 1506.61 L898.15 1507.02 L898.80 1507.43 L899.46 1507.83 L900.11 1508.23 L900.76 1508.63 L901.42 1509.02 L902.07 1509.40 L902.73 1509.79 L903.38 1510.16 L904.03 1510.54 L904.69 1510.91 L905.34 1511.28 L905.99 1511.65 L906.65 1512.01 L907.30 1512.37 L907.95 1512.72 L908.61 1513.08 L909.26 1513.43 L909.91 1513.77 L910.57 1514.11 L911.22 1514.45 L911.87 1514.79 L912.53 1515.12 L913.18 1515.46 L913.83 1515.78 L914.49 1516.11 L915.14 1516.43 L915.79 1516.75 L916.45 1517.07 L917.10 1517.38 L917.75 1517.69 L918.41 1518.00 L919.06 1518.30 L919.71 1518.61 L920.37 1518.91 L921.02 1519.21 L921.67 1519.50 L922.33 1519.80 L922.98 1520.09 L923.63 1520.37 L924.29 1520.66 L924.94 1520.94 L925.59 1521.23 L926.25 1521.50 L926.90 1521.78 L927.55 1522.06 L928.21 1522.33 L928.86 1522.60 L929.51 1522.87 L930.17 1523.13 L930.82 1523.39 L931.47 1523.66 L932.13 1523.92 L932.78 1524.17 L933.43 1524.43 L934.09 1524.68 L934.74 1524.93 L935.39 1525.18 L936.05 1525.43 L936.70 1525.68 L937.35 1525.92 L938.01 1526.16 L938.66 1526.40 L939.32 1526.64 L939.97 1526.88 L940.62 1527.11 L941.28 1527.35 L941.93 1527.58 L942.58 1527.81 L943.24 1528.03 L943.89 1528.26 L944.54 1528.48 L945.20 1528.71 L945.85 1528.93 L946.50 1529.15 L947.16 1529.37 L947.81 1529.58 L948.46 1529.80 L949.12 1530.01 L949.77 1530.22 L950.42 1530.43 L951.08 1530.64 L951.73 1530.85 L952.38 1531.05 L953.04 1531.26 L953.69 1531.46 L954.34 1531.66 L955.00 1531.86 L955.65 1532.06 L956.30 1532.26 L956.96 1532.46 L957.61 1532.65 L958.26 1532.84 L958.92 1533.04 L959.57 1533.23 L960.22 1533.42 L960.88 1533.60 L961.53 1533.79 L962.18 1533.98 L962.84 1534.16 L963.49 1534.34 L964.14 1534.53 L964.80 1534.71 L965.45 1534.89 L966.10 1535.06 L966.76 1535.24 L967.41 1535.42 L968.06 1535.59 L968.72 1535.77 L969.37 1535.94 L970.02 1536.11 L970.68 1536.28 L971.33 1536.45 L971.98 1536.62 L972.64 1536.79 L973.29 1536.95 L973.94 1537.12 L974.60 1537.28 L975.25 1537.44 L975.91 1537.61 L976.56 1537.77 L977.21 1537.93 L977.87 1538.09 L978.52 1538.24 L979.17 1538.40 L979.83 1538.56 L980.48 1538.71 L981.13 1538.87 L981.79 1539.02 L982.44 1539.17 L983.09 1539.32 L983.75 1539.47 L984.40 1539.62 L985.05 1539.77 L985.71 1539.92 L986.36 1540.06 L987.01 1540.21 L987.67 1540.36 L988.32 1540.50 L988.97 1540.64 L989.63 1540.79 L990.28 1540.93 L990.93 1541.07 L991.59 1541.21 L992.24 1541.35 L992.89 1541.48 L993.55 1541.62 L994.20 1541.76 L994.85 1541.90 L995.51 1542.03 L996.16 1542.16 L996.81 1542.30 L997.47 1542.43 L998.12 1542.56 L998.77 1542.69 L999.43 1542.82 L1000.08 1542.95 L1000.73 1543.08 L1001.39 1543.21 L1002.04 1543.34 L1002.69 1543.47 L1003.35 1543.59 L1004.00 1543.72 L1004.65 1543.84 L1005.31 1543.97 L1005.96 1544.09 L1006.61 1544.21 L1007.27 1544.34 L1007.92 1544.46 L1008.57 1544.58 L1009.23 1544.70 L1009.88 1544.82 L1010.53 1544.94 L1011.19 1545.05 L1011.84 1545.17 L1012.50 1545.29 L1013.15 1545.40 L1013.80 1545.52 L1014.46 1545.64 L1015.11 1545.75 L1015.76 1545.86 L1016.42 1545.98 L1017.07 1546.09 L1017.72 1546.20 L1018.38 1546.31 L1019.03 1546.42 L1019.68 1546.53 L1020.34 1546.64 L1020.99 1546.75 L1021.64 1546.86 L1022.30 1546.97 L1022.95 1547.08 L1023.60 1547.18 L1024.26 1547.29 L1024.91 1547.40 L1025.56 1547.50 L1026.22 1547.61 L1026.87 1547.71 L1027.52 1547.81 L1028.18 1547.92 L1028.83 1548.02 L1029.48 1548.12 L1030.14 1548.22 L1030.79 1548.32 L1031.44 1548.42 L1032.10 1548.52 L1032.75 1548.62 L1033.40 1548.72 L1034.06 1548.82 L1034.71 1548.92 L1035.36 1549.02 L1036.02 1549.11 L1036.67 1549.21 L1037.32 1549.31 L1037.98 1549.40 L1038.63 1549.50 L1039.28 1549.59 L1039.94 1549.69 L1040.59 1549.78 L1041.24 1549.87 L1041.90 1549.97 L1042.55 1550.06 L1043.20 1550.15 L1043.86 1550.24 L1044.51 1550.33 L1045.16 1550.42 L1045.82 1550.51 L1046.47 1550.60 L1047.12 1550.69 L1047.78 1550.78 L1048.43 1550.87 L1049.09 1550.96 L1049.74 1551.05 L1050.39 1551.14 L1051.05 1551.22 L1051.70 1551.31 L1052.35 1551.39 L1053.01 1551.48 L1053.66 1551.57 L1054.31 1551.65 L1054.97 1551.74 L1055.62 1551.82 L1056.27 1551.90 L1056.93 1551.99 L1057.58 1552.07 L1058.23 1552.15 L1058.89 1552.23 L1059.54 1552.32 L1060.19 1552.40 L1060.85 1552.48 L1061.50 1552.56 L1062.15 1552.64 L1062.81 1552.72 L1063.46 1552.80 L1064.11 1552.88 L1064.77 1552.96 L1065.42 1553.04 L1066.07 1553.12 L1066.73 1553.19 L1067.38 1553.27 L1068.03 1553.35 L1068.69 1553.43 L1069.34 1553.50 L1069.99 1553.58 L1070.65 1553.65 L1071.30 1553.73 L1071.95 1553.80 L1072.61 1553.88 L1073.26 1553.95 L1073.91 1554.03 L1074.57 1554.10 L1075.22 1554.18 L1075.87 1554.25 L1076.53 1554.32 L1077.18 1554.39 L1077.83 1554.47 L1078.49 1554.54 L1079.14 1554.61 L1079.79 1554.68 L1080.45 1554.75 L1081.10 1554.82 L1081.75 1554.90 L1082.41 1554.97 L1083.06 1555.04 L1083.71 1555.11 L1084.37 1555.17 L1085.02 1555.24 L1085.68 1555.31 L1086.33 1555.38 L1086.98 1555.45 L1087.64 1555.52 L1088.29 1555.58 L1088.94 1555.65 L1089.60 1555.72 L1090.25 1555.79 L1090.90 1555.85 L1091.56 1555.92 L1092.21 1555.98 L1092.86 1556.05 L1093.52 1556.12 L1094.17 1556.18 L1094.82 1556.25 L1095.48 1556.31 L1096.13 1556.38 L1096.78 1556.44 L1097.44 1556.50 L1098.09 1556.57 L1098.74 1556.63 L1099.40 1556.69 L1100.05 1556.76 L1100.70 1556.82 L1101.36 1556.88 L1102.01 1556.94 L1102.66 1557.01 L1103.32 1557.07 L1103.97 1557.13 L1104.62 1557.19 L1105.28 1557.25 L1105.93 1557.31 L1106.58 1557.37 L1107.24 1557.43 L1107.89 1557.49 L1108.54 1557.55 L1109.20 1557.61 L1109.85 1557.67 L1110.50 1557.73 L1111.16 1557.79 L1111.81 1557.85 L1112.46 1557.90 L1113.12 1557.96 L1113.77 1558.02 L1114.42 1558.08 L1115.08 1558.14 L1115.73 1558.19 L1116.38 1558.25 L1117.04 1558.31 L1117.69 1558.36 L1118.34 1558.42 L1119.00 1558.48 L1119.65 1558.53 L1120.30 1558.59 L1120.96 1558.64 L1121.61 1558.70 L1122.27 1558.75 L1122.92 1558.81 L1123.57 1558.86 L1124.23 1558.92 L1124.88 1558.97 L1125.53 1559.03 L1126.19 1559.08 L1126.84 1559.13 L1127.49 1559.19 L1128.15 1559.24 L1128.80 1559.29 L1129.45 1559.35 L1130.11 1559.40 L1130.76 1559.45 L1131.41 1559.50 L1132.07 1559.56 L1132.72 1559.61 L1133.37 1559.66 L1134.03 1559.71 L1134.68 1559.76 L1135.33 1559.81 L1135.99 1559.86 L1136.64 1559.92 L1137.29 1559.97 L1137.95 1560.02 L1138.60 1560.07 L1139.25 1560.12 L1139.91 1560.17 L1140.56 1560.22 L1141.21 1560.27 L1141.87 1560.32 L1142.52 1560.36 L1143.17 1560.41 L1143.83 1560.46 L1144.48 1560.51 L1145.13 1560.56 L1145.79 1560.61 L1146.44 1560.66 L1147.09 1560.70 L1147.75 1560.75 L1148.40 1560.80 L1149.05 1560.85 L1149.71 1560.89 L1150.36 1560.94 L1151.01 1560.99 L1151.67 1561.04 L1152.32 1561.08 L1152.97 1561.13 L1153.63 1561.18 L1154.28 1561.22 L1154.93 1561.27 L1155.59 1561.31 L1156.24 1561.36 L1156.89 1561.40 L1157.55 1561.45 L1158.20 1561.50 L1158.86 1561.54 L1159.51 1561.59 L1160.16 1561.63 L1160.82 1561.67 L1161.47 1561.72 L1162.12 1561.76 L1162.78 1561.81 L1163.43 1561.85 L1164.08 1561.90 L1164.74 1561.94 L1165.39 1561.98 L1166.04 1562.03 L1166.70 1562.07 L1167.35 1562.11 L1168.00 1562.16 L1168.66 1562.20 L1169.31 1562.24 L1169.96 1562.28 L1170.62 1562.33 L1171.27 1562.37 L1171.92 1562.41 L1172.58 1562.45 L1173.23 1562.50 L1173.88 1562.54 L1174.54 1562.58 L1175.19 1562.62 L1175.84 1562.66 L1176.50 1562.70 L1177.15 1562.74 L1177.80 1562.78 L1178.46 1562.83 L1179.11 1562.87 L1179.76 1562.91 L1180.42 1562.95 L1181.07 1562.99 L1181.72 1563.03 L1182.38 1563.07 L1183.03 1563.11 L1183.68 1563.15 L1184.34 1563.19 L1184.99 1563.23 L1185.64 1563.27 L1186.30 1563.30 L1186.95 1563.34 L1187.60 1563.38 L1188.26 1563.42 L1188.91 1563.46 L1189.56 1563.50 L1190.22 1563.54 L1190.87 1563.58 L1191.52 1563.61 L1192.18 1563.65 L1192.83 1563.69 L1193.48 1563.73 L1194.14 1563.77 L1194.79 1563.80 L1195.45 1563.84 L1196.10 1563.88 L1196.75 1563.92 L1197.41 1563.95 L1198.06 1563.99 L1198.71 1564.03 L1199.37 1564.06 L1200.02 1564.10 L1200.67 1564.14 L1201.33 1564.17 L1201.98 1564.21 L1202.63 1564.25 L1203.29 1564.28 L1203.94 1564.32 L1204.59 1564.36 L1205.25 1564.39 L1205.90 1564.43 L1206.55 1564.46 L1207.21 1564.50 L1207.86 1564.53 L1208.51 1564.57 L1209.17 1564.60 L1209.82 1564.64 L1210.47 1564.67 L1211.13 1564.71 L1211.78 1564.74 L1212.43 1564.78 L1213.09 1564.81 L1213.74 1564.85 L1214.39 1564.88 L1215.05 1564.92 L1215.70 1564.95 L1216.35 1564.98 L1217.01 1565.02 L1217.66 1565.05 L1218.31 1565.09 L1218.97 1565.12 L1219.62 1565.15 L1220.27 1565.19 L1220.93 1565.22 L1221.58 1565.25 L1222.23 1565.29 L1222.89 1565.32 L1223.54 1565.35 L1224.19 1565.39 L1224.85 1565.42 L1225.50 1565.45 L1226.15 1565.48 L1226.81 1565.52 L1227.46 1565.55 L1228.11 1565.58 L1228.77 1565.61 L1229.42 1565.65 L1230.07 1565.68 L1230.73 1565.71 L1231.38 1565.74 L1232.04 1565.77 L1232.69 1565.80 L1233.34 1565.84 L1234.00 1565.87 L1234.65 1565.90 L1235.30 1565.93 L1235.96 1565.96 L1236.61 1565.99 L1237.26 1566.02 L1237.92 1566.05 L1238.57 1566.09 L1239.22 1566.12 L1239.88 1566.15 L1240.53 1566.18 L1241.18 1566.21 L1241.84 1566.24 L1242.49 1566.27 L1243.14 1566.30 L1243.80 1566.33 L1244.45 1566.36 L1245.10 1566.39 L1245.76 1566.42 L1246.41 1566.45 L1247.06 1566.48 L1247.72 1566.51 L1248.37 1566.54 L1249.02 1566.57 L1249.68 1566.60 L1250.33 1566.63 L1250.98 1566.65 L1251.64 1566.68 L1252.29 1566.71 L1252.94 1566.74 L1253.60 1566.77 L1254.25 1566.80 L1254.90 1566.83 L1255.56 1566.86 L1256.21 1566.89 L1256.86 1566.91 L1257.52 1566.94 L1258.17 1566.97 L1258.82 1567.00 L1259.48 1567.03 L1260.13 1567.06 L1260.78 1567.08 L1261.44 1567.11 L1262.09 1567.14 L1262.74 1567.17 L1263.40 1567.20 L1264.05 1567.22 L1264.70 1567.25 L1265.36 1567.28 L1266.01 1567.31 L1266.66 1567.33 L1267.32 1567.36 L1267.97 1567.39 L1268.63 1567.42 L1269.28 1567.44 L1269.93 1567.47 L1270.59 1567.50 L1271.24 1567.52 L1271.89 1567.55 L1272.55 1567.58 L1273.20 1567.60 L1273.85 1567.63 L1274.51 1567.66 L1275.16 1567.68 L1275.81 1567.71 L1276.47 1567.74 L1277.12 1567.76 L1277.77 1567.79 L1278.43 1567.81 L1279.08 1567.84 L1279.73 1567.87 L1280.39 1567.89 L1281.04 1567.92 L1281.69 1567.94 L1282.35 1567.97 L1283.00 1568.00 L1283.65 1568.02 L1284.31 1568.05 L1284.96 1568.07 L1285.61 1568.10 L1286.27 1568.12 L1286.92 1568.15 L1287.57 1568.17 L1288.23 1568.20 L1288.88 1568.22 L1289.53 1568.25 L1290.19 1568.27 L1290.84 1568.30 L1291.49 1568.32 L1292.15 1568.35 L1292.80 1568.37 L1293.45 1568.40 L1294.11 1568.42 L1294.76 1568.45 L1295.41 1568.47 L1296.07 1568.49 L1296.72 1568.52 L1297.37 1568.54 L1298.03 1568.57 L1298.68 1568.59 L1299.33 1568.62 L1299.99 1568.64 L1300.64 1568.66 L1301.29 1568.69 L1301.95 1568.71 L1302.60 1568.73 L1303.25 1568.76 L1303.91 1568.78 L1304.56 1568.81 L1305.22 1568.83 L1305.87 1568.85 L1306.52 1568.88 L1307.18 1568.90 L1307.83 1568.92 L1308.48 1568.95 L1309.14 1568.97 L1309.79 1568.99 L1310.44 1569.01 L1311.10 1569.04 L1311.75 1569.06 L1312.40 1569.08 L1313.06 1569.11 L1313.71 1569.13 L1314.36 1569.15 L1315.02 1569.17 L1315.67 1569.20 L1316.32 1569.22 L1316.98 1569.24 L1317.63 1569.26 L1318.28 1569.29 L1318.94 1569.31 L1319.59 1569.33 L1320.24 1569.35 L1320.90 1569.38 L1321.55 1569.40 L1322.20 1569.42 L1322.86 1569.44 L1323.51 1569.46 L1324.16 1569.49 L1324.82 1569.51 L1325.47 1569.53 L1326.12 1569.55 L1326.78 1569.57 L1327.43 1569.59 L1328.08 1569.62 L1328.74 1569.64 L1329.39 1569.66 L1330.04 1569.68 L1330.70 1569.70 L1331.35 1569.72 L1332.00 1569.74 L1332.66 1569.77 L1333.31 1569.79 L1333.96 1569.81 L1334.62 1569.83 L1335.27 1569.85 L1335.92 1569.87 L1336.58 1569.89 L1337.23 1569.91 L1337.88 1569.93 L1338.54 1569.95 L1339.19 1569.98 L1339.84 1570.00 L1340.50 1570.02 L1341.15 1570.04 L1341.81 1570.06 L1342.46 1570.08 L1343.11 1570.10 L1343.77 1570.12 L1344.42 1570.14 L1345.07 1570.16 L1345.73 1570.18 L1346.38 1570.20 L1347.03 1570.22 L1347.69 1570.24 L1348.34 1570.26 L1348.99 1570.28 L1349.65 1570.30 L1350.30 1570.32 L1350.95 1570.34 L1351.61 1570.36 L1352.26 1570.38 L1352.91 1570.40 L1353.57 1570.42 L1354.22 1570.44 L1354.87 1570.46 L1355.53 1570.48 L1356.18 1570.50 L1356.83 1570.52 L1357.49 1570.54 L1358.14 1570.56 L1358.79 1570.58 L1359.45 1570.59 L1360.10 1570.61" stroke="#000" stroke-width="1.2" fill="none"/>
</g>
<circle cx="791.12" cy="1192.00" r="5.30"/>
<circle cx="843.90" cy="1448.69" r="5.30"/>
<circle cx="915.10" cy="1519.77" r="5.30"/>
<circle cx="1048.60" cy="1550.17" r="5.30"/>
<circle cx="1315.60" cy="1566.76" r="5.30"/>
<path d="M773.30 1172.15 L773.30 1595.00 L1360.65 1595.00" fill="none" stroke="#000" stroke-width="1.70" stroke-linecap="square" stroke-linejoin="miter"/>
<path d="M773.30 1586.90 H766.45 M773.30 1507.92 H766.45 M773.30 1428.94 H766.45 M773.30 1349.96 H766.45 M773.30 1270.98 H766.45 M773.30 1192.00 H766.45 M781.60 1595.00 V1601.85 M870.60 1595.00 V1601.85 M959.60 1595.00 V1601.85 M1048.60 1595.00 V1601.85 M1137.60 1595.00 V1601.85 M1226.60 1595.00 V1601.85 M1315.60 1595.00 V1601.85" stroke="#000" stroke-width="1.70" fill="none"/>
<g font-family='"Liberation Sans", sans-serif' font-size="16.30" fill="#000">
<text x="755.90" y="1592.74" text-anchor="end" font-size="16.30">0</text>
<text x="755.90" y="1513.76" text-anchor="end" font-size="16.30">20</text>
<text x="755.90" y="1434.78" text-anchor="end" font-size="16.30">40</text>
<text x="755.90" y="1355.80" text-anchor="end" font-size="16.30">60</text>
<text x="755.90" y="1276.82" text-anchor="end" font-size="16.30">80</text>
<text x="755.90" y="1197.84" text-anchor="end" font-size="16.30">100</text>
<text x="781.60" y="1624.74" text-anchor="middle">0</text>
<text x="870.60" y="1624.74" text-anchor="middle">10</text>
<text x="959.60" y="1624.74" text-anchor="middle">20</text>
<text x="1048.60" y="1624.74" text-anchor="middle">30</text>
<text x="1137.60" y="1624.74" text-anchor="middle">40</text>
<text x="1226.60" y="1624.74" text-anchor="middle">50</text>
<text x="1315.60" y="1624.74" text-anchor="middle">60</text>
</g>
<text x="1047.50" y="1656.90" text-anchor="middle" font-family='"Liberation Sans", sans-serif' font-size="19.70" fill="#000">Time (days)</text>
<text transform="translate(709.50 1384.20) rotate(-90)" text-anchor="middle" font-family='"Liberation Sans", sans-serif' font-size="19.70" fill="#000">[Prosulfocar] (%)</text>
</svg>
</body></html>
